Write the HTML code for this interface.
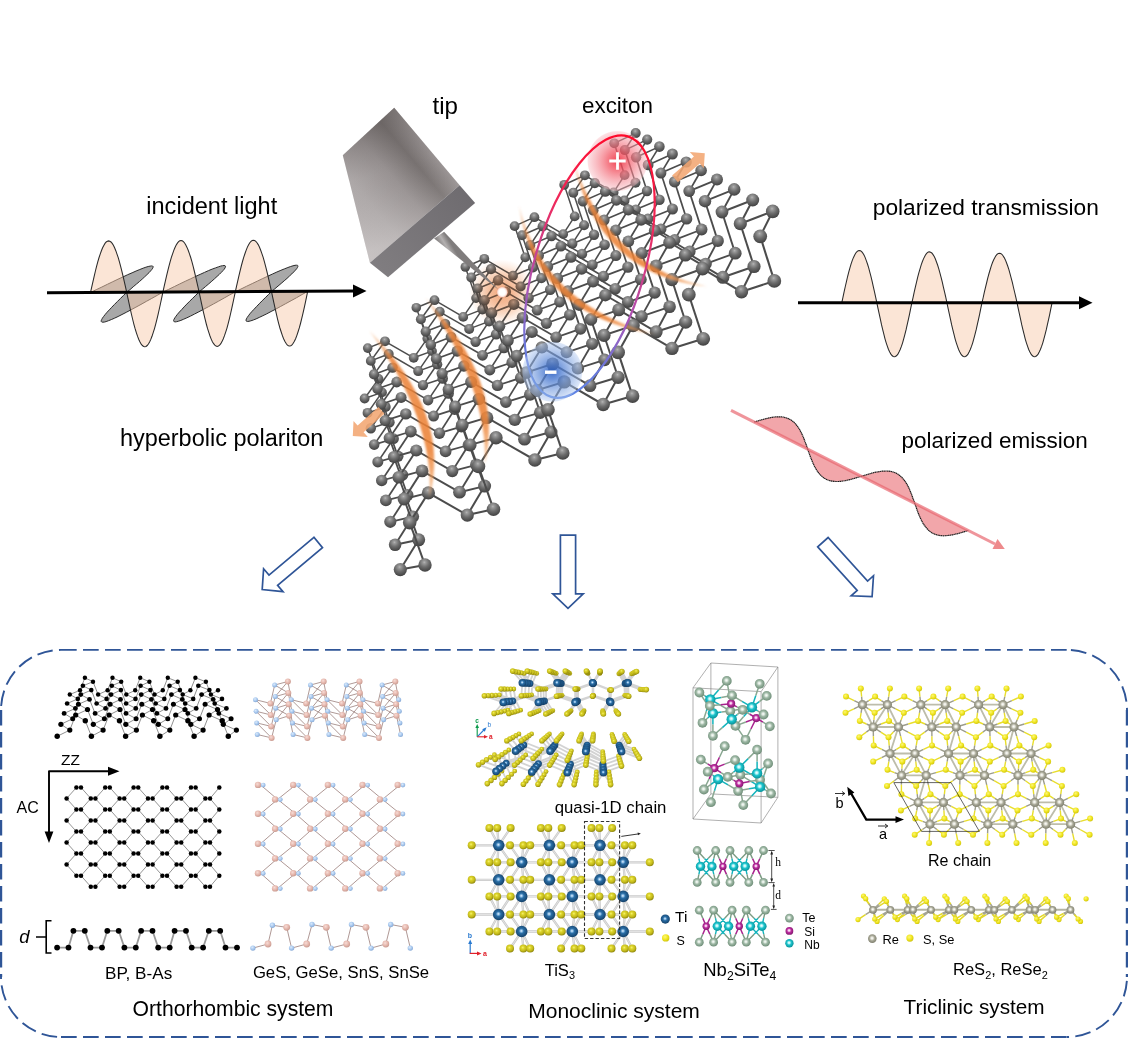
<!DOCTYPE html>
<html><head><meta charset="utf-8"><title>figure</title>
<style>html,body{margin:0;padding:0;background:#fff}svg{display:block}text{font-family:"Liberation Sans",sans-serif;fill:#000}</style>
</head><body>
<svg width="1128" height="1038" viewBox="0 0 1128 1038">
<defs>
<radialGradient id="gs" cx="0.45" cy="0.3" r="0.72"><stop offset="0" stop-color="#b6b6b6"/><stop offset="0.14" stop-color="#9a9a9a"/><stop offset="0.5" stop-color="#6c6c6c"/><stop offset="1" stop-color="#3e3e3e"/></radialGradient>

<linearGradient id="tipTop" gradientUnits="userSpaceOnUse" x1="427" y1="146.5" x2="339.1" y2="220.7"><stop offset="0" stop-color="#9d9797"/><stop offset="0.17" stop-color="#777170"/><stop offset="0.4" stop-color="#9c9696"/><stop offset="0.7" stop-color="#b4afaf"/><stop offset="1" stop-color="#bfbaba"/></linearGradient>
<linearGradient id="tipTop2" gradientUnits="userSpaceOnUse" x1="390" y1="110" x2="425" y2="235"><stop offset="0" stop-color="#585251" stop-opacity="0.5"/><stop offset="0.45" stop-color="#7a7474" stop-opacity="0.12"/><stop offset="1" stop-color="#d8d4d4" stop-opacity="0.3"/></linearGradient>
<linearGradient id="tipSide" gradientUnits="userSpaceOnUse" x1="467" y1="194" x2="379" y2="270"><stop offset="0" stop-color="#6f6c70"/><stop offset="1" stop-color="#807d80"/></linearGradient>
<linearGradient id="needle" gradientUnits="userSpaceOnUse" x1="434" y1="238" x2="444" y2="232"><stop offset="0" stop-color="#7d7a7a"/><stop offset="0.55" stop-color="#b3b0b0"/><stop offset="1" stop-color="#7f7c7c"/></linearGradient>
<linearGradient id="exg" gradientUnits="userSpaceOnUse" x1="0" y1="-136" x2="0" y2="136"><stop offset="0" stop-color="#ff0a2a"/><stop offset="0.3" stop-color="#f0285a"/><stop offset="0.62" stop-color="#b050b0"/><stop offset="0.85" stop-color="#6a78dc"/><stop offset="1" stop-color="#5a86e6"/></linearGradient>
<radialGradient id="redglow"><stop offset="0" stop-color="#ee3444" stop-opacity="0.92"/><stop offset="0.35" stop-color="#f25866" stop-opacity="0.74"/><stop offset="0.8" stop-color="#f69aa4" stop-opacity="0.52"/><stop offset="0.96" stop-color="#f8b4bc" stop-opacity="0.42"/><stop offset="1" stop-color="#f8c0c4" stop-opacity="0"/></radialGradient>
<radialGradient id="blueglow"><stop offset="0" stop-color="#2c60c4" stop-opacity="0.92"/><stop offset="0.35" stop-color="#5482d4" stop-opacity="0.74"/><stop offset="0.8" stop-color="#98b6e8" stop-opacity="0.56"/><stop offset="0.96" stop-color="#b0c8f0" stop-opacity="0.46"/><stop offset="1" stop-color="#b8d0f4" stop-opacity="0"/></radialGradient>
<radialGradient id="orglow"><stop offset="0" stop-color="#f2b088"/><stop offset="0.3" stop-color="#f5bf9e"/><stop offset="0.65" stop-color="#fbe0ce"/><stop offset="1" stop-color="#ffffff"/></radialGradient>
<radialGradient id="orglow2"><stop offset="0" stop-color="#f0a070" stop-opacity="0.3"/><stop offset="0.6" stop-color="#f0a070" stop-opacity="0.16"/><stop offset="1" stop-color="#f0a070" stop-opacity="0"/></radialGradient>
<radialGradient id="whdot"><stop offset="0" stop-color="#fff"/><stop offset="0.55" stop-color="#fff"/><stop offset="0.8" stop-color="#fbe2da"/><stop offset="1" stop-color="#f0a488" stop-opacity="0.9"/></radialGradient>
<filter id="blur1" x="-10%" y="-10%" width="120%" height="120%"><feGaussianBlur stdDeviation="1.3"/></filter>

<radialGradient id="gY" cx="0.42" cy="0.38" r="0.64"><stop offset="0" stop-color="#f6f272"/><stop offset="0.3" stop-color="#dcd42a"/><stop offset="0.65" stop-color="#c4ba1c"/><stop offset="1" stop-color="#8c840a"/></radialGradient>
<radialGradient id="gY2" cx="0.4" cy="0.36" r="0.66"><stop offset="0" stop-color="#fbf77a"/><stop offset="0.55" stop-color="#f1e620"/><stop offset="1" stop-color="#cfc410"/></radialGradient>
<radialGradient id="gTi" cx="0.47" cy="0.45" r="0.6"><stop offset="0" stop-color="#e8f4ff"/><stop offset="0.16" stop-color="#8cbce4"/><stop offset="0.36" stop-color="#2a6ea6"/><stop offset="1" stop-color="#10395f"/></radialGradient>
<radialGradient id="gTe" cx="0.46" cy="0.44" r="0.6"><stop offset="0" stop-color="#fbfdfb"/><stop offset="0.2" stop-color="#dfeae1"/><stop offset="0.45" stop-color="#9fb9a6"/><stop offset="1" stop-color="#668670"/></radialGradient>
<radialGradient id="gNb" cx="0.46" cy="0.44" r="0.6"><stop offset="0" stop-color="#ffffff"/><stop offset="0.2" stop-color="#b8f4f6"/><stop offset="0.45" stop-color="#1cc4cc"/><stop offset="1" stop-color="#078a92"/></radialGradient>
<radialGradient id="gSi" cx="0.46" cy="0.44" r="0.6"><stop offset="0" stop-color="#ffffff"/><stop offset="0.2" stop-color="#f4bce8"/><stop offset="0.45" stop-color="#bc2ea0"/><stop offset="1" stop-color="#7c1468"/></radialGradient>
<radialGradient id="gRe" cx="0.47" cy="0.45" r="0.6"><stop offset="0" stop-color="#ffffff"/><stop offset="0.22" stop-color="#e6e6dc"/><stop offset="0.5" stop-color="#a7a796"/><stop offset="1" stop-color="#787868"/></radialGradient>
<radialGradient id="gPk" cx="0.4" cy="0.36" r="0.66"><stop offset="0" stop-color="#f6dcd6"/><stop offset="0.55" stop-color="#e6b8ae"/><stop offset="1" stop-color="#c89a90"/></radialGradient>
<radialGradient id="gBl" cx="0.4" cy="0.36" r="0.66"><stop offset="0" stop-color="#dcebfb"/><stop offset="0.55" stop-color="#a9c9ef"/><stop offset="1" stop-color="#86a8d4"/></radialGradient>
<linearGradient id="ag0" gradientUnits="userSpaceOnUse" x1="573" y1="160" x2="707" y2="286.5"><stop offset="0" stop-color="#f09a58" stop-opacity="0.3"/><stop offset="0.2" stop-color="#ec8236" stop-opacity="0.85"/><stop offset="0.75" stop-color="#ec8236" stop-opacity="0.88"/><stop offset="1" stop-color="#f4a868" stop-opacity="0.6"/></linearGradient><linearGradient id="ag1" gradientUnits="userSpaceOnUse" x1="519" y1="205.5" x2="655" y2="334.5"><stop offset="0" stop-color="#f09a58" stop-opacity="0.3"/><stop offset="0.2" stop-color="#ec8236" stop-opacity="0.85"/><stop offset="0.75" stop-color="#ec8236" stop-opacity="0.88"/><stop offset="1" stop-color="#f4a868" stop-opacity="0.6"/></linearGradient><linearGradient id="ag2" gradientUnits="userSpaceOnUse" x1="425" y1="297.5" x2="484.8" y2="464"><stop offset="0" stop-color="#f09a58" stop-opacity="0.3"/><stop offset="0.2" stop-color="#ec8236" stop-opacity="0.85"/><stop offset="0.75" stop-color="#ec8236" stop-opacity="0.88"/><stop offset="1" stop-color="#f4a868" stop-opacity="0.6"/></linearGradient><linearGradient id="ag3" gradientUnits="userSpaceOnUse" x1="369.2" y1="330.5" x2="429.3" y2="498"><stop offset="0" stop-color="#f09a58" stop-opacity="0.3"/><stop offset="0.2" stop-color="#ec8236" stop-opacity="0.85"/><stop offset="0.75" stop-color="#ec8236" stop-opacity="0.88"/><stop offset="1" stop-color="#f4a868" stop-opacity="0.6"/></linearGradient></defs>
<rect width="1128" height="1038" fill="#fff"/>
<path d="M90.5 292.5 L96.2 289.7 L101.9 287.0 L107.4 284.3 L112.8 281.7 L118.0 279.2 L123.0 276.9 L127.7 274.7 L132.1 272.8 L136.1 271.0 L139.8 269.5 L143.1 268.2 L145.9 267.2 L148.2 266.5 L150.2 266.1 L151.6 265.9 L152.6 266.0 L153.1 266.5 L153.1 267.2 L152.7 268.2 L151.9 269.4 L150.6 270.9 L149.0 272.7 L147.0 274.6 L144.7 276.8 L142.2 279.1 L139.4 281.6 L136.4 284.1 L133.2 286.8 L130.0 289.6 L126.7 292.3 L123.5 295.4 L120.4 298.5 L117.3 301.6 L114.4 304.5 L111.7 307.3 L109.3 309.9 L107.0 312.3 L105.1 314.6 L103.6 316.5 L102.4 318.2 L101.6 319.7 L101.2 320.8 L101.3 321.6 L101.8 322.1 L102.8 322.2 L104.2 322.1 L106.1 321.6 L108.5 320.7 L111.3 319.6 L114.5 318.2 L118.1 316.5 L122.0 314.5 L126.3 312.3 L131.0 309.8 L135.9 307.2 L141.0 304.4 L146.3 301.4 L151.8 298.4 L157.3 295.3 L162.9 292.1 L168.6 289.4 L174.3 286.6 L179.8 283.9 L185.2 281.3 L190.4 278.9 L195.4 276.5 L200.1 274.4 L204.5 272.4 L208.5 270.6 L212.2 269.1 L215.5 267.9 L218.3 266.9 L220.6 266.1 L222.6 265.7 L224.0 265.5 L225.0 265.7 L225.5 266.1 L225.5 266.8 L225.1 267.8 L224.3 269.1 L223.0 270.6 L221.4 272.3 L219.4 274.3 L217.1 276.4 L214.6 278.7 L211.8 281.2 L208.8 283.8 L205.6 286.5 L202.4 289.2 L199.1 292.0 L195.9 295.1 L192.8 298.2 L189.7 301.2 L186.8 304.1 L184.1 306.9 L181.7 309.6 L179.4 312.0 L177.5 314.2 L176.0 316.2 L174.8 317.9 L174.0 319.3 L173.6 320.4 L173.7 321.2 L174.2 321.7 L175.2 321.9 L176.6 321.7 L178.5 321.2 L180.9 320.4 L183.7 319.2 L186.9 317.8 L190.5 316.1 L194.4 314.1 L198.7 311.9 L203.4 309.4 L208.3 306.8 L213.4 304.0 L218.7 301.1 L224.2 298.0 L229.7 294.9 L235.3 291.8 L241.0 289.0 L246.7 286.2 L252.2 283.6 L257.6 281.0 L262.8 278.5 L267.8 276.2 L272.5 274.0 L276.9 272.0 L280.9 270.3 L284.6 268.8 L287.9 267.5 L290.7 266.5 L293.0 265.8 L295.0 265.3 L296.4 265.2 L297.4 265.3 L297.9 265.7 L297.9 266.5 L297.5 267.4 L296.7 268.7 L295.4 270.2 L293.8 271.9 L291.8 273.9 L289.5 276.0 L287.0 278.4 L284.2 280.8 L281.2 283.4 L278.0 286.1 L274.8 288.8 L271.5 291.6 L268.3 294.7 L265.2 297.8 L262.1 300.8 L259.2 303.8 L256.5 306.6 L254.1 309.2 L251.8 311.6 L249.9 313.8 L248.4 315.8 L247.2 317.5 L246.4 318.9 L246.0 320.0 L246.1 320.9 L246.6 321.3 L247.6 321.5 L249.0 321.3 L250.9 320.8 L253.3 320.0 L256.1 318.9 L259.3 317.4 L262.9 315.7 L266.8 313.8 L271.1 311.5 L275.8 309.1 L280.7 306.4 L285.8 303.6 L291.1 300.7 L296.6 297.7 L302.1 294.5 L307.7 291.4Z" fill="#7f7f7f" fill-opacity="0.68" stroke="#2a2a2a" stroke-width="1"/>
<path d="M90.5 292.5 L91.7 287.1 L92.9 281.8 L94.1 276.6 L95.3 271.5 L96.5 266.7 L97.7 262.2 L98.9 258.0 L100.2 254.2 L101.4 250.8 L102.6 247.8 L103.8 245.4 L105.0 243.4 L106.2 242.0 L107.4 241.2 L108.6 240.9 L109.8 241.2 L111.0 242.0 L112.2 243.4 L113.4 245.3 L114.6 247.8 L115.8 250.7 L117.0 254.1 L118.3 257.9 L119.5 262.1 L120.7 266.6 L121.9 271.4 L123.1 276.4 L124.3 281.6 L125.5 286.9 L126.7 292.3 L127.9 298.0 L129.1 303.6 L130.3 309.1 L131.5 314.5 L132.7 319.5 L133.9 324.3 L135.1 328.7 L136.4 332.8 L137.6 336.4 L138.8 339.5 L140.0 342.0 L141.2 344.1 L142.4 345.5 L143.6 346.4 L144.8 346.7 L146.0 346.4 L147.2 345.5 L148.4 344.0 L149.6 342.0 L150.8 339.4 L152.0 336.3 L153.2 332.7 L154.5 328.6 L155.7 324.2 L156.9 319.4 L158.1 314.3 L159.3 309.0 L160.5 303.5 L161.7 297.8 L162.9 292.1 L164.1 286.7 L165.3 281.4 L166.5 276.2 L167.7 271.2 L168.9 266.4 L170.1 261.8 L171.3 257.6 L172.6 253.8 L173.8 250.4 L175.0 247.5 L176.2 245.0 L177.4 243.1 L178.6 241.7 L179.8 240.8 L181.0 240.5 L182.2 240.8 L183.4 241.7 L184.6 243.0 L185.8 245.0 L187.0 247.4 L188.2 250.3 L189.4 253.7 L190.7 257.5 L191.9 261.7 L193.1 266.2 L194.3 271.0 L195.5 276.1 L196.7 281.3 L197.9 286.6 L199.1 292.0 L200.3 297.6 L201.5 303.3 L202.7 308.8 L203.9 314.1 L205.1 319.2 L206.3 324.0 L207.5 328.4 L208.8 332.4 L210.0 336.0 L211.2 339.1 L212.4 341.7 L213.6 343.7 L214.8 345.2 L216.0 346.1 L217.2 346.4 L218.4 346.1 L219.6 345.2 L220.8 343.7 L222.0 341.6 L223.2 339.0 L224.4 335.9 L225.6 332.3 L226.9 328.3 L228.1 323.8 L229.3 319.1 L230.5 314.0 L231.7 308.6 L232.9 303.1 L234.1 297.5 L235.3 291.8 L236.5 286.4 L237.7 281.1 L238.9 275.8 L240.1 270.8 L241.3 266.0 L242.5 261.5 L243.7 257.3 L245.0 253.5 L246.2 250.1 L247.4 247.1 L248.6 244.7 L249.8 242.7 L251.0 241.3 L252.2 240.5 L253.4 240.2 L254.6 240.5 L255.8 241.3 L257.0 242.7 L258.2 244.6 L259.4 247.0 L260.6 250.0 L261.8 253.4 L263.1 257.2 L264.3 261.4 L265.5 265.9 L266.7 270.7 L267.9 275.7 L269.1 280.9 L270.3 286.2 L271.5 291.6 L272.7 297.3 L273.9 302.9 L275.1 308.4 L276.3 313.7 L277.5 318.8 L278.7 323.6 L279.9 328.0 L281.2 332.0 L282.4 335.6 L283.6 338.7 L284.8 341.3 L286.0 343.3 L287.2 344.8 L288.4 345.7 L289.6 346.0 L290.8 345.7 L292.0 344.8 L293.2 343.3 L294.4 341.3 L295.6 338.7 L296.8 335.6 L298.0 332.0 L299.3 327.9 L300.5 323.5 L301.7 318.7 L302.9 313.6 L304.1 308.3 L305.3 302.8 L306.5 297.1 L307.7 291.4Z" fill="#f8cbad" fill-opacity="0.5" stroke="#2a2a2a" stroke-width="1.05"/>
<path d="M47 292.7L355 291.1" stroke="#000" stroke-width="3"/>
<path d="M366.5 291L353 284.6L353 297.4Z" fill="#000"/>
<path d="M841.8 302.7 L843.0 297.2 L844.1 291.8 L845.3 286.5 L846.5 281.4 L847.6 276.5 L848.8 271.9 L850.0 267.7 L851.1 263.8 L852.3 260.4 L853.5 257.4 L854.7 255.0 L855.8 253.0 L857.0 251.6 L858.2 250.8 L859.3 250.5 L860.5 250.8 L861.7 251.7 L862.8 253.1 L864.0 255.1 L865.2 257.6 L866.3 260.6 L867.5 264.0 L868.7 267.9 L869.8 272.2 L871.0 276.7 L872.2 281.6 L873.3 286.7 L874.5 291.9 L875.7 297.3 L876.8 302.7 L878.0 308.3 L879.2 313.9 L880.4 319.4 L881.5 324.7 L882.7 329.7 L883.9 334.4 L885.0 338.8 L886.2 342.8 L887.4 346.4 L888.5 349.5 L889.7 352.0 L890.9 354.1 L892.0 355.5 L893.2 356.4 L894.4 356.7 L895.5 356.4 L896.7 355.5 L897.9 354.1 L899.0 352.0 L900.2 349.5 L901.4 346.4 L902.6 342.8 L903.7 338.8 L904.9 334.4 L906.1 329.7 L907.2 324.7 L908.4 319.4 L909.6 313.9 L910.7 308.3 L911.9 302.7 L913.1 297.4 L914.2 292.1 L915.4 286.9 L916.6 281.9 L917.7 277.2 L918.9 272.7 L920.1 268.6 L921.2 264.8 L922.4 261.5 L923.6 258.6 L924.8 256.2 L925.9 254.3 L927.1 252.9 L928.3 252.1 L929.4 251.9 L930.6 252.2 L931.8 253.0 L932.9 254.4 L934.1 256.3 L935.3 258.8 L936.4 261.7 L937.6 265.0 L938.8 268.8 L939.9 272.9 L941.1 277.4 L942.3 282.1 L943.4 287.1 L944.6 292.2 L945.8 297.4 L946.9 302.7 L948.1 308.3 L949.3 313.9 L950.5 319.4 L951.6 324.7 L952.8 329.7 L954.0 334.4 L955.1 338.8 L956.3 342.8 L957.5 346.4 L958.6 349.5 L959.8 352.0 L961.0 354.1 L962.1 355.5 L963.3 356.4 L964.5 356.7 L965.6 356.4 L966.8 355.5 L968.0 354.1 L969.1 352.0 L970.3 349.5 L971.5 346.4 L972.7 342.8 L973.8 338.8 L975.0 334.4 L976.2 329.7 L977.3 324.7 L978.5 319.4 L979.7 313.9 L980.8 308.3 L982.0 302.7 L983.2 297.5 L984.3 292.3 L985.5 287.3 L986.7 282.5 L987.8 277.8 L989.0 273.5 L990.2 269.5 L991.3 265.8 L992.5 262.5 L993.7 259.7 L994.9 257.4 L996.0 255.6 L997.2 254.2 L998.4 253.4 L999.5 253.2 L1000.7 253.5 L1001.9 254.3 L1003.0 255.7 L1004.2 257.6 L1005.4 259.9 L1006.5 262.8 L1007.7 266.0 L1008.9 269.7 L1010.0 273.7 L1011.2 278.1 L1012.4 282.7 L1013.5 287.5 L1014.7 292.5 L1015.9 297.6 L1017.0 302.7 L1018.2 308.3 L1019.4 313.9 L1020.6 319.4 L1021.7 324.7 L1022.9 329.7 L1024.1 334.4 L1025.2 338.8 L1026.4 342.8 L1027.6 346.4 L1028.7 349.5 L1029.9 352.0 L1031.1 354.1 L1032.2 355.5 L1033.4 356.4 L1034.6 356.7 L1035.7 356.4 L1036.9 355.5 L1038.1 354.1 L1039.2 352.0 L1040.4 349.5 L1041.6 346.4 L1042.8 342.8 L1043.9 338.8 L1045.1 334.4 L1046.3 329.7 L1047.4 324.7 L1048.6 319.4 L1049.8 313.9 L1050.9 308.3 L1052.1 302.7Z" fill="#f8cbad" fill-opacity="0.5" stroke="#2a2a2a" stroke-width="1.05"/>
<path d="M798 302.7L1082 302.7" stroke="#000" stroke-width="3"/>
<path d="M1092.5 302.7L1079 296.2L1079 309.2Z" fill="#000"/>
<path d="M754.2 422.0 L756.9 421.2 L759.5 420.4 L762.1 419.7 L764.7 419.0 L767.3 418.3 L769.8 417.8 L772.3 417.3 L774.7 417.0 L777.0 416.8 L779.3 416.8 L781.5 416.9 L783.6 417.2 L785.6 417.7 L787.5 418.3 L789.3 419.1 L791.1 420.1 L792.7 421.3 L794.3 422.6 L795.7 424.1 L797.1 425.8 L798.4 427.7 L799.7 429.7 L800.8 431.8 L801.9 434.0 L803.0 436.4 L804.0 438.8 L804.9 441.4 L805.9 443.9 L806.8 446.5 L807.7 449.2 L808.6 451.8 L809.5 454.4 L810.5 457.0 L811.5 459.5 L812.5 461.9 L813.5 464.3 L814.6 466.5 L815.8 468.7 L817.0 470.6 L818.3 472.5 L819.7 474.2 L821.2 475.7 L822.7 477.1 L824.4 478.2 L826.1 479.2 L827.9 480.0 L829.9 480.7 L831.9 481.1 L834.0 481.4 L836.2 481.5 L838.4 481.5 L840.8 481.3 L843.2 481.0 L845.6 480.6 L848.1 480.0 L850.7 479.4 L853.3 478.7 L855.9 477.9 L858.6 477.1 L861.2 476.3 L863.9 475.5 L866.5 474.7 L869.2 473.9 L871.8 473.2 L874.3 472.5 L876.9 472.0 L879.3 471.6 L881.7 471.2 L884.1 471.1 L886.3 471.0 L888.5 471.1 L890.6 471.4 L892.6 471.9 L894.5 472.5 L896.4 473.3 L898.1 474.3 L899.7 475.5 L901.3 476.9 L902.8 478.4 L904.2 480.1 L905.5 481.9 L906.7 483.9 L907.9 486.0 L909.0 488.3 L910.0 490.6 L911.0 493.1 L912.0 495.6 L912.9 498.2 L913.9 500.8 L914.8 503.4 L915.7 506.0 L916.6 508.6 L917.5 511.2 L918.5 513.7 L919.5 516.2 L920.6 518.5 L921.7 520.8 L922.8 522.9 L924.1 524.9 L925.4 526.7 L926.8 528.4 L928.2 529.9 L929.8 531.3 L931.4 532.5 L933.2 533.5 L935.0 534.3 L936.9 534.9 L938.9 535.4 L941.0 535.6 L943.2 535.8 L945.5 535.7 L947.8 535.5 L950.2 535.2 L952.7 534.8 L955.2 534.2 L957.8 533.6 L960.4 532.9 L963.0 532.1 L965.6 531.3 L968.3 530.5Z" fill="#ea6a72" fill-opacity="0.6"/>
<path d="M754.2 422.0 L756.9 421.2 L759.5 420.4 L762.1 419.7 L764.7 419.0 L767.3 418.3 L769.8 417.8 L772.3 417.3 L774.7 417.0 L777.0 416.8 L779.3 416.8 L781.5 416.9 L783.6 417.2 L785.6 417.7 L787.5 418.3 L789.3 419.1 L791.1 420.1 L792.7 421.3 L794.3 422.6 L795.7 424.1 L797.1 425.8 L798.4 427.7 L799.7 429.7 L800.8 431.8 L801.9 434.0 L803.0 436.4 L804.0 438.8 L804.9 441.4 L805.9 443.9 L806.8 446.5 L807.7 449.2 L808.6 451.8 L809.5 454.4 L810.5 457.0 L811.5 459.5 L812.5 461.9 L813.5 464.3 L814.6 466.5 L815.8 468.7 L817.0 470.6 L818.3 472.5 L819.7 474.2 L821.2 475.7 L822.7 477.1 L824.4 478.2 L826.1 479.2 L827.9 480.0 L829.9 480.7 L831.9 481.1 L834.0 481.4 L836.2 481.5 L838.4 481.5 L840.8 481.3 L843.2 481.0 L845.6 480.6 L848.1 480.0 L850.7 479.4 L853.3 478.7 L855.9 477.9 L858.6 477.1 L861.2 476.3 L863.9 475.5 L866.5 474.7 L869.2 473.9 L871.8 473.2 L874.3 472.5 L876.9 472.0 L879.3 471.6 L881.7 471.2 L884.1 471.1 L886.3 471.0 L888.5 471.1 L890.6 471.4 L892.6 471.9 L894.5 472.5 L896.4 473.3 L898.1 474.3 L899.7 475.5 L901.3 476.9 L902.8 478.4 L904.2 480.1 L905.5 481.9 L906.7 483.9 L907.9 486.0 L909.0 488.3 L910.0 490.6 L911.0 493.1 L912.0 495.6 L912.9 498.2 L913.9 500.8 L914.8 503.4 L915.7 506.0 L916.6 508.6 L917.5 511.2 L918.5 513.7 L919.5 516.2 L920.6 518.5 L921.7 520.8 L922.8 522.9 L924.1 524.9 L925.4 526.7 L926.8 528.4 L928.2 529.9 L929.8 531.3 L931.4 532.5 L933.2 533.5 L935.0 534.3 L936.9 534.9 L938.9 535.4 L941.0 535.6 L943.2 535.8 L945.5 535.7 L947.8 535.5 L950.2 535.2 L952.7 534.8 L955.2 534.2 L957.8 533.6 L960.4 532.9 L963.0 532.1 L965.6 531.3 L968.3 530.5" fill="none" stroke="#1c1c1c" stroke-width="1.2" stroke-dasharray="1.4 0.4"/>
<path d="M731 410.3L995.0 544.0" stroke="#e8636b" stroke-opacity="0.68" stroke-width="3"/>
<path d="M1004.8 549L997.5 539.1L992.5 548.9Z" fill="#ee8a8c"/>
<g id="lat">
<path d="M367.7 348.1L378.6 378.8" stroke="#4c4c4c" stroke-width="1.45"/>
<path d="M378.6 378.8L364.6 398.5" stroke="#4c4c4c" stroke-width="1.46"/>
<circle cx="378.6" cy="378.8" r="4.8" fill="url(#gs)"/>
<path d="M385.0 341.3L367.7 348.1" stroke="#4c4c4c" stroke-width="1.47"/>
<circle cx="367.7" cy="348.1" r="4.8" fill="url(#gs)"/>
<path d="M416.3 307.7L427.2 338.6" stroke="#4c4c4c" stroke-width="1.46"/>
<path d="M427.2 338.6L413.7 357.8" stroke="#4c4c4c" stroke-width="1.47"/>
<circle cx="427.2" cy="338.6" r="4.8" fill="url(#gs)"/>
<path d="M434.5 300.2L416.3 307.7" stroke="#4c4c4c" stroke-width="1.47"/>
<circle cx="416.3" cy="307.7" r="4.8" fill="url(#gs)"/>
<path d="M465.3 267.0L476.0 298.1" stroke="#4c4c4c" stroke-width="1.46"/>
<path d="M476.0 298.1L463.2 316.9" stroke="#4c4c4c" stroke-width="1.47"/>
<circle cx="476.0" cy="298.1" r="4.8" fill="url(#gs)"/>
<path d="M484.3 258.8L465.3 267.0" stroke="#4c4c4c" stroke-width="1.48"/>
<circle cx="465.3" cy="267.0" r="4.8" fill="url(#gs)"/>
<path d="M514.6 226.1L525.2 257.4" stroke="#4c4c4c" stroke-width="1.47"/>
<path d="M525.2 257.4L513.0 275.7" stroke="#4c4c4c" stroke-width="1.48"/>
<circle cx="525.2" cy="257.4" r="4.8" fill="url(#gs)"/>
<path d="M534.4 217.2L514.6 226.1" stroke="#4c4c4c" stroke-width="1.48"/>
<circle cx="514.6" cy="226.1" r="4.9" fill="url(#gs)"/>
<path d="M564.2 184.8L574.7 216.4" stroke="#4c4c4c" stroke-width="1.47"/>
<path d="M574.7 216.4L563.2 234.1" stroke="#4c4c4c" stroke-width="1.48"/>
<circle cx="574.7" cy="216.4" r="4.9" fill="url(#gs)"/>
<path d="M382.0 392.4L364.6 398.5" stroke="#4c4c4c" stroke-width="1.48"/>
<circle cx="364.6" cy="398.5" r="4.9" fill="url(#gs)"/>
<path d="M584.9 175.3L564.2 184.8" stroke="#4c4c4c" stroke-width="1.49"/>
<circle cx="564.2" cy="184.8" r="4.9" fill="url(#gs)"/>
<path d="M614.2 143.3L624.6 175.1" stroke="#4c4c4c" stroke-width="1.48"/>
<path d="M624.6 175.1L613.6 192.4" stroke="#4c4c4c" stroke-width="1.49"/>
<circle cx="624.6" cy="175.1" r="4.9" fill="url(#gs)"/>
<path d="M432.0 351.1L413.7 357.8" stroke="#4c4c4c" stroke-width="1.49"/>
<path d="M413.7 357.8L385.0 341.3" stroke="#4c4c4c" stroke-width="1.48"/>
<circle cx="413.7" cy="357.8" r="4.9" fill="url(#gs)"/>
<path d="M385.0 341.3L370.8 360.9" stroke="#4c4c4c" stroke-width="1.49"/>
<circle cx="385.0" cy="341.3" r="4.9" fill="url(#gs)"/>
<path d="M635.7 133.1L614.2 143.3" stroke="#4c4c4c" stroke-width="1.49"/>
<circle cx="614.2" cy="143.3" r="4.9" fill="url(#gs)"/>
<path d="M482.4 309.4L463.2 316.9" stroke="#4c4c4c" stroke-width="1.49"/>
<path d="M463.2 316.9L434.5 300.2" stroke="#4c4c4c" stroke-width="1.48"/>
<circle cx="463.2" cy="316.9" r="4.9" fill="url(#gs)"/>
<path d="M434.5 300.2L420.9 319.3" stroke="#4c4c4c" stroke-width="1.49"/>
<circle cx="434.5" cy="300.2" r="4.9" fill="url(#gs)"/>
<path d="M533.0 267.5L513.0 275.7" stroke="#4c4c4c" stroke-width="1.50"/>
<path d="M513.0 275.7L484.3 258.8" stroke="#4c4c4c" stroke-width="1.49"/>
<circle cx="513.0" cy="275.7" r="4.9" fill="url(#gs)"/>
<path d="M484.3 258.8L471.3 277.4" stroke="#4c4c4c" stroke-width="1.50"/>
<circle cx="484.3" cy="258.8" r="4.9" fill="url(#gs)"/>
<path d="M584.1 225.3L563.2 234.1" stroke="#4c4c4c" stroke-width="1.50"/>
<path d="M563.2 234.1L534.4 217.2" stroke="#4c4c4c" stroke-width="1.49"/>
<circle cx="563.2" cy="234.1" r="4.9" fill="url(#gs)"/>
<path d="M534.4 217.2L522.1 235.3" stroke="#4c4c4c" stroke-width="1.50"/>
<circle cx="534.4" cy="217.2" r="4.9" fill="url(#gs)"/>
<path d="M370.8 360.9L382.0 392.4" stroke="#4c4c4c" stroke-width="1.50"/>
<path d="M382.0 392.4L367.6 412.9" stroke="#4c4c4c" stroke-width="1.50"/>
<circle cx="382.0" cy="392.4" r="4.9" fill="url(#gs)"/>
<path d="M635.5 182.8L613.6 192.4" stroke="#4c4c4c" stroke-width="1.51"/>
<path d="M613.6 192.4L584.9 175.3" stroke="#4c4c4c" stroke-width="1.50"/>
<circle cx="613.6" cy="192.4" r="4.9" fill="url(#gs)"/>
<path d="M584.9 175.3L573.3 192.8" stroke="#4c4c4c" stroke-width="1.51"/>
<circle cx="584.9" cy="175.3" r="4.9" fill="url(#gs)"/>
<path d="M388.7 354.0L370.8 360.9" stroke="#4c4c4c" stroke-width="1.51"/>
<circle cx="370.8" cy="360.9" r="4.9" fill="url(#gs)"/>
<path d="M420.9 319.3L432.0 351.1" stroke="#4c4c4c" stroke-width="1.50"/>
<path d="M432.0 351.1L418.2 371.1" stroke="#4c4c4c" stroke-width="1.51"/>
<circle cx="432.0" cy="351.1" r="4.9" fill="url(#gs)"/>
<path d="M635.7 133.1L624.8 150.1" stroke="#4c4c4c" stroke-width="1.51"/>
<circle cx="635.7" cy="133.1" r="5.0" fill="url(#gs)"/>
<path d="M439.7 311.8L420.9 319.3" stroke="#4c4c4c" stroke-width="1.52"/>
<circle cx="420.9" cy="319.3" r="5.0" fill="url(#gs)"/>
<path d="M471.3 277.4L482.4 309.4" stroke="#4c4c4c" stroke-width="1.51"/>
<path d="M482.4 309.4L469.2 328.9" stroke="#4c4c4c" stroke-width="1.52"/>
<circle cx="482.4" cy="309.4" r="5.0" fill="url(#gs)"/>
<path d="M491.0 269.2L471.3 277.4" stroke="#4c4c4c" stroke-width="1.52"/>
<circle cx="471.3" cy="277.4" r="5.0" fill="url(#gs)"/>
<path d="M522.1 235.3L533.0 267.5" stroke="#4c4c4c" stroke-width="1.51"/>
<path d="M533.0 267.5L520.6 286.5" stroke="#4c4c4c" stroke-width="1.52"/>
<circle cx="533.0" cy="267.5" r="5.0" fill="url(#gs)"/>
<path d="M542.7 226.3L522.1 235.3" stroke="#4c4c4c" stroke-width="1.53"/>
<circle cx="522.1" cy="235.3" r="5.0" fill="url(#gs)"/>
<path d="M573.3 192.8L584.1 225.3" stroke="#4c4c4c" stroke-width="1.52"/>
<path d="M584.1 225.3L572.3 243.7" stroke="#4c4c4c" stroke-width="1.53"/>
<circle cx="584.1" cy="225.3" r="5.0" fill="url(#gs)"/>
<path d="M385.6 406.9L367.6 412.9" stroke="#4c4c4c" stroke-width="1.53"/>
<circle cx="367.6" cy="412.9" r="5.0" fill="url(#gs)"/>
<path d="M594.8 183.1L573.3 192.8" stroke="#4c4c4c" stroke-width="1.53"/>
<circle cx="573.3" cy="192.8" r="5.0" fill="url(#gs)"/>
<path d="M624.8 150.1L635.5 182.8" stroke="#4c4c4c" stroke-width="1.52"/>
<path d="M635.5 182.8L624.4 200.7" stroke="#4c4c4c" stroke-width="1.53"/>
<circle cx="635.5" cy="182.8" r="5.0" fill="url(#gs)"/>
<path d="M437.2 364.3L418.2 371.1" stroke="#4c4c4c" stroke-width="1.53"/>
<path d="M418.2 371.1L388.7 354.0" stroke="#4c4c4c" stroke-width="1.52"/>
<circle cx="418.2" cy="371.1" r="5.0" fill="url(#gs)"/>
<path d="M388.7 354.0L374.0 374.4" stroke="#4c4c4c" stroke-width="1.53"/>
<circle cx="388.7" cy="354.0" r="5.0" fill="url(#gs)"/>
<path d="M647.2 139.6L624.8 150.1" stroke="#4c4c4c" stroke-width="1.54"/>
<circle cx="624.8" cy="150.1" r="5.0" fill="url(#gs)"/>
<path d="M489.1 321.4L469.2 328.9" stroke="#4c4c4c" stroke-width="1.54"/>
<path d="M469.2 328.9L439.7 311.8" stroke="#4c4c4c" stroke-width="1.53"/>
<circle cx="469.2" cy="328.9" r="5.0" fill="url(#gs)"/>
<path d="M439.7 311.8L425.7 331.6" stroke="#4c4c4c" stroke-width="1.54"/>
<circle cx="439.7" cy="311.8" r="5.0" fill="url(#gs)"/>
<path d="M541.4 278.2L520.6 286.5" stroke="#4c4c4c" stroke-width="1.54"/>
<path d="M520.6 286.5L491.0 269.2" stroke="#4c4c4c" stroke-width="1.53"/>
<circle cx="520.6" cy="286.5" r="5.1" fill="url(#gs)"/>
<path d="M491.0 269.2L477.7 288.5" stroke="#4c4c4c" stroke-width="1.54"/>
<circle cx="491.0" cy="269.2" r="5.1" fill="url(#gs)"/>
<path d="M594.0 234.8L572.3 243.7" stroke="#4c4c4c" stroke-width="1.55"/>
<path d="M572.3 243.7L542.7 226.3" stroke="#4c4c4c" stroke-width="1.54"/>
<circle cx="572.3" cy="243.7" r="5.1" fill="url(#gs)"/>
<path d="M542.7 226.3L530.1 245.1" stroke="#4c4c4c" stroke-width="1.55"/>
<circle cx="542.7" cy="226.3" r="5.1" fill="url(#gs)"/>
<path d="M374.0 374.4L385.6 406.9" stroke="#4c4c4c" stroke-width="1.54"/>
<path d="M385.6 406.9L370.8 428.3" stroke="#4c4c4c" stroke-width="1.55"/>
<circle cx="385.6" cy="406.9" r="5.1" fill="url(#gs)"/>
<path d="M647.0 191.0L624.4 200.7" stroke="#4c4c4c" stroke-width="1.55"/>
<path d="M624.4 200.7L594.8 183.1" stroke="#4c4c4c" stroke-width="1.54"/>
<circle cx="624.4" cy="200.7" r="5.1" fill="url(#gs)"/>
<path d="M594.8 183.1L582.9 201.3" stroke="#4c4c4c" stroke-width="1.56"/>
<circle cx="594.8" cy="183.1" r="5.1" fill="url(#gs)"/>
<path d="M392.5 367.6L374.0 374.4" stroke="#4c4c4c" stroke-width="1.56"/>
<circle cx="374.0" cy="374.4" r="5.1" fill="url(#gs)"/>
<path d="M425.7 331.6L437.2 364.3" stroke="#4c4c4c" stroke-width="1.55"/>
<path d="M437.2 364.3L423.0 385.1" stroke="#4c4c4c" stroke-width="1.56"/>
<circle cx="437.2" cy="364.3" r="5.1" fill="url(#gs)"/>
<path d="M647.2 139.6L636.1 157.3" stroke="#4c4c4c" stroke-width="1.56"/>
<circle cx="647.2" cy="139.6" r="5.1" fill="url(#gs)"/>
<path d="M445.1 324.0L425.7 331.6" stroke="#4c4c4c" stroke-width="1.56"/>
<circle cx="425.7" cy="331.6" r="5.1" fill="url(#gs)"/>
<path d="M477.7 288.5L489.1 321.4" stroke="#4c4c4c" stroke-width="1.55"/>
<path d="M489.1 321.4L475.6 341.7" stroke="#4c4c4c" stroke-width="1.56"/>
<circle cx="489.1" cy="321.4" r="5.1" fill="url(#gs)"/>
<path d="M498.1 280.2L477.7 288.5" stroke="#4c4c4c" stroke-width="1.57"/>
<circle cx="477.7" cy="288.5" r="5.1" fill="url(#gs)"/>
<path d="M530.1 245.1L541.4 278.2" stroke="#4c4c4c" stroke-width="1.56"/>
<path d="M541.4 278.2L528.6 298.0" stroke="#4c4c4c" stroke-width="1.57"/>
<circle cx="541.4" cy="278.2" r="5.1" fill="url(#gs)"/>
<path d="M551.5 236.0L530.1 245.1" stroke="#4c4c4c" stroke-width="1.57"/>
<circle cx="530.1" cy="245.1" r="5.2" fill="url(#gs)"/>
<path d="M582.9 201.3L594.0 234.8" stroke="#4c4c4c" stroke-width="1.56"/>
<path d="M594.0 234.8L582.0 253.9" stroke="#4c4c4c" stroke-width="1.57"/>
<circle cx="594.0" cy="234.8" r="5.2" fill="url(#gs)"/>
<path d="M389.5 422.3L370.8 428.3" stroke="#4c4c4c" stroke-width="1.58"/>
<circle cx="370.8" cy="428.3" r="5.2" fill="url(#gs)"/>
<path d="M605.2 191.4L582.9 201.3" stroke="#4c4c4c" stroke-width="1.58"/>
<circle cx="582.9" cy="201.3" r="5.2" fill="url(#gs)"/>
<path d="M636.1 157.3L647.0 191.0" stroke="#4c4c4c" stroke-width="1.57"/>
<path d="M647.0 191.0L635.8 209.6" stroke="#4c4c4c" stroke-width="1.58"/>
<circle cx="647.0" cy="191.0" r="5.2" fill="url(#gs)"/>
<path d="M442.7 378.4L423.0 385.1" stroke="#4c4c4c" stroke-width="1.58"/>
<path d="M423.0 385.1L392.5 367.6" stroke="#4c4c4c" stroke-width="1.57"/>
<circle cx="423.0" cy="385.1" r="5.2" fill="url(#gs)"/>
<path d="M392.5 367.6L377.5 388.8" stroke="#4c4c4c" stroke-width="1.58"/>
<circle cx="392.5" cy="367.6" r="5.2" fill="url(#gs)"/>
<path d="M659.4 146.6L636.1 157.3" stroke="#4c4c4c" stroke-width="1.59"/>
<circle cx="636.1" cy="157.3" r="5.2" fill="url(#gs)"/>
<path d="M496.2 334.2L475.6 341.7" stroke="#4c4c4c" stroke-width="1.59"/>
<path d="M475.6 341.7L445.1 324.0" stroke="#4c4c4c" stroke-width="1.58"/>
<circle cx="475.6" cy="341.7" r="5.2" fill="url(#gs)"/>
<path d="M445.1 324.0L430.8 344.7" stroke="#4c4c4c" stroke-width="1.59"/>
<circle cx="445.1" cy="324.0" r="5.2" fill="url(#gs)"/>
<path d="M550.2 289.7L528.6 298.0" stroke="#4c4c4c" stroke-width="1.59"/>
<path d="M528.6 298.0L498.1 280.2" stroke="#4c4c4c" stroke-width="1.58"/>
<circle cx="528.6" cy="298.0" r="5.2" fill="url(#gs)"/>
<path d="M498.1 280.2L484.5 300.2" stroke="#4c4c4c" stroke-width="1.59"/>
<circle cx="498.1" cy="280.2" r="5.2" fill="url(#gs)"/>
<path d="M604.6 244.8L582.0 253.9" stroke="#4c4c4c" stroke-width="1.60"/>
<path d="M582.0 253.9L551.5 236.0" stroke="#4c4c4c" stroke-width="1.59"/>
<circle cx="582.0" cy="253.9" r="5.2" fill="url(#gs)"/>
<path d="M551.5 236.0L538.7 255.5" stroke="#4c4c4c" stroke-width="1.60"/>
<circle cx="551.5" cy="236.0" r="5.2" fill="url(#gs)"/>
<path d="M377.5 388.8L389.5 422.3" stroke="#4c4c4c" stroke-width="1.59"/>
<path d="M389.5 422.3L374.2 444.6" stroke="#4c4c4c" stroke-width="1.60"/>
<circle cx="389.5" cy="422.3" r="5.2" fill="url(#gs)"/>
<path d="M659.4 199.7L635.8 209.6" stroke="#4c4c4c" stroke-width="1.60"/>
<path d="M635.8 209.6L605.2 191.4" stroke="#4c4c4c" stroke-width="1.59"/>
<circle cx="635.8" cy="209.6" r="5.2" fill="url(#gs)"/>
<path d="M605.2 191.4L593.2 210.3" stroke="#4c4c4c" stroke-width="1.61"/>
<circle cx="605.2" cy="191.4" r="5.3" fill="url(#gs)"/>
<path d="M396.7 382.0L377.5 388.8" stroke="#4c4c4c" stroke-width="1.61"/>
<circle cx="377.5" cy="388.8" r="5.3" fill="url(#gs)"/>
<path d="M430.8 344.7L442.7 378.4" stroke="#4c4c4c" stroke-width="1.60"/>
<path d="M442.7 378.4L428.1 400.1" stroke="#4c4c4c" stroke-width="1.61"/>
<circle cx="442.7" cy="378.4" r="5.3" fill="url(#gs)"/>
<path d="M659.4 146.6L648.1 164.9" stroke="#4c4c4c" stroke-width="1.61"/>
<circle cx="659.4" cy="146.6" r="5.3" fill="url(#gs)"/>
<path d="M451.0 337.1L430.8 344.7" stroke="#4c4c4c" stroke-width="1.61"/>
<circle cx="430.8" cy="344.7" r="5.3" fill="url(#gs)"/>
<path d="M484.5 300.2L496.2 334.2" stroke="#4c4c4c" stroke-width="1.60"/>
<path d="M496.2 334.2L482.5 355.3" stroke="#4c4c4c" stroke-width="1.61"/>
<circle cx="496.2" cy="334.2" r="5.3" fill="url(#gs)"/>
<path d="M505.7 291.8L484.5 300.2" stroke="#4c4c4c" stroke-width="1.62"/>
<circle cx="484.5" cy="300.2" r="5.3" fill="url(#gs)"/>
<path d="M538.7 255.5L550.2 289.7" stroke="#4c4c4c" stroke-width="1.61"/>
<path d="M550.2 289.7L537.2 310.2" stroke="#4c4c4c" stroke-width="1.62"/>
<circle cx="550.2" cy="289.7" r="5.3" fill="url(#gs)"/>
<path d="M560.9 246.2L538.7 255.5" stroke="#4c4c4c" stroke-width="1.63"/>
<circle cx="538.7" cy="255.5" r="5.3" fill="url(#gs)"/>
<path d="M593.2 210.3L604.6 244.8" stroke="#4c4c4c" stroke-width="1.61"/>
<path d="M604.6 244.8L592.3 264.8" stroke="#4c4c4c" stroke-width="1.62"/>
<circle cx="604.6" cy="244.8" r="5.3" fill="url(#gs)"/>
<path d="M393.5 438.7L374.2 444.6" stroke="#4c4c4c" stroke-width="1.63"/>
<circle cx="374.2" cy="444.6" r="5.3" fill="url(#gs)"/>
<path d="M616.4 200.3L593.2 210.3" stroke="#4c4c4c" stroke-width="1.63"/>
<circle cx="593.2" cy="210.3" r="5.3" fill="url(#gs)"/>
<path d="M648.1 164.9L659.4 199.7" stroke="#4c4c4c" stroke-width="1.62"/>
<path d="M659.4 199.7L647.9 219.0" stroke="#4c4c4c" stroke-width="1.63"/>
<circle cx="659.4" cy="199.7" r="5.3" fill="url(#gs)"/>
<path d="M448.5 393.4L428.1 400.1" stroke="#4c4c4c" stroke-width="1.63"/>
<path d="M428.1 400.1L396.7 382.0" stroke="#4c4c4c" stroke-width="1.62"/>
<circle cx="428.1" cy="400.1" r="5.3" fill="url(#gs)"/>
<path d="M396.7 382.0L381.2 404.2" stroke="#4c4c4c" stroke-width="1.63"/>
<circle cx="396.7" cy="382.0" r="5.4" fill="url(#gs)"/>
<path d="M672.4 154.0L648.1 164.9" stroke="#4c4c4c" stroke-width="1.64"/>
<circle cx="648.1" cy="164.9" r="5.4" fill="url(#gs)"/>
<path d="M503.9 347.8L482.5 355.3" stroke="#4c4c4c" stroke-width="1.64"/>
<path d="M482.5 355.3L451.0 337.1" stroke="#4c4c4c" stroke-width="1.63"/>
<circle cx="482.5" cy="355.3" r="5.4" fill="url(#gs)"/>
<path d="M451.0 337.1L436.3 358.7" stroke="#4c4c4c" stroke-width="1.64"/>
<circle cx="451.0" cy="337.1" r="5.4" fill="url(#gs)"/>
<path d="M559.7 301.9L537.2 310.2" stroke="#4c4c4c" stroke-width="1.64"/>
<path d="M537.2 310.2L505.7 291.8" stroke="#4c4c4c" stroke-width="1.63"/>
<circle cx="537.2" cy="310.2" r="5.4" fill="url(#gs)"/>
<path d="M505.7 291.8L491.8 312.8" stroke="#4c4c4c" stroke-width="1.65"/>
<circle cx="505.7" cy="291.8" r="5.4" fill="url(#gs)"/>
<path d="M615.9 255.6L592.3 264.8" stroke="#4c4c4c" stroke-width="1.65"/>
<path d="M592.3 264.8L560.9 246.2" stroke="#4c4c4c" stroke-width="1.64"/>
<circle cx="592.3" cy="264.8" r="5.4" fill="url(#gs)"/>
<path d="M560.9 246.2L547.7 266.6" stroke="#4c4c4c" stroke-width="1.65"/>
<circle cx="560.9" cy="246.2" r="5.4" fill="url(#gs)"/>
<path d="M381.2 404.2L393.5 438.7" stroke="#4c4c4c" stroke-width="1.64"/>
<path d="M393.5 438.7L377.8 461.9" stroke="#4c4c4c" stroke-width="1.65"/>
<circle cx="393.5" cy="438.7" r="5.4" fill="url(#gs)"/>
<path d="M672.5 209.0L647.9 219.0" stroke="#4c4c4c" stroke-width="1.66"/>
<path d="M647.9 219.0L616.4 200.3" stroke="#4c4c4c" stroke-width="1.64"/>
<circle cx="647.9" cy="219.0" r="5.4" fill="url(#gs)"/>
<path d="M616.4 200.3L604.1 220.0" stroke="#4c4c4c" stroke-width="1.66"/>
<circle cx="616.4" cy="200.3" r="5.4" fill="url(#gs)"/>
<path d="M401.1 397.4L381.2 404.2" stroke="#4c4c4c" stroke-width="1.66"/>
<circle cx="381.2" cy="404.2" r="5.4" fill="url(#gs)"/>
<path d="M436.3 358.7L448.5 393.4" stroke="#4c4c4c" stroke-width="1.65"/>
<path d="M448.5 393.4L433.6 416.1" stroke="#4c4c4c" stroke-width="1.66"/>
<circle cx="448.5" cy="393.4" r="5.4" fill="url(#gs)"/>
<path d="M672.4 154.0L660.9 173.1" stroke="#4c4c4c" stroke-width="1.66"/>
<circle cx="672.4" cy="154.0" r="5.5" fill="url(#gs)"/>
<path d="M457.2 351.1L436.3 358.7" stroke="#4c4c4c" stroke-width="1.67"/>
<circle cx="436.3" cy="358.7" r="5.5" fill="url(#gs)"/>
<path d="M491.8 312.8L503.9 347.8" stroke="#4c4c4c" stroke-width="1.66"/>
<path d="M503.9 347.8L489.8 369.9" stroke="#4c4c4c" stroke-width="1.67"/>
<circle cx="503.9" cy="347.8" r="5.5" fill="url(#gs)"/>
<path d="M513.8 304.3L491.8 312.8" stroke="#4c4c4c" stroke-width="1.67"/>
<circle cx="491.8" cy="312.8" r="5.5" fill="url(#gs)"/>
<path d="M547.7 266.6L559.7 301.9" stroke="#4c4c4c" stroke-width="1.66"/>
<path d="M559.7 301.9L546.4 323.3" stroke="#4c4c4c" stroke-width="1.67"/>
<circle cx="559.7" cy="301.9" r="5.5" fill="url(#gs)"/>
<path d="M570.9 257.2L547.7 266.6" stroke="#4c4c4c" stroke-width="1.68"/>
<circle cx="547.7" cy="266.6" r="5.5" fill="url(#gs)"/>
<path d="M604.1 220.0L615.9 255.6" stroke="#4c4c4c" stroke-width="1.67"/>
<path d="M615.9 255.6L603.4 276.4" stroke="#4c4c4c" stroke-width="1.68"/>
<circle cx="615.9" cy="255.6" r="5.5" fill="url(#gs)"/>
<path d="M397.9 456.2L377.8 461.9" stroke="#4c4c4c" stroke-width="1.68"/>
<circle cx="377.8" cy="461.9" r="5.5" fill="url(#gs)"/>
<path d="M628.3 209.8L604.1 220.0" stroke="#4c4c4c" stroke-width="1.69"/>
<circle cx="604.1" cy="220.0" r="5.5" fill="url(#gs)"/>
<path d="M660.9 173.1L672.5 209.0" stroke="#4c4c4c" stroke-width="1.67"/>
<path d="M672.5 209.0L660.9 229.1" stroke="#4c4c4c" stroke-width="1.69"/>
<circle cx="672.5" cy="209.0" r="5.5" fill="url(#gs)"/>
<path d="M454.7 409.4L433.6 416.1" stroke="#4c4c4c" stroke-width="1.69"/>
<path d="M433.6 416.1L401.1 397.4" stroke="#4c4c4c" stroke-width="1.67"/>
<circle cx="433.6" cy="416.1" r="5.5" fill="url(#gs)"/>
<path d="M401.1 397.4L385.2 420.6" stroke="#4c4c4c" stroke-width="1.69"/>
<circle cx="401.1" cy="397.4" r="5.5" fill="url(#gs)"/>
<path d="M686.2 162.0L660.9 173.1" stroke="#4c4c4c" stroke-width="1.69"/>
<circle cx="660.9" cy="173.1" r="5.5" fill="url(#gs)"/>
<path d="M512.0 362.4L489.8 369.9" stroke="#4c4c4c" stroke-width="1.69"/>
<path d="M489.8 369.9L457.2 351.1" stroke="#4c4c4c" stroke-width="1.68"/>
<circle cx="489.8" cy="369.9" r="5.5" fill="url(#gs)"/>
<path d="M457.2 351.1L442.1 373.6" stroke="#4c4c4c" stroke-width="1.70"/>
<circle cx="457.2" cy="351.1" r="5.6" fill="url(#gs)"/>
<path d="M569.7 314.9L546.4 323.3" stroke="#4c4c4c" stroke-width="1.70"/>
<path d="M546.4 323.3L513.8 304.3" stroke="#4c4c4c" stroke-width="1.69"/>
<circle cx="546.4" cy="323.3" r="5.6" fill="url(#gs)"/>
<path d="M513.8 304.3L499.6 326.2" stroke="#4c4c4c" stroke-width="1.70"/>
<circle cx="513.8" cy="304.3" r="5.6" fill="url(#gs)"/>
<path d="M627.9 267.1L603.4 276.4" stroke="#4c4c4c" stroke-width="1.71"/>
<path d="M603.4 276.4L570.9 257.2" stroke="#4c4c4c" stroke-width="1.69"/>
<circle cx="603.4" cy="276.4" r="5.6" fill="url(#gs)"/>
<path d="M570.9 257.2L557.4 278.4" stroke="#4c4c4c" stroke-width="1.71"/>
<circle cx="570.9" cy="257.2" r="5.6" fill="url(#gs)"/>
<path d="M385.2 420.6L397.9 456.2" stroke="#4c4c4c" stroke-width="1.70"/>
<path d="M397.9 456.2L381.7 480.5" stroke="#4c4c4c" stroke-width="1.71"/>
<circle cx="397.9" cy="456.2" r="5.6" fill="url(#gs)"/>
<path d="M686.6 218.9L660.9 229.1" stroke="#4c4c4c" stroke-width="1.71"/>
<path d="M660.9 229.1L628.3 209.8" stroke="#4c4c4c" stroke-width="1.70"/>
<circle cx="660.9" cy="229.1" r="5.6" fill="url(#gs)"/>
<path d="M628.3 209.8L615.8 230.3" stroke="#4c4c4c" stroke-width="1.72"/>
<circle cx="628.3" cy="209.8" r="5.6" fill="url(#gs)"/>
<path d="M405.8 413.9L385.2 420.6" stroke="#4c4c4c" stroke-width="1.72"/>
<circle cx="385.2" cy="420.6" r="5.6" fill="url(#gs)"/>
<path d="M442.1 373.6L454.7 409.4" stroke="#4c4c4c" stroke-width="1.71"/>
<path d="M454.7 409.4L439.4 433.2" stroke="#4c4c4c" stroke-width="1.72"/>
<circle cx="454.7" cy="409.4" r="5.6" fill="url(#gs)"/>
<path d="M686.2 162.0L674.6 181.8" stroke="#4c4c4c" stroke-width="1.72"/>
<circle cx="686.2" cy="162.0" r="5.6" fill="url(#gs)"/>
<path d="M463.9 366.0L442.1 373.6" stroke="#4c4c4c" stroke-width="1.72"/>
<circle cx="442.1" cy="373.6" r="5.6" fill="url(#gs)"/>
<path d="M499.6 326.2L512.0 362.4" stroke="#4c4c4c" stroke-width="1.71"/>
<path d="M512.0 362.4L497.5 385.4" stroke="#4c4c4c" stroke-width="1.72"/>
<circle cx="512.0" cy="362.4" r="5.6" fill="url(#gs)"/>
<path d="M522.5 317.7L499.6 326.2" stroke="#4c4c4c" stroke-width="1.73"/>
<circle cx="499.6" cy="326.2" r="5.7" fill="url(#gs)"/>
<path d="M557.4 278.4L569.7 314.9" stroke="#4c4c4c" stroke-width="1.72"/>
<path d="M569.7 314.9L556.1 337.3" stroke="#4c4c4c" stroke-width="1.73"/>
<circle cx="569.7" cy="314.9" r="5.7" fill="url(#gs)"/>
<path d="M581.6 269.0L557.4 278.4" stroke="#4c4c4c" stroke-width="1.74"/>
<circle cx="557.4" cy="278.4" r="5.7" fill="url(#gs)"/>
<path d="M615.8 230.3L627.9 267.1" stroke="#4c4c4c" stroke-width="1.73"/>
<path d="M627.9 267.1L615.2 288.8" stroke="#4c4c4c" stroke-width="1.74"/>
<circle cx="627.9" cy="267.1" r="5.7" fill="url(#gs)"/>
<path d="M402.5 474.9L381.7 480.5" stroke="#4c4c4c" stroke-width="1.74"/>
<circle cx="381.7" cy="480.5" r="5.7" fill="url(#gs)"/>
<path d="M641.1 219.9L615.8 230.3" stroke="#4c4c4c" stroke-width="1.74"/>
<circle cx="615.8" cy="230.3" r="5.7" fill="url(#gs)"/>
<path d="M674.6 181.8L686.6 218.9" stroke="#4c4c4c" stroke-width="1.73"/>
<path d="M686.6 218.9L674.7 239.9" stroke="#4c4c4c" stroke-width="1.74"/>
<circle cx="686.6" cy="218.9" r="5.7" fill="url(#gs)"/>
<path d="M461.4 426.6L439.4 433.2" stroke="#4c4c4c" stroke-width="1.75"/>
<path d="M439.4 433.2L405.8 413.9" stroke="#4c4c4c" stroke-width="1.73"/>
<circle cx="439.4" cy="433.2" r="5.7" fill="url(#gs)"/>
<path d="M405.8 413.9L389.4 438.1" stroke="#4c4c4c" stroke-width="1.75"/>
<circle cx="405.8" cy="413.9" r="5.7" fill="url(#gs)"/>
<path d="M701.1 170.5L674.6 181.8" stroke="#4c4c4c" stroke-width="1.75"/>
<circle cx="674.6" cy="181.8" r="5.7" fill="url(#gs)"/>
<path d="M520.7 377.9L497.5 385.4" stroke="#4c4c4c" stroke-width="1.75"/>
<path d="M497.5 385.4L463.9 366.0" stroke="#4c4c4c" stroke-width="1.74"/>
<circle cx="497.5" cy="385.4" r="5.7" fill="url(#gs)"/>
<path d="M463.9 366.0L448.4 389.5" stroke="#4c4c4c" stroke-width="1.75"/>
<circle cx="463.9" cy="366.0" r="5.7" fill="url(#gs)"/>
<path d="M580.5 328.9L556.1 337.3" stroke="#4c4c4c" stroke-width="1.76"/>
<path d="M556.1 337.3L522.5 317.7" stroke="#4c4c4c" stroke-width="1.75"/>
<circle cx="556.1" cy="337.3" r="5.8" fill="url(#gs)"/>
<path d="M522.5 317.7L507.9 340.5" stroke="#4c4c4c" stroke-width="1.76"/>
<circle cx="522.5" cy="317.7" r="5.8" fill="url(#gs)"/>
<path d="M640.8 279.4L615.2 288.8" stroke="#4c4c4c" stroke-width="1.77"/>
<path d="M615.2 288.8L581.6 269.0" stroke="#4c4c4c" stroke-width="1.75"/>
<circle cx="615.2" cy="288.8" r="5.8" fill="url(#gs)"/>
<path d="M581.6 269.0L567.8 291.1" stroke="#4c4c4c" stroke-width="1.77"/>
<circle cx="581.6" cy="269.0" r="5.8" fill="url(#gs)"/>
<path d="M389.4 438.1L402.5 474.9" stroke="#4c4c4c" stroke-width="1.76"/>
<path d="M402.5 474.9L385.9 500.4" stroke="#4c4c4c" stroke-width="1.77"/>
<circle cx="402.5" cy="474.9" r="5.8" fill="url(#gs)"/>
<path d="M701.6 229.5L674.7 239.9" stroke="#4c4c4c" stroke-width="1.77"/>
<path d="M674.7 239.9L641.1 219.9" stroke="#4c4c4c" stroke-width="1.76"/>
<circle cx="674.7" cy="239.9" r="5.8" fill="url(#gs)"/>
<path d="M641.1 219.9L628.3 241.3" stroke="#4c4c4c" stroke-width="1.78"/>
<circle cx="641.1" cy="219.9" r="5.8" fill="url(#gs)"/>
<path d="M410.8 431.5L389.4 438.1" stroke="#4c4c4c" stroke-width="1.78"/>
<circle cx="389.4" cy="438.1" r="5.8" fill="url(#gs)"/>
<path d="M448.4 389.5L461.4 426.6" stroke="#4c4c4c" stroke-width="1.77"/>
<path d="M461.4 426.6L445.6 451.4" stroke="#4c4c4c" stroke-width="1.78"/>
<circle cx="461.4" cy="426.6" r="5.8" fill="url(#gs)"/>
<path d="M701.1 170.5L689.2 191.1" stroke="#4c4c4c" stroke-width="1.78"/>
<circle cx="701.1" cy="170.5" r="5.8" fill="url(#gs)"/>
<path d="M471.1 382.0L448.4 389.5" stroke="#4c4c4c" stroke-width="1.79"/>
<circle cx="448.4" cy="389.5" r="5.8" fill="url(#gs)"/>
<path d="M507.9 340.5L520.7 377.9" stroke="#4c4c4c" stroke-width="1.77"/>
<path d="M520.7 377.9L505.9 402.1" stroke="#4c4c4c" stroke-width="1.78"/>
<circle cx="520.7" cy="377.9" r="5.8" fill="url(#gs)"/>
<path d="M531.8 332.0L507.9 340.5" stroke="#4c4c4c" stroke-width="1.79"/>
<circle cx="507.9" cy="340.5" r="5.9" fill="url(#gs)"/>
<path d="M567.8 291.1L580.5 328.9" stroke="#4c4c4c" stroke-width="1.78"/>
<path d="M580.5 328.9L566.6 352.3" stroke="#4c4c4c" stroke-width="1.79"/>
<circle cx="580.5" cy="328.9" r="5.9" fill="url(#gs)"/>
<path d="M593.0 281.6L567.8 291.1" stroke="#4c4c4c" stroke-width="1.80"/>
<circle cx="567.8" cy="291.1" r="5.9" fill="url(#gs)"/>
<path d="M628.3 241.3L640.8 279.4" stroke="#4c4c4c" stroke-width="1.79"/>
<path d="M640.8 279.4L627.9 302.1" stroke="#4c4c4c" stroke-width="1.80"/>
<circle cx="640.8" cy="279.4" r="5.9" fill="url(#gs)"/>
<path d="M407.5 495.0L385.9 500.4" stroke="#4c4c4c" stroke-width="1.80"/>
<circle cx="385.9" cy="500.4" r="5.9" fill="url(#gs)"/>
<path d="M654.8 230.8L628.3 241.3" stroke="#4c4c4c" stroke-width="1.81"/>
<circle cx="628.3" cy="241.3" r="5.9" fill="url(#gs)"/>
<path d="M689.2 191.1L701.6 229.5" stroke="#4c4c4c" stroke-width="1.79"/>
<path d="M701.6 229.5L689.6 251.5" stroke="#4c4c4c" stroke-width="1.81"/>
<circle cx="701.6" cy="229.5" r="5.9" fill="url(#gs)"/>
<path d="M468.6 445.0L445.6 451.4" stroke="#4c4c4c" stroke-width="1.81"/>
<path d="M445.6 451.4L410.8 431.5" stroke="#4c4c4c" stroke-width="1.79"/>
<circle cx="445.6" cy="451.4" r="5.9" fill="url(#gs)"/>
<path d="M410.8 431.5L393.9 456.9" stroke="#4c4c4c" stroke-width="1.81"/>
<circle cx="410.8" cy="431.5" r="5.9" fill="url(#gs)"/>
<path d="M717.0 179.6L689.2 191.1" stroke="#4c4c4c" stroke-width="1.82"/>
<circle cx="689.2" cy="191.1" r="5.9" fill="url(#gs)"/>
<path d="M530.1 394.6L505.9 402.1" stroke="#4c4c4c" stroke-width="1.82"/>
<path d="M505.9 402.1L471.1 382.0" stroke="#4c4c4c" stroke-width="1.80"/>
<circle cx="505.9" cy="402.1" r="5.9" fill="url(#gs)"/>
<path d="M471.1 382.0L455.1 406.6" stroke="#4c4c4c" stroke-width="1.82"/>
<circle cx="471.1" cy="382.0" r="6.0" fill="url(#gs)"/>
<path d="M592.1 343.8L566.6 352.3" stroke="#4c4c4c" stroke-width="1.82"/>
<path d="M566.6 352.3L531.8 332.0" stroke="#4c4c4c" stroke-width="1.81"/>
<circle cx="566.6" cy="352.3" r="6.0" fill="url(#gs)"/>
<path d="M531.8 332.0L516.8 355.9" stroke="#4c4c4c" stroke-width="1.83"/>
<circle cx="531.8" cy="332.0" r="6.0" fill="url(#gs)"/>
<path d="M654.7 292.6L627.9 302.1" stroke="#4c4c4c" stroke-width="1.83"/>
<path d="M627.9 302.1L593.0 281.6" stroke="#4c4c4c" stroke-width="1.82"/>
<circle cx="627.9" cy="302.1" r="6.0" fill="url(#gs)"/>
<path d="M593.0 281.6L579.0 304.8" stroke="#4c4c4c" stroke-width="1.83"/>
<circle cx="593.0" cy="281.6" r="6.0" fill="url(#gs)"/>
<path d="M393.9 456.9L407.5 495.0" stroke="#4c4c4c" stroke-width="1.82"/>
<path d="M407.5 495.0L390.3 521.8" stroke="#4c4c4c" stroke-width="1.83"/>
<circle cx="407.5" cy="495.0" r="6.0" fill="url(#gs)"/>
<path d="M717.8 240.9L689.6 251.5" stroke="#4c4c4c" stroke-width="1.84"/>
<path d="M689.6 251.5L654.8 230.8" stroke="#4c4c4c" stroke-width="1.82"/>
<circle cx="689.6" cy="251.5" r="6.0" fill="url(#gs)"/>
<path d="M654.8 230.8L641.7 253.2" stroke="#4c4c4c" stroke-width="1.84"/>
<circle cx="654.8" cy="230.8" r="6.0" fill="url(#gs)"/>
<path d="M416.3 450.5L393.9 456.9" stroke="#4c4c4c" stroke-width="1.84"/>
<circle cx="393.9" cy="456.9" r="6.0" fill="url(#gs)"/>
<path d="M455.1 406.6L468.6 445.0" stroke="#4c4c4c" stroke-width="1.83"/>
<path d="M468.6 445.0L452.3 471.1" stroke="#4c4c4c" stroke-width="1.84"/>
<circle cx="468.6" cy="445.0" r="6.0" fill="url(#gs)"/>
<path d="M717.0 179.6L705.0 201.2" stroke="#4c4c4c" stroke-width="1.85"/>
<circle cx="717.0" cy="179.6" r="6.0" fill="url(#gs)"/>
<path d="M478.8 399.1L455.1 406.6" stroke="#4c4c4c" stroke-width="1.85"/>
<circle cx="455.1" cy="406.6" r="6.1" fill="url(#gs)"/>
<path d="M516.8 355.9L530.1 394.6" stroke="#4c4c4c" stroke-width="1.84"/>
<path d="M530.1 394.6L514.8 419.9" stroke="#4c4c4c" stroke-width="1.85"/>
<circle cx="530.1" cy="394.6" r="6.1" fill="url(#gs)"/>
<path d="M541.8 347.4L516.8 355.9" stroke="#4c4c4c" stroke-width="1.86"/>
<circle cx="516.8" cy="355.9" r="6.1" fill="url(#gs)"/>
<path d="M579.0 304.8L592.1 343.8" stroke="#4c4c4c" stroke-width="1.85"/>
<path d="M592.1 343.8L577.9 368.4" stroke="#4c4c4c" stroke-width="1.86"/>
<circle cx="592.1" cy="343.8" r="6.1" fill="url(#gs)"/>
<path d="M605.4 295.2L579.0 304.8" stroke="#4c4c4c" stroke-width="1.87"/>
<circle cx="579.0" cy="304.8" r="6.1" fill="url(#gs)"/>
<path d="M641.7 253.2L654.7 292.6" stroke="#4c4c4c" stroke-width="1.85"/>
<path d="M654.7 292.6L641.5 316.4" stroke="#4c4c4c" stroke-width="1.87"/>
<circle cx="654.7" cy="292.6" r="6.1" fill="url(#gs)"/>
<path d="M412.9 516.6L390.3 521.8" stroke="#4c4c4c" stroke-width="1.87"/>
<circle cx="390.3" cy="521.8" r="6.1" fill="url(#gs)"/>
<path d="M669.5 242.5L641.7 253.2" stroke="#4c4c4c" stroke-width="1.88"/>
<circle cx="641.7" cy="253.2" r="6.1" fill="url(#gs)"/>
<path d="M705.0 201.2L717.8 240.9" stroke="#4c4c4c" stroke-width="1.86"/>
<path d="M717.8 240.9L705.6 263.9" stroke="#4c4c4c" stroke-width="1.87"/>
<circle cx="717.8" cy="240.9" r="6.1" fill="url(#gs)"/>
<path d="M476.3 464.8L452.3 471.1" stroke="#4c4c4c" stroke-width="1.88"/>
<path d="M452.3 471.1L416.3 450.5" stroke="#4c4c4c" stroke-width="1.86"/>
<circle cx="452.3" cy="471.1" r="6.1" fill="url(#gs)"/>
<path d="M416.3 450.5L398.8 477.2" stroke="#4c4c4c" stroke-width="1.88"/>
<circle cx="416.3" cy="450.5" r="6.1" fill="url(#gs)"/>
<path d="M734.2 189.4L705.0 201.2" stroke="#4c4c4c" stroke-width="1.88"/>
<circle cx="705.0" cy="201.2" r="6.2" fill="url(#gs)"/>
<path d="M540.2 412.6L514.8 419.9" stroke="#4c4c4c" stroke-width="1.88"/>
<path d="M514.8 419.9L478.8 399.1" stroke="#4c4c4c" stroke-width="1.87"/>
<circle cx="514.8" cy="419.9" r="6.2" fill="url(#gs)"/>
<path d="M478.8 399.1L462.3 425.0" stroke="#4c4c4c" stroke-width="1.89"/>
<circle cx="478.8" cy="399.1" r="6.2" fill="url(#gs)"/>
<path d="M604.6 359.9L577.9 368.4" stroke="#4c4c4c" stroke-width="1.89"/>
<path d="M577.9 368.4L541.8 347.4" stroke="#4c4c4c" stroke-width="1.88"/>
<circle cx="577.9" cy="368.4" r="6.2" fill="url(#gs)"/>
<path d="M541.8 347.4L526.4 372.5" stroke="#4c4c4c" stroke-width="1.89"/>
<circle cx="541.8" cy="347.4" r="6.2" fill="url(#gs)"/>
<path d="M669.6 306.8L641.5 316.4" stroke="#4c4c4c" stroke-width="1.90"/>
<path d="M641.5 316.4L605.4 295.2" stroke="#4c4c4c" stroke-width="1.88"/>
<circle cx="641.5" cy="316.4" r="6.2" fill="url(#gs)"/>
<path d="M605.4 295.2L591.0 319.4" stroke="#4c4c4c" stroke-width="1.90"/>
<circle cx="605.4" cy="295.2" r="6.2" fill="url(#gs)"/>
<path d="M398.8 477.2L412.9 516.6" stroke="#4c4c4c" stroke-width="1.89"/>
<path d="M412.9 516.6L395.1 544.8" stroke="#4c4c4c" stroke-width="1.90"/>
<circle cx="412.9" cy="516.6" r="6.2" fill="url(#gs)"/>
<path d="M735.2 253.2L705.6 263.9" stroke="#4c4c4c" stroke-width="1.91"/>
<path d="M705.6 263.9L669.5 242.5" stroke="#4c4c4c" stroke-width="1.89"/>
<circle cx="705.6" cy="263.9" r="6.2" fill="url(#gs)"/>
<path d="M669.5 242.5L656.2 265.9" stroke="#4c4c4c" stroke-width="1.91"/>
<circle cx="669.5" cy="242.5" r="6.3" fill="url(#gs)"/>
<path d="M422.1 470.9L398.8 477.2" stroke="#4c4c4c" stroke-width="1.91"/>
<circle cx="398.8" cy="477.2" r="6.3" fill="url(#gs)"/>
<path d="M462.3 425.0L476.3 464.8" stroke="#4c4c4c" stroke-width="1.90"/>
<path d="M476.3 464.8L459.5 492.2" stroke="#4c4c4c" stroke-width="1.91"/>
<circle cx="476.3" cy="464.8" r="6.3" fill="url(#gs)"/>
<path d="M734.2 189.4L722.0 212.0" stroke="#4c4c4c" stroke-width="1.92"/>
<circle cx="734.2" cy="189.4" r="6.3" fill="url(#gs)"/>
<path d="M487.0 417.7L462.3 425.0" stroke="#4c4c4c" stroke-width="1.92"/>
<circle cx="462.3" cy="425.0" r="6.3" fill="url(#gs)"/>
<path d="M526.4 372.5L540.2 412.6" stroke="#4c4c4c" stroke-width="1.91"/>
<path d="M540.2 412.6L524.5 439.2" stroke="#4c4c4c" stroke-width="1.92"/>
<circle cx="540.2" cy="412.6" r="6.3" fill="url(#gs)"/>
<path d="M552.6 363.9L526.4 372.5" stroke="#4c4c4c" stroke-width="1.93"/>
<circle cx="526.4" cy="372.5" r="6.3" fill="url(#gs)"/>
<path d="M591.0 319.4L604.6 359.9" stroke="#4c4c4c" stroke-width="1.92"/>
<path d="M604.6 359.9L590.0 385.7" stroke="#4c4c4c" stroke-width="1.93"/>
<circle cx="604.6" cy="359.9" r="6.3" fill="url(#gs)"/>
<path d="M618.7 309.8L591.0 319.4" stroke="#4c4c4c" stroke-width="1.94"/>
<circle cx="591.0" cy="319.4" r="6.3" fill="url(#gs)"/>
<path d="M656.2 265.9L669.6 306.8" stroke="#4c4c4c" stroke-width="1.92"/>
<path d="M669.6 306.8L656.2 331.8" stroke="#4c4c4c" stroke-width="1.94"/>
<circle cx="669.6" cy="306.8" r="6.3" fill="url(#gs)"/>
<path d="M418.7 539.8L395.1 544.8" stroke="#4c4c4c" stroke-width="1.94"/>
<circle cx="395.1" cy="544.8" r="6.3" fill="url(#gs)"/>
<path d="M685.4 255.1L656.2 265.9" stroke="#4c4c4c" stroke-width="1.95"/>
<circle cx="656.2" cy="265.9" r="6.4" fill="url(#gs)"/>
<path d="M722.0 212.0L735.2 253.2" stroke="#4c4c4c" stroke-width="1.93"/>
<path d="M735.2 253.2L722.9 277.3" stroke="#4c4c4c" stroke-width="1.95"/>
<circle cx="735.2" cy="253.2" r="6.4" fill="url(#gs)"/>
<path d="M484.6 486.1L459.5 492.2" stroke="#4c4c4c" stroke-width="1.95"/>
<path d="M459.5 492.2L422.1 470.9" stroke="#4c4c4c" stroke-width="1.93"/>
<circle cx="459.5" cy="492.2" r="6.4" fill="url(#gs)"/>
<path d="M422.1 470.9L404.1 499.0" stroke="#4c4c4c" stroke-width="1.95"/>
<circle cx="422.1" cy="470.9" r="6.4" fill="url(#gs)"/>
<path d="M752.7 200.0L722.0 212.0" stroke="#4c4c4c" stroke-width="1.96"/>
<circle cx="722.0" cy="212.0" r="6.4" fill="url(#gs)"/>
<path d="M551.0 432.0L524.5 439.2" stroke="#4c4c4c" stroke-width="1.96"/>
<path d="M524.5 439.2L487.0 417.7" stroke="#4c4c4c" stroke-width="1.94"/>
<circle cx="524.5" cy="439.2" r="6.4" fill="url(#gs)"/>
<path d="M487.0 417.7L470.1 444.9" stroke="#4c4c4c" stroke-width="1.96"/>
<circle cx="487.0" cy="417.7" r="6.4" fill="url(#gs)"/>
<path d="M618.1 377.3L590.0 385.7" stroke="#4c4c4c" stroke-width="1.97"/>
<path d="M590.0 385.7L552.6 363.9" stroke="#4c4c4c" stroke-width="1.95"/>
<circle cx="590.0" cy="385.7" r="6.4" fill="url(#gs)"/>
<path d="M552.6 363.9L536.8 390.3" stroke="#4c4c4c" stroke-width="1.97"/>
<circle cx="552.6" cy="363.9" r="6.4" fill="url(#gs)"/>
<path d="M685.7 322.2L656.2 331.8" stroke="#4c4c4c" stroke-width="1.98"/>
<path d="M656.2 331.8L618.7 309.8" stroke="#4c4c4c" stroke-width="1.96"/>
<circle cx="656.2" cy="331.8" r="6.5" fill="url(#gs)"/>
<path d="M618.7 309.8L604.0 335.3" stroke="#4c4c4c" stroke-width="1.98"/>
<circle cx="618.7" cy="309.8" r="6.5" fill="url(#gs)"/>
<path d="M404.1 499.0L418.7 539.8" stroke="#4c4c4c" stroke-width="1.97"/>
<path d="M418.7 539.8L400.3 569.6" stroke="#4c4c4c" stroke-width="1.98"/>
<circle cx="418.7" cy="539.8" r="6.5" fill="url(#gs)"/>
<path d="M754.0 266.5L722.9 277.3" stroke="#4c4c4c" stroke-width="1.98"/>
<path d="M722.9 277.3L685.4 255.1" stroke="#4c4c4c" stroke-width="1.97"/>
<circle cx="722.9" cy="277.3" r="6.5" fill="url(#gs)"/>
<path d="M685.4 255.1L671.9 279.7" stroke="#4c4c4c" stroke-width="1.99"/>
<circle cx="685.4" cy="255.1" r="6.5" fill="url(#gs)"/>
<path d="M428.4 492.9L404.1 499.0" stroke="#4c4c4c" stroke-width="1.99"/>
<circle cx="404.1" cy="499.0" r="6.5" fill="url(#gs)"/>
<path d="M470.1 444.9L484.6 486.1" stroke="#4c4c4c" stroke-width="1.97"/>
<path d="M484.6 486.1L467.3 515.1" stroke="#4c4c4c" stroke-width="1.99"/>
<circle cx="484.6" cy="486.1" r="6.5" fill="url(#gs)"/>
<path d="M752.7 200.0L740.3 223.7" stroke="#4c4c4c" stroke-width="2.00"/>
<circle cx="752.7" cy="200.0" r="6.5" fill="url(#gs)"/>
<path d="M496.0 437.7L470.1 444.9" stroke="#4c4c4c" stroke-width="2.00"/>
<circle cx="470.1" cy="444.9" r="6.5" fill="url(#gs)"/>
<path d="M536.8 390.3L551.0 432.0" stroke="#4c4c4c" stroke-width="1.98"/>
<path d="M551.0 432.0L534.9 460.0" stroke="#4c4c4c" stroke-width="2.00"/>
<circle cx="551.0" cy="432.0" r="6.5" fill="url(#gs)"/>
<path d="M564.2 381.9L536.8 390.3" stroke="#4c4c4c" stroke-width="2.01"/>
<circle cx="536.8" cy="390.3" r="6.6" fill="url(#gs)"/>
<path d="M604.0 335.3L618.1 377.3" stroke="#4c4c4c" stroke-width="1.99"/>
<path d="M618.1 377.3L603.2 404.5" stroke="#4c4c4c" stroke-width="2.01"/>
<circle cx="618.1" cy="377.3" r="6.6" fill="url(#gs)"/>
<path d="M633.1 325.6L604.0 335.3" stroke="#4c4c4c" stroke-width="2.02"/>
<circle cx="604.0" cy="335.3" r="6.6" fill="url(#gs)"/>
<path d="M671.9 279.7L685.7 322.2" stroke="#4c4c4c" stroke-width="2.00"/>
<path d="M685.7 322.2L672.0 348.4" stroke="#4c4c4c" stroke-width="2.02"/>
<circle cx="685.7" cy="322.2" r="6.6" fill="url(#gs)"/>
<path d="M425.0 565.0L400.3 569.6" stroke="#4c4c4c" stroke-width="2.02"/>
<circle cx="400.3" cy="569.6" r="6.6" fill="url(#gs)"/>
<path d="M702.5 268.7L671.9 279.7" stroke="#4c4c4c" stroke-width="2.03"/>
<circle cx="671.9" cy="279.7" r="6.6" fill="url(#gs)"/>
<path d="M740.3 223.7L754.0 266.5" stroke="#4c4c4c" stroke-width="2.01"/>
<path d="M754.0 266.5L741.5 291.8" stroke="#4c4c4c" stroke-width="2.02"/>
<circle cx="754.0" cy="266.5" r="6.6" fill="url(#gs)"/>
<path d="M493.5 509.2L467.3 515.1" stroke="#4c4c4c" stroke-width="2.03"/>
<path d="M467.3 515.1L428.4 492.9" stroke="#4c4c4c" stroke-width="2.01"/>
<circle cx="467.3" cy="515.1" r="6.6" fill="url(#gs)"/>
<path d="M428.4 492.9L409.7 522.6" stroke="#4c4c4c" stroke-width="2.03"/>
<circle cx="428.4" cy="492.9" r="6.6" fill="url(#gs)"/>
<path d="M772.7 211.4L740.3 223.7" stroke="#4c4c4c" stroke-width="2.04"/>
<circle cx="740.3" cy="223.7" r="6.6" fill="url(#gs)"/>
<path d="M562.8 453.0L534.9 460.0" stroke="#4c4c4c" stroke-width="2.04"/>
<path d="M534.9 460.0L496.0 437.7" stroke="#4c4c4c" stroke-width="2.02"/>
<circle cx="534.9" cy="460.0" r="6.7" fill="url(#gs)"/>
<path d="M496.0 437.7L478.5 466.4" stroke="#4c4c4c" stroke-width="2.04"/>
<circle cx="496.0" cy="437.7" r="6.7" fill="url(#gs)"/>
<path d="M632.6 396.1L603.2 404.5" stroke="#4c4c4c" stroke-width="2.05"/>
<path d="M603.2 404.5L564.2 381.9" stroke="#4c4c4c" stroke-width="2.03"/>
<circle cx="603.2" cy="404.5" r="6.7" fill="url(#gs)"/>
<path d="M564.2 381.9L548.0 409.7" stroke="#4c4c4c" stroke-width="2.05"/>
<circle cx="564.2" cy="381.9" r="6.7" fill="url(#gs)"/>
<path d="M703.2 338.8L672.0 348.4" stroke="#4c4c4c" stroke-width="2.06"/>
<path d="M672.0 348.4L633.1 325.6" stroke="#4c4c4c" stroke-width="2.04"/>
<circle cx="672.0" cy="348.4" r="6.7" fill="url(#gs)"/>
<path d="M633.1 325.6L618.1 352.4" stroke="#4c4c4c" stroke-width="2.06"/>
<circle cx="633.1" cy="325.6" r="6.7" fill="url(#gs)"/>
<path d="M409.7 522.6L425.0 565.0" stroke="#4c4c4c" stroke-width="2.05"/>
<circle cx="425.0" cy="565.0" r="6.7" fill="url(#gs)"/>
<path d="M774.3 280.9L741.5 291.8" stroke="#4c4c4c" stroke-width="2.07"/>
<path d="M741.5 291.8L702.5 268.7" stroke="#4c4c4c" stroke-width="2.05"/>
<circle cx="741.5" cy="291.8" r="6.7" fill="url(#gs)"/>
<path d="M702.5 268.7L688.8 294.7" stroke="#4c4c4c" stroke-width="2.07"/>
<circle cx="702.5" cy="268.7" r="6.8" fill="url(#gs)"/>
<circle cx="409.7" cy="522.6" r="6.8" fill="url(#gs)"/>
<path d="M478.5 466.4L493.5 509.2" stroke="#4c4c4c" stroke-width="2.06"/>
<circle cx="493.5" cy="509.2" r="6.8" fill="url(#gs)"/>
<path d="M772.7 211.4L760.2 236.3" stroke="#4c4c4c" stroke-width="2.08"/>
<circle cx="772.7" cy="211.4" r="6.8" fill="url(#gs)"/>
<circle cx="478.5" cy="466.4" r="6.8" fill="url(#gs)"/>
<path d="M548.0 409.7L562.8 453.0" stroke="#4c4c4c" stroke-width="2.06"/>
<circle cx="562.8" cy="453.0" r="6.8" fill="url(#gs)"/>
<circle cx="548.0" cy="409.7" r="6.8" fill="url(#gs)"/>
<path d="M618.1 352.4L632.6 396.1" stroke="#4c4c4c" stroke-width="2.07"/>
<circle cx="632.6" cy="396.1" r="6.8" fill="url(#gs)"/>
<circle cx="618.1" cy="352.4" r="6.9" fill="url(#gs)"/>
<path d="M688.8 294.7L703.2 338.8" stroke="#4c4c4c" stroke-width="2.08"/>
<circle cx="703.2" cy="338.8" r="6.9" fill="url(#gs)"/>
<circle cx="688.8" cy="294.7" r="6.9" fill="url(#gs)"/>
<path d="M760.2 236.3L774.3 280.9" stroke="#4c4c4c" stroke-width="2.09"/>
<circle cx="774.3" cy="280.9" r="6.9" fill="url(#gs)"/>
<circle cx="760.2" cy="236.3" r="6.9" fill="url(#gs)"/>
</g>
<circle cx="502" cy="292.5" r="33" fill="url(#orglow)" style="mix-blend-mode:multiply"/><circle cx="502" cy="292.5" r="26" fill="url(#orglow2)"/><circle cx="502.2" cy="292.2" r="5.6" fill="url(#whdot)"/>
<path d="M434.1 238.4L444.1 231.8L498.5 289.8Z" fill="url(#needle)"/>
<path d="M394.2 107.7L459.6 185.2L369.9 262.8L342.8 155.3Z" fill="url(#tipTop)"/>
<path d="M394.2 107.7L459.6 185.2L369.9 262.8L342.8 155.3Z" fill="url(#tipTop2)"/>
<path d="M459.6 185.2L475.1 203L388 277.2L369.9 262.8Z" fill="url(#tipSide)"/>
<g filter="url(#blur1)">
<path fill="url(#ag0)" d="M573.0 160.0Q597.9 275.7 707.0 286.5Q607.3 265.8 573.0 160.0Z"/>
<path fill="url(#ag1)" d="M519.0 205.5Q532.9 313.5 655.0 334.5Q542.3 303.7 519.0 205.5Z"/>
<path fill="url(#ag2)" d="M425.0 297.5Q488.0 388.4 484.8 464.0Q505.4 382.1 425.0 297.5Z"/>
<path fill="url(#ag3)" d="M369.2 330.5Q435.1 420.9 429.3 498.0Q452.4 414.6 369.2 330.5Z"/>
</g>
<circle cx="617.5" cy="161" r="30.5" fill="url(#redglow)"/>
<ellipse cx="0" cy="0" rx="54.9" ry="135.8" transform="translate(589.5 266.6) rotate(16.4)" fill="none" stroke="url(#exg)" stroke-width="2.2"/>
<circle cx="552.3" cy="371.7" r="30.5" fill="url(#blueglow)"/>
<path d="M609.3 161H625.7M617.5 152.2V169.8" stroke="#fff" stroke-width="2.8"/>
<path d="M545 372.2H556.5" stroke="#fff" stroke-width="3.4"/>
<path d="M677.9 182.2 L699.8 163.5 L703.8 168.2 L704.8 153.2 L689.8 151.9 L693.9 156.6 L672.1 175.4Z" fill="#f2a672" fill-opacity="0.88"/>
<path d="M378.5 406.9 L357.6 425.6 L353.5 421.0 L352.8 436.0 L367.8 437.0 L363.6 432.3 L384.5 413.7Z" fill="#f2a672" fill-opacity="0.88"/>
<g fill="#fff" stroke="#2f5597" stroke-width="1.7" stroke-linejoin="miter">
<path d="M560.4 535.2 L560.4 593.8 L552.8 593.8 L568.0 608.3 L583.2 593.8 L575.6 593.8 L575.6 535.2Z"/>
<path d="M313.9 537.3 L269.0 575.1 L263.6 568.8 L262.2 589.6 L283.0 591.7 L277.6 585.4 L322.5 547.7Z"/>
<path d="M817.7 546.9 L857.2 590.5 L851.2 595.8 L872.1 596.5 L873.5 575.7 L867.6 581.1 L828.1 537.5Z"/>
</g>
<text x="432.5" y="114.0" font-size="24.14">tip</text>
<text x="582.0" y="112.5" font-size="22.41">exciton</text>
<text x="146.3" y="213.5" font-size="23.56">incident light</text>
<text x="872.8" y="215.4" font-size="22.72">polarized transmission</text>
<text x="901.6" y="448.0" font-size="22.47">polarized emission</text>
<text x="119.9" y="445.7" font-size="23.47">hyperbolic polariton</text>
<g fill="none" stroke="#2f5597" stroke-dasharray="15.7 6.3">
<path d="M61.0 649.9H1067.0" stroke-width="1.9"/>
<path d="M61.0 1037.0H1067.0" stroke-width="2.2"/>
<path d="M1.0 709.9V977.0" stroke-width="2.4"/>
<path d="M1127.0 709.9V977.0" stroke-width="2.4"/>
<path d="M1.0 709.9A60.0 60.0 0 0 1 61.0 649.9M1067.0 649.9A60.0 60.0 0 0 1 1127.0 709.9M1127.0 977.0A60.0 60.0 0 0 1 1067.0 1037.0M61.0 1037.0A60.0 60.0 0 0 1 1.0 977.0" stroke-width="1.9" stroke-dashoffset="-4"/>
</g>
<path d="M57.2 736.3L69.8 730.1 M69.8 730.1L60.9 724.3 M69.8 730.1L75.7 715.0 M75.7 715.0L85.3 720.8 M75.7 715.0L87.5 709.5 M85.3 720.8L91.4 736.3 M60.9 724.3L72.7 718.7 M72.7 718.7L64.1 713.4 M72.7 718.7L78.4 704.3 M78.4 704.3L87.5 709.5 M78.4 704.3L89.5 699.4 M87.5 709.5L93.3 724.3 M64.1 713.4L75.4 708.4 M75.4 708.4L67.1 703.5 M75.4 708.4L80.8 694.6 M80.8 694.6L89.5 699.4 M80.8 694.6L91.3 690.1 M89.5 699.4L95.1 713.4 M67.1 703.5L77.8 698.9 M77.8 698.9L69.8 694.5 M77.8 698.9L82.9 685.8 M82.9 685.8L91.3 690.1 M82.9 685.8L93.0 681.7 M91.3 690.1L96.6 703.5 M69.8 694.5L80.0 690.3 M80.0 690.3L84.9 677.8 M84.9 677.8L93.0 681.7 M93.0 681.7L98.1 694.5 M91.4 736.3L103.1 730.1 M103.1 730.1L93.3 724.3 M103.1 730.1L109.1 715.0 M109.1 715.0L119.5 720.8 M109.1 715.0L120.0 709.5 M119.5 720.8L125.6 736.3 M93.3 724.3L104.4 718.7 M104.4 718.7L95.1 713.4 M104.4 718.7L110.1 704.3 M110.1 704.3L120.0 709.5 M110.1 704.3L120.5 699.4 M120.0 709.5L125.8 724.3 M95.1 713.4L105.6 708.4 M105.6 708.4L96.6 703.5 M105.6 708.4L111.0 694.6 M111.0 694.6L120.5 699.4 M111.0 694.6L120.9 690.1 M120.5 699.4L126.0 713.4 M96.6 703.5L106.6 698.9 M106.6 698.9L98.1 694.5 M106.6 698.9L111.8 685.8 M111.8 685.8L120.9 690.1 M111.8 685.8L121.2 681.7 M120.9 690.1L126.1 703.5 M98.1 694.5L107.6 690.3 M107.6 690.3L112.5 677.8 M112.5 677.8L121.2 681.7 M121.2 681.7L126.3 694.5 M125.6 736.3L136.4 730.1 M136.4 730.1L125.8 724.3 M136.4 730.1L142.4 715.0 M142.4 715.0L153.7 720.8 M142.4 715.0L152.5 709.5 M153.7 720.8L159.9 736.3 M125.8 724.3L136.1 718.7 M136.1 718.7L126.0 713.4 M136.1 718.7L141.8 704.3 M141.8 704.3L152.5 709.5 M141.8 704.3L151.4 699.4 M152.5 709.5L158.3 724.3 M126.0 713.4L135.8 708.4 M135.8 708.4L126.1 703.5 M135.8 708.4L141.2 694.6 M141.2 694.6L151.4 699.4 M141.2 694.6L150.4 690.1 M151.4 699.4L156.9 713.4 M126.1 703.5L135.5 698.9 M135.5 698.9L126.3 694.5 M135.5 698.9L140.6 685.8 M140.6 685.8L150.4 690.1 M140.6 685.8L149.4 681.7 M150.4 690.1L155.7 703.5 M126.3 694.5L135.2 690.3 M135.2 690.3L140.2 677.8 M140.2 677.8L149.4 681.7 M149.4 681.7L154.5 694.5 M159.9 736.3L169.8 730.1 M169.8 730.1L158.3 724.3 M169.8 730.1L175.7 715.0 M175.7 715.0L187.9 720.8 M175.7 715.0L185.0 709.5 M187.9 720.8L194.1 736.3 M158.3 724.3L167.8 718.7 M167.8 718.7L156.9 713.4 M167.8 718.7L173.4 704.3 M173.4 704.3L185.0 709.5 M173.4 704.3L182.3 699.4 M185.0 709.5L190.8 724.3 M156.9 713.4L166.0 708.4 M166.0 708.4L155.7 703.5 M166.0 708.4L171.4 694.6 M171.4 694.6L182.3 699.4 M171.4 694.6L179.9 690.1 M182.3 699.4L187.8 713.4 M155.7 703.5L164.3 698.9 M164.3 698.9L154.5 694.5 M164.3 698.9L169.5 685.8 M169.5 685.8L179.9 690.1 M169.5 685.8L177.7 681.7 M179.9 690.1L185.2 703.5 M154.5 694.5L162.8 690.3 M162.8 690.3L167.8 677.8 M167.8 677.8L177.7 681.7 M177.7 681.7L182.7 694.5 M194.1 736.3L203.1 730.1 M203.1 730.1L190.8 724.3 M203.1 730.1L209.1 715.0 M209.1 715.0L222.2 720.8 M209.1 715.0L217.5 709.5 M222.2 720.8L228.3 736.3 M190.8 724.3L199.5 718.7 M199.5 718.7L187.8 713.4 M199.5 718.7L205.1 704.3 M205.1 704.3L217.5 709.5 M205.1 704.3L213.2 699.4 M217.5 709.5L223.3 724.3 M187.8 713.4L196.2 708.4 M196.2 708.4L185.2 703.5 M196.2 708.4L201.6 694.6 M201.6 694.6L213.2 699.4 M201.6 694.6L209.4 690.1 M213.2 699.4L218.8 713.4 M185.2 703.5L193.2 698.9 M193.2 698.9L182.7 694.5 M193.2 698.9L198.3 685.8 M198.3 685.8L209.4 690.1 M198.3 685.8L205.9 681.7 M209.4 690.1L214.7 703.5 M182.7 694.5L190.4 690.3 M190.4 690.3L195.4 677.8 M195.4 677.8L205.9 681.7 M205.9 681.7L210.9 694.5 M228.3 736.3L236.4 730.1 M236.4 730.1L223.3 724.3 M223.3 724.3L231.1 718.7 M231.1 718.7L218.8 713.4 M218.8 713.4L226.4 708.4 M226.4 708.4L214.7 703.5 M214.7 703.5L222.0 698.9 M222.0 698.9L210.9 694.5 M210.9 694.5L218.0 690.3" stroke="#444" stroke-width="0.6" fill="none"/>
<g fill="#000">
<circle cx="80.0" cy="690.3" r="2.2"/>
<circle cx="84.9" cy="677.8" r="2.2"/>
<circle cx="107.6" cy="690.3" r="2.2"/>
<circle cx="112.5" cy="677.8" r="2.2"/>
<circle cx="135.2" cy="690.3" r="2.2"/>
<circle cx="140.2" cy="677.8" r="2.2"/>
<circle cx="162.8" cy="690.3" r="2.2"/>
<circle cx="167.8" cy="677.8" r="2.2"/>
<circle cx="190.4" cy="690.3" r="2.2"/>
<circle cx="195.4" cy="677.8" r="2.2"/>
<circle cx="218.0" cy="690.3" r="2.2"/>
<circle cx="69.8" cy="694.5" r="2.2"/>
<circle cx="93.0" cy="681.7" r="2.2"/>
<circle cx="98.1" cy="694.5" r="2.2"/>
<circle cx="121.2" cy="681.7" r="2.2"/>
<circle cx="126.3" cy="694.5" r="2.2"/>
<circle cx="149.4" cy="681.7" r="2.2"/>
<circle cx="154.5" cy="694.5" r="2.2"/>
<circle cx="177.7" cy="681.7" r="2.2"/>
<circle cx="182.7" cy="694.5" r="2.2"/>
<circle cx="205.9" cy="681.7" r="2.2"/>
<circle cx="210.9" cy="694.5" r="2.2"/>
<circle cx="77.8" cy="698.9" r="2.3"/>
<circle cx="82.9" cy="685.8" r="2.3"/>
<circle cx="106.6" cy="698.9" r="2.3"/>
<circle cx="111.8" cy="685.8" r="2.3"/>
<circle cx="135.5" cy="698.9" r="2.3"/>
<circle cx="140.6" cy="685.8" r="2.3"/>
<circle cx="164.3" cy="698.9" r="2.3"/>
<circle cx="169.5" cy="685.8" r="2.3"/>
<circle cx="193.2" cy="698.9" r="2.3"/>
<circle cx="198.3" cy="685.8" r="2.3"/>
<circle cx="222.0" cy="698.9" r="2.3"/>
<circle cx="67.1" cy="703.5" r="2.3"/>
<circle cx="91.3" cy="690.1" r="2.3"/>
<circle cx="96.6" cy="703.5" r="2.3"/>
<circle cx="120.9" cy="690.1" r="2.3"/>
<circle cx="126.1" cy="703.5" r="2.3"/>
<circle cx="150.4" cy="690.1" r="2.3"/>
<circle cx="155.7" cy="703.5" r="2.3"/>
<circle cx="179.9" cy="690.1" r="2.3"/>
<circle cx="185.2" cy="703.5" r="2.3"/>
<circle cx="209.4" cy="690.1" r="2.3"/>
<circle cx="214.7" cy="703.5" r="2.3"/>
<circle cx="75.4" cy="708.4" r="2.4"/>
<circle cx="80.8" cy="694.6" r="2.4"/>
<circle cx="105.6" cy="708.4" r="2.4"/>
<circle cx="111.0" cy="694.6" r="2.4"/>
<circle cx="135.8" cy="708.4" r="2.4"/>
<circle cx="141.2" cy="694.6" r="2.4"/>
<circle cx="166.0" cy="708.4" r="2.4"/>
<circle cx="171.4" cy="694.6" r="2.4"/>
<circle cx="196.2" cy="708.4" r="2.4"/>
<circle cx="201.6" cy="694.6" r="2.4"/>
<circle cx="226.4" cy="708.4" r="2.4"/>
<circle cx="64.1" cy="713.4" r="2.4"/>
<circle cx="89.5" cy="699.4" r="2.4"/>
<circle cx="95.1" cy="713.4" r="2.4"/>
<circle cx="120.5" cy="699.4" r="2.4"/>
<circle cx="126.0" cy="713.4" r="2.4"/>
<circle cx="151.4" cy="699.4" r="2.4"/>
<circle cx="156.9" cy="713.4" r="2.4"/>
<circle cx="182.3" cy="699.4" r="2.4"/>
<circle cx="187.8" cy="713.4" r="2.4"/>
<circle cx="213.2" cy="699.4" r="2.4"/>
<circle cx="218.8" cy="713.4" r="2.4"/>
<circle cx="72.7" cy="718.7" r="2.5"/>
<circle cx="78.4" cy="704.3" r="2.5"/>
<circle cx="104.4" cy="718.7" r="2.5"/>
<circle cx="110.1" cy="704.3" r="2.5"/>
<circle cx="136.1" cy="718.7" r="2.5"/>
<circle cx="141.8" cy="704.3" r="2.5"/>
<circle cx="167.8" cy="718.7" r="2.5"/>
<circle cx="173.4" cy="704.3" r="2.5"/>
<circle cx="199.5" cy="718.7" r="2.5"/>
<circle cx="205.1" cy="704.3" r="2.5"/>
<circle cx="231.1" cy="718.7" r="2.5"/>
<circle cx="60.9" cy="724.3" r="2.6"/>
<circle cx="87.5" cy="709.5" r="2.6"/>
<circle cx="93.3" cy="724.3" r="2.6"/>
<circle cx="120.0" cy="709.5" r="2.6"/>
<circle cx="125.8" cy="724.3" r="2.6"/>
<circle cx="152.5" cy="709.5" r="2.6"/>
<circle cx="158.3" cy="724.3" r="2.6"/>
<circle cx="185.0" cy="709.5" r="2.6"/>
<circle cx="190.8" cy="724.3" r="2.6"/>
<circle cx="217.5" cy="709.5" r="2.6"/>
<circle cx="223.3" cy="724.3" r="2.6"/>
<circle cx="69.8" cy="730.1" r="2.6"/>
<circle cx="75.7" cy="715.0" r="2.6"/>
<circle cx="103.1" cy="730.1" r="2.6"/>
<circle cx="109.1" cy="715.0" r="2.6"/>
<circle cx="136.4" cy="730.1" r="2.6"/>
<circle cx="142.4" cy="715.0" r="2.6"/>
<circle cx="169.8" cy="730.1" r="2.6"/>
<circle cx="175.7" cy="715.0" r="2.6"/>
<circle cx="203.1" cy="730.1" r="2.6"/>
<circle cx="209.1" cy="715.0" r="2.6"/>
<circle cx="236.4" cy="730.1" r="2.6"/>
<circle cx="57.2" cy="736.3" r="2.7"/>
<circle cx="85.3" cy="720.8" r="2.7"/>
<circle cx="91.4" cy="736.3" r="2.7"/>
<circle cx="119.5" cy="720.8" r="2.7"/>
<circle cx="125.6" cy="736.3" r="2.7"/>
<circle cx="153.7" cy="720.8" r="2.7"/>
<circle cx="159.9" cy="736.3" r="2.7"/>
<circle cx="187.9" cy="720.8" r="2.7"/>
<circle cx="194.1" cy="736.3" r="2.7"/>
<circle cx="222.2" cy="720.8" r="2.7"/>
<circle cx="228.3" cy="736.3" r="2.7"/>
</g>
<path d="M49 771.3H109M49 770.5V832" stroke="#000" stroke-width="1.9" fill="none"/>
<path d="M119.5 771.3L108 766.8V775.8Z M49 843L44.6 831.5H53.4Z" fill="#000"/>
<text x="61" y="765" font-size="15.5">ZZ</text>
<text x="16.5" y="812.5" font-size="16">AC</text>
<path d="M76.4 787.5L66.6 798.5 M81.0 787.5L90.8 798.5 M105.2 787.5L95.4 798.5 M109.8 787.5L119.6 798.5 M133.6 787.5L124.2 798.5 M138.2 787.5L148.0 798.5 M162.4 787.5L152.6 798.5 M167.0 787.5L176.6 798.5 M191.0 787.5L181.2 798.5 M195.6 787.5L205.4 798.5 M219.3 787.5L210.0 798.5 M66.6 798.5L76.4 809.5 M90.8 798.5L81.0 809.5 M95.4 798.5L105.2 809.5 M119.6 798.5L109.8 809.5 M124.2 798.5L133.6 809.5 M148.0 798.5L138.2 809.5 M152.6 798.5L162.4 809.5 M176.6 798.5L167.0 809.5 M181.2 798.5L191.0 809.5 M205.4 798.5L195.6 809.5 M210.0 798.5L219.3 809.5 M76.4 809.5L66.6 820.6 M81.0 809.5L90.8 820.6 M105.2 809.5L95.4 820.6 M109.8 809.5L119.6 820.6 M133.6 809.5L124.2 820.6 M138.2 809.5L148.0 820.6 M162.4 809.5L152.6 820.6 M167.0 809.5L176.6 820.6 M191.0 809.5L181.2 820.6 M195.6 809.5L205.4 820.6 M219.3 809.5L210.0 820.6 M66.6 820.6L76.4 831.6 M90.8 820.6L81.0 831.6 M95.4 820.6L105.2 831.6 M119.6 820.6L109.8 831.6 M124.2 820.6L133.6 831.6 M148.0 820.6L138.2 831.6 M152.6 820.6L162.4 831.6 M176.6 820.6L167.0 831.6 M181.2 820.6L191.0 831.6 M205.4 820.6L195.6 831.6 M210.0 820.6L219.3 831.6 M76.4 831.6L66.6 842.6 M81.0 831.6L90.8 842.6 M105.2 831.6L95.4 842.6 M109.8 831.6L119.6 842.6 M133.6 831.6L124.2 842.6 M138.2 831.6L148.0 842.6 M162.4 831.6L152.6 842.6 M167.0 831.6L176.6 842.6 M191.0 831.6L181.2 842.6 M195.6 831.6L205.4 842.6 M219.3 831.6L210.0 842.6 M66.6 842.6L76.4 853.6 M90.8 842.6L81.0 853.6 M95.4 842.6L105.2 853.6 M119.6 842.6L109.8 853.6 M124.2 842.6L133.6 853.6 M148.0 842.6L138.2 853.6 M152.6 842.6L162.4 853.6 M176.6 842.6L167.0 853.6 M181.2 842.6L191.0 853.6 M205.4 842.6L195.6 853.6 M210.0 842.6L219.3 853.6 M76.4 853.6L66.6 864.6 M81.0 853.6L90.8 864.6 M105.2 853.6L95.4 864.6 M109.8 853.6L119.6 864.6 M133.6 853.6L124.2 864.6 M138.2 853.6L148.0 864.6 M162.4 853.6L152.6 864.6 M167.0 853.6L176.6 864.6 M191.0 853.6L181.2 864.6 M195.6 853.6L205.4 864.6 M219.3 853.6L210.0 864.6 M66.6 864.6L76.4 875.7 M90.8 864.6L81.0 875.7 M95.4 864.6L105.2 875.7 M119.6 864.6L109.8 875.7 M124.2 864.6L133.6 875.7 M148.0 864.6L138.2 875.7 M152.6 864.6L162.4 875.7 M176.6 864.6L167.0 875.7 M181.2 864.6L191.0 875.7 M205.4 864.6L195.6 875.7 M210.0 864.6L219.3 875.7 M81.0 875.7L90.8 886.7 M105.2 875.7L95.4 886.7 M109.8 875.7L119.6 886.7 M133.6 875.7L124.2 886.7 M138.2 875.7L148.0 886.7 M162.4 875.7L152.6 886.7 M167.0 875.7L176.6 886.7 M191.0 875.7L181.2 886.7 M195.6 875.7L205.4 886.7 M219.3 875.7L210.0 886.7" stroke="#666" stroke-width="0.7" fill="none"/>
<g fill="#000">
<circle cx="76.4" cy="787.5" r="2.25"/>
<circle cx="81.0" cy="787.5" r="2.25"/>
<circle cx="105.2" cy="787.5" r="2.25"/>
<circle cx="109.8" cy="787.5" r="2.25"/>
<circle cx="133.6" cy="787.5" r="2.25"/>
<circle cx="138.2" cy="787.5" r="2.25"/>
<circle cx="162.4" cy="787.5" r="2.25"/>
<circle cx="167.0" cy="787.5" r="2.25"/>
<circle cx="191.0" cy="787.5" r="2.25"/>
<circle cx="195.6" cy="787.5" r="2.25"/>
<circle cx="219.3" cy="787.5" r="2.25"/>
<circle cx="66.6" cy="798.5" r="2.25"/>
<circle cx="90.8" cy="798.5" r="2.25"/>
<circle cx="95.4" cy="798.5" r="2.25"/>
<circle cx="119.6" cy="798.5" r="2.25"/>
<circle cx="124.2" cy="798.5" r="2.25"/>
<circle cx="148.0" cy="798.5" r="2.25"/>
<circle cx="152.6" cy="798.5" r="2.25"/>
<circle cx="176.6" cy="798.5" r="2.25"/>
<circle cx="181.2" cy="798.5" r="2.25"/>
<circle cx="205.4" cy="798.5" r="2.25"/>
<circle cx="210.0" cy="798.5" r="2.25"/>
<circle cx="76.4" cy="809.5" r="2.25"/>
<circle cx="81.0" cy="809.5" r="2.25"/>
<circle cx="105.2" cy="809.5" r="2.25"/>
<circle cx="109.8" cy="809.5" r="2.25"/>
<circle cx="133.6" cy="809.5" r="2.25"/>
<circle cx="138.2" cy="809.5" r="2.25"/>
<circle cx="162.4" cy="809.5" r="2.25"/>
<circle cx="167.0" cy="809.5" r="2.25"/>
<circle cx="191.0" cy="809.5" r="2.25"/>
<circle cx="195.6" cy="809.5" r="2.25"/>
<circle cx="219.3" cy="809.5" r="2.25"/>
<circle cx="66.6" cy="820.6" r="2.25"/>
<circle cx="90.8" cy="820.6" r="2.25"/>
<circle cx="95.4" cy="820.6" r="2.25"/>
<circle cx="119.6" cy="820.6" r="2.25"/>
<circle cx="124.2" cy="820.6" r="2.25"/>
<circle cx="148.0" cy="820.6" r="2.25"/>
<circle cx="152.6" cy="820.6" r="2.25"/>
<circle cx="176.6" cy="820.6" r="2.25"/>
<circle cx="181.2" cy="820.6" r="2.25"/>
<circle cx="205.4" cy="820.6" r="2.25"/>
<circle cx="210.0" cy="820.6" r="2.25"/>
<circle cx="76.4" cy="831.6" r="2.25"/>
<circle cx="81.0" cy="831.6" r="2.25"/>
<circle cx="105.2" cy="831.6" r="2.25"/>
<circle cx="109.8" cy="831.6" r="2.25"/>
<circle cx="133.6" cy="831.6" r="2.25"/>
<circle cx="138.2" cy="831.6" r="2.25"/>
<circle cx="162.4" cy="831.6" r="2.25"/>
<circle cx="167.0" cy="831.6" r="2.25"/>
<circle cx="191.0" cy="831.6" r="2.25"/>
<circle cx="195.6" cy="831.6" r="2.25"/>
<circle cx="219.3" cy="831.6" r="2.25"/>
<circle cx="66.6" cy="842.6" r="2.25"/>
<circle cx="90.8" cy="842.6" r="2.25"/>
<circle cx="95.4" cy="842.6" r="2.25"/>
<circle cx="119.6" cy="842.6" r="2.25"/>
<circle cx="124.2" cy="842.6" r="2.25"/>
<circle cx="148.0" cy="842.6" r="2.25"/>
<circle cx="152.6" cy="842.6" r="2.25"/>
<circle cx="176.6" cy="842.6" r="2.25"/>
<circle cx="181.2" cy="842.6" r="2.25"/>
<circle cx="205.4" cy="842.6" r="2.25"/>
<circle cx="210.0" cy="842.6" r="2.25"/>
<circle cx="76.4" cy="853.6" r="2.25"/>
<circle cx="81.0" cy="853.6" r="2.25"/>
<circle cx="105.2" cy="853.6" r="2.25"/>
<circle cx="109.8" cy="853.6" r="2.25"/>
<circle cx="133.6" cy="853.6" r="2.25"/>
<circle cx="138.2" cy="853.6" r="2.25"/>
<circle cx="162.4" cy="853.6" r="2.25"/>
<circle cx="167.0" cy="853.6" r="2.25"/>
<circle cx="191.0" cy="853.6" r="2.25"/>
<circle cx="195.6" cy="853.6" r="2.25"/>
<circle cx="219.3" cy="853.6" r="2.25"/>
<circle cx="66.6" cy="864.6" r="2.25"/>
<circle cx="90.8" cy="864.6" r="2.25"/>
<circle cx="95.4" cy="864.6" r="2.25"/>
<circle cx="119.6" cy="864.6" r="2.25"/>
<circle cx="124.2" cy="864.6" r="2.25"/>
<circle cx="148.0" cy="864.6" r="2.25"/>
<circle cx="152.6" cy="864.6" r="2.25"/>
<circle cx="176.6" cy="864.6" r="2.25"/>
<circle cx="181.2" cy="864.6" r="2.25"/>
<circle cx="205.4" cy="864.6" r="2.25"/>
<circle cx="210.0" cy="864.6" r="2.25"/>
<circle cx="76.4" cy="875.7" r="2.25"/>
<circle cx="81.0" cy="875.7" r="2.25"/>
<circle cx="105.2" cy="875.7" r="2.25"/>
<circle cx="109.8" cy="875.7" r="2.25"/>
<circle cx="133.6" cy="875.7" r="2.25"/>
<circle cx="138.2" cy="875.7" r="2.25"/>
<circle cx="162.4" cy="875.7" r="2.25"/>
<circle cx="167.0" cy="875.7" r="2.25"/>
<circle cx="191.0" cy="875.7" r="2.25"/>
<circle cx="195.6" cy="875.7" r="2.25"/>
<circle cx="219.3" cy="875.7" r="2.25"/>
<circle cx="90.8" cy="886.7" r="2.25"/>
<circle cx="95.4" cy="886.7" r="2.25"/>
<circle cx="119.6" cy="886.7" r="2.25"/>
<circle cx="124.2" cy="886.7" r="2.25"/>
<circle cx="148.0" cy="886.7" r="2.25"/>
<circle cx="152.6" cy="886.7" r="2.25"/>
<circle cx="176.6" cy="886.7" r="2.25"/>
<circle cx="181.2" cy="886.7" r="2.25"/>
<circle cx="205.4" cy="886.7" r="2.25"/>
<circle cx="210.0" cy="886.7" r="2.25"/>
</g>
<path d="M57.1 947.6 L68.5 947.6 L73.4 930.8 L84.8 930.8 L90.5 947.6 L102.0 947.6 L107.3 930.8 L118.7 930.8 L124.4 947.6 L135.8 947.6 L141.1 930.8 L152.5 930.8 L158.2 947.6 L169.7 947.6 L174.6 930.8 L186.0 930.8 L191.7 947.6 L203.1 947.6 L208.8 930.8 L220.2 930.8 L225.5 947.6 L237.0 947.6" stroke="#9a9a9a" stroke-width="1.8" fill="none"/>
<g fill="#000">
<circle cx="57.1" cy="947.6" r="2.9"/>
<circle cx="68.5" cy="947.6" r="2.9"/>
<circle cx="73.4" cy="930.8" r="2.9"/>
<circle cx="84.8" cy="930.8" r="2.9"/>
<circle cx="90.5" cy="947.6" r="2.9"/>
<circle cx="102.0" cy="947.6" r="2.9"/>
<circle cx="107.3" cy="930.8" r="2.9"/>
<circle cx="118.7" cy="930.8" r="2.9"/>
<circle cx="124.4" cy="947.6" r="2.9"/>
<circle cx="135.8" cy="947.6" r="2.9"/>
<circle cx="141.1" cy="930.8" r="2.9"/>
<circle cx="152.5" cy="930.8" r="2.9"/>
<circle cx="158.2" cy="947.6" r="2.9"/>
<circle cx="169.7" cy="947.6" r="2.9"/>
<circle cx="174.6" cy="930.8" r="2.9"/>
<circle cx="186.0" cy="930.8" r="2.9"/>
<circle cx="191.7" cy="947.6" r="2.9"/>
<circle cx="203.1" cy="947.6" r="2.9"/>
<circle cx="208.8" cy="930.8" r="2.9"/>
<circle cx="220.2" cy="930.8" r="2.9"/>
<circle cx="225.5" cy="947.6" r="2.9"/>
<circle cx="237.0" cy="947.6" r="2.9"/>
</g>
<path d="M51.5 920.8H46.2V953H51.5" stroke="#000" stroke-width="1.6" fill="none"/><path d="M36 937H46" stroke="#000" stroke-width="1.5"/>
<text x="19.3" y="943" font-size="18.5" font-style="italic">d</text>
<path d="M255.5 699.7L270.4 703.4 M270.4 703.4L274.7 685.0 M274.7 685.0L287.9 681.5 M287.9 681.5L275.2 696.6 M287.9 681.5L291.3 699.7 M256.1 711.3L270.8 714.9 M270.8 714.9L255.5 699.7 M270.8 714.9L275.2 696.6 M275.2 696.6L288.3 692.9 M288.3 692.9L274.7 685.0 M288.3 692.9L275.7 708.2 M288.3 692.9L291.9 711.3 M256.7 722.9L271.2 726.4 M271.2 726.4L256.1 711.3 M271.2 726.4L275.7 708.2 M275.7 708.2L288.7 704.3 M288.7 704.3L275.2 696.6 M288.7 704.3L276.2 719.8 M288.7 704.3L292.5 722.9 M257.3 734.5L271.6 737.9 M271.6 737.9L256.7 722.9 M271.6 737.9L276.2 719.8 M276.2 719.8L289.1 715.7 M289.1 715.7L275.7 708.2 M289.1 715.7L293.1 734.5 M291.3 699.7L306.2 703.4 M306.2 703.4L310.5 685.0 M310.5 685.0L323.7 681.5 M323.7 681.5L311.0 696.6 M323.7 681.5L327.1 699.7 M291.9 711.3L306.6 714.9 M306.6 714.9L291.3 699.7 M306.6 714.9L311.0 696.6 M311.0 696.6L324.1 692.9 M324.1 692.9L310.5 685.0 M324.1 692.9L311.5 708.2 M324.1 692.9L327.7 711.3 M292.5 722.9L307.0 726.4 M307.0 726.4L291.9 711.3 M307.0 726.4L311.5 708.2 M311.5 708.2L324.5 704.3 M324.5 704.3L311.0 696.6 M324.5 704.3L312.0 719.8 M324.5 704.3L328.3 722.9 M293.1 734.5L307.4 737.9 M307.4 737.9L292.5 722.9 M307.4 737.9L312.0 719.8 M312.0 719.8L324.9 715.7 M324.9 715.7L311.5 708.2 M324.9 715.7L328.9 734.5 M327.1 699.7L342.0 703.4 M342.0 703.4L346.3 685.0 M346.3 685.0L359.5 681.5 M359.5 681.5L346.8 696.6 M359.5 681.5L362.9 699.7 M327.7 711.3L342.4 714.9 M342.4 714.9L327.1 699.7 M342.4 714.9L346.8 696.6 M346.8 696.6L359.9 692.9 M359.9 692.9L346.3 685.0 M359.9 692.9L347.3 708.2 M359.9 692.9L363.5 711.3 M328.3 722.9L342.8 726.4 M342.8 726.4L327.7 711.3 M342.8 726.4L347.3 708.2 M347.3 708.2L360.3 704.3 M360.3 704.3L346.8 696.6 M360.3 704.3L347.8 719.8 M360.3 704.3L364.1 722.9 M328.9 734.5L343.2 737.9 M343.2 737.9L328.3 722.9 M343.2 737.9L347.8 719.8 M347.8 719.8L360.7 715.7 M360.7 715.7L347.3 708.2 M360.7 715.7L364.7 734.5 M362.9 699.7L377.8 703.4 M377.8 703.4L382.1 685.0 M382.1 685.0L395.3 681.5 M395.3 681.5L382.6 696.6 M395.3 681.5L398.7 699.7 M363.5 711.3L378.2 714.9 M378.2 714.9L362.9 699.7 M378.2 714.9L382.6 696.6 M382.6 696.6L395.7 692.9 M395.7 692.9L382.1 685.0 M395.7 692.9L383.1 708.2 M395.7 692.9L399.3 711.3 M364.1 722.9L378.6 726.4 M378.6 726.4L363.5 711.3 M378.6 726.4L383.1 708.2 M383.1 708.2L396.1 704.3 M396.1 704.3L382.6 696.6 M396.1 704.3L383.6 719.8 M396.1 704.3L399.9 722.9 M364.7 734.5L379.0 737.9 M379.0 737.9L364.1 722.9 M379.0 737.9L383.6 719.8 M383.6 719.8L396.5 715.7 M396.5 715.7L383.1 708.2 M396.5 715.7L400.5 734.5" stroke="#8c6e6a" stroke-width="0.7" fill="none"/>
<circle cx="255.5" cy="699.7" r="2.5" fill="url(#gBl)"/>
<circle cx="270.4" cy="703.4" r="3.0" fill="url(#gPk)"/>
<circle cx="274.7" cy="685.0" r="2.5" fill="url(#gBl)"/>
<circle cx="287.9" cy="681.5" r="3.0" fill="url(#gPk)"/>
<circle cx="291.3" cy="699.7" r="2.5" fill="url(#gBl)"/>
<circle cx="306.2" cy="703.4" r="3.0" fill="url(#gPk)"/>
<circle cx="310.5" cy="685.0" r="2.5" fill="url(#gBl)"/>
<circle cx="323.7" cy="681.5" r="3.0" fill="url(#gPk)"/>
<circle cx="327.1" cy="699.7" r="2.5" fill="url(#gBl)"/>
<circle cx="342.0" cy="703.4" r="3.0" fill="url(#gPk)"/>
<circle cx="346.3" cy="685.0" r="2.5" fill="url(#gBl)"/>
<circle cx="359.5" cy="681.5" r="3.0" fill="url(#gPk)"/>
<circle cx="362.9" cy="699.7" r="2.5" fill="url(#gBl)"/>
<circle cx="377.8" cy="703.4" r="3.0" fill="url(#gPk)"/>
<circle cx="382.1" cy="685.0" r="2.5" fill="url(#gBl)"/>
<circle cx="395.3" cy="681.5" r="3.0" fill="url(#gPk)"/>
<circle cx="398.7" cy="699.7" r="2.5" fill="url(#gBl)"/>
<circle cx="256.1" cy="711.3" r="2.5" fill="url(#gBl)"/>
<circle cx="270.8" cy="714.9" r="3.0" fill="url(#gPk)"/>
<circle cx="275.2" cy="696.6" r="2.5" fill="url(#gBl)"/>
<circle cx="288.3" cy="692.9" r="3.0" fill="url(#gPk)"/>
<circle cx="291.9" cy="711.3" r="2.5" fill="url(#gBl)"/>
<circle cx="306.6" cy="714.9" r="3.0" fill="url(#gPk)"/>
<circle cx="311.0" cy="696.6" r="2.5" fill="url(#gBl)"/>
<circle cx="324.1" cy="692.9" r="3.0" fill="url(#gPk)"/>
<circle cx="327.7" cy="711.3" r="2.5" fill="url(#gBl)"/>
<circle cx="342.4" cy="714.9" r="3.0" fill="url(#gPk)"/>
<circle cx="346.8" cy="696.6" r="2.5" fill="url(#gBl)"/>
<circle cx="359.9" cy="692.9" r="3.0" fill="url(#gPk)"/>
<circle cx="363.5" cy="711.3" r="2.5" fill="url(#gBl)"/>
<circle cx="378.2" cy="714.9" r="3.0" fill="url(#gPk)"/>
<circle cx="382.6" cy="696.6" r="2.5" fill="url(#gBl)"/>
<circle cx="395.7" cy="692.9" r="3.0" fill="url(#gPk)"/>
<circle cx="399.3" cy="711.3" r="2.5" fill="url(#gBl)"/>
<circle cx="256.7" cy="722.9" r="2.5" fill="url(#gBl)"/>
<circle cx="271.2" cy="726.4" r="3.0" fill="url(#gPk)"/>
<circle cx="275.7" cy="708.2" r="2.5" fill="url(#gBl)"/>
<circle cx="288.7" cy="704.3" r="3.0" fill="url(#gPk)"/>
<circle cx="292.5" cy="722.9" r="2.5" fill="url(#gBl)"/>
<circle cx="307.0" cy="726.4" r="3.0" fill="url(#gPk)"/>
<circle cx="311.5" cy="708.2" r="2.5" fill="url(#gBl)"/>
<circle cx="324.5" cy="704.3" r="3.0" fill="url(#gPk)"/>
<circle cx="328.3" cy="722.9" r="2.5" fill="url(#gBl)"/>
<circle cx="342.8" cy="726.4" r="3.0" fill="url(#gPk)"/>
<circle cx="347.3" cy="708.2" r="2.5" fill="url(#gBl)"/>
<circle cx="360.3" cy="704.3" r="3.0" fill="url(#gPk)"/>
<circle cx="364.1" cy="722.9" r="2.5" fill="url(#gBl)"/>
<circle cx="378.6" cy="726.4" r="3.0" fill="url(#gPk)"/>
<circle cx="383.1" cy="708.2" r="2.5" fill="url(#gBl)"/>
<circle cx="396.1" cy="704.3" r="3.0" fill="url(#gPk)"/>
<circle cx="399.9" cy="722.9" r="2.5" fill="url(#gBl)"/>
<circle cx="257.3" cy="734.5" r="2.5" fill="url(#gBl)"/>
<circle cx="271.6" cy="737.9" r="3.0" fill="url(#gPk)"/>
<circle cx="276.2" cy="719.8" r="2.5" fill="url(#gBl)"/>
<circle cx="289.1" cy="715.7" r="3.0" fill="url(#gPk)"/>
<circle cx="293.1" cy="734.5" r="2.5" fill="url(#gBl)"/>
<circle cx="307.4" cy="737.9" r="3.0" fill="url(#gPk)"/>
<circle cx="312.0" cy="719.8" r="2.5" fill="url(#gBl)"/>
<circle cx="324.9" cy="715.7" r="3.0" fill="url(#gPk)"/>
<circle cx="328.9" cy="734.5" r="2.5" fill="url(#gBl)"/>
<circle cx="343.2" cy="737.9" r="3.0" fill="url(#gPk)"/>
<circle cx="347.8" cy="719.8" r="2.5" fill="url(#gBl)"/>
<circle cx="360.7" cy="715.7" r="3.0" fill="url(#gPk)"/>
<circle cx="364.7" cy="734.5" r="2.5" fill="url(#gBl)"/>
<circle cx="379.0" cy="737.9" r="3.0" fill="url(#gPk)"/>
<circle cx="383.6" cy="719.8" r="2.5" fill="url(#gBl)"/>
<circle cx="396.5" cy="715.7" r="3.0" fill="url(#gPk)"/>
<circle cx="400.5" cy="734.5" r="2.5" fill="url(#gBl)"/>
<path d="M260.5 784.9L277.6 799.4 M295.7 784.9L277.6 799.4 M295.7 784.9L312.6 799.4 M330.4 784.9L312.6 799.4 M330.4 784.9L347.7 799.4 M365.0 784.9L347.7 799.4 M365.0 784.9L382.4 799.4 M400.2 784.9L382.4 799.4 M277.6 799.4L260.5 813.8 M277.6 799.4L295.7 813.8 M312.6 799.4L295.7 813.8 M312.6 799.4L330.4 813.8 M347.7 799.4L330.4 813.8 M347.7 799.4L365.0 813.8 M382.4 799.4L365.0 813.8 M382.4 799.4L400.2 813.8 M260.5 813.8L277.6 828.8 M295.7 813.8L277.6 828.8 M295.7 813.8L312.6 828.8 M330.4 813.8L312.6 828.8 M330.4 813.8L347.7 828.8 M365.0 813.8L347.7 828.8 M365.0 813.8L382.4 828.8 M400.2 813.8L382.4 828.8 M277.6 828.8L260.5 843.8 M277.6 828.8L295.7 843.8 M312.6 828.8L295.7 843.8 M312.6 828.8L330.4 843.8 M347.7 828.8L330.4 843.8 M347.7 828.8L365.0 843.8 M382.4 828.8L365.0 843.8 M382.4 828.8L400.2 843.8 M260.5 843.8L277.6 858.4 M295.7 843.8L277.6 858.4 M295.7 843.8L312.6 858.4 M330.4 843.8L312.6 858.4 M330.4 843.8L347.7 858.4 M365.0 843.8L347.7 858.4 M365.0 843.8L382.4 858.4 M400.2 843.8L382.4 858.4 M277.6 858.4L260.5 873.2 M277.6 858.4L295.7 873.2 M312.6 858.4L295.7 873.2 M312.6 858.4L330.4 873.2 M347.7 858.4L330.4 873.2 M347.7 858.4L365.0 873.2 M382.4 858.4L365.0 873.2 M382.4 858.4L400.2 873.2 M260.5 873.2L277.6 888.4 M295.7 873.2L277.6 888.4 M295.7 873.2L312.6 888.4 M330.4 873.2L312.6 888.4 M330.4 873.2L347.7 888.4 M365.0 873.2L347.7 888.4 M365.0 873.2L382.4 888.4 M400.2 873.2L382.4 888.4" stroke="#9a7e7a" stroke-width="0.8" fill="none"/>
<circle cx="258.0" cy="784.9" r="3.2" fill="url(#gPk)"/>
<circle cx="263.2" cy="785.1" r="2.4" fill="url(#gBl)"/>
<circle cx="293.2" cy="784.9" r="3.2" fill="url(#gPk)"/>
<circle cx="298.4" cy="785.1" r="2.4" fill="url(#gBl)"/>
<circle cx="327.9" cy="784.9" r="3.2" fill="url(#gPk)"/>
<circle cx="333.1" cy="785.1" r="2.4" fill="url(#gBl)"/>
<circle cx="362.5" cy="784.9" r="3.2" fill="url(#gPk)"/>
<circle cx="367.7" cy="785.1" r="2.4" fill="url(#gBl)"/>
<circle cx="397.7" cy="784.9" r="3.2" fill="url(#gPk)"/>
<circle cx="402.9" cy="785.1" r="2.4" fill="url(#gBl)"/>
<circle cx="275.1" cy="799.4" r="3.2" fill="url(#gPk)"/>
<circle cx="280.3" cy="799.6" r="2.4" fill="url(#gBl)"/>
<circle cx="310.1" cy="799.4" r="3.2" fill="url(#gPk)"/>
<circle cx="315.3" cy="799.6" r="2.4" fill="url(#gBl)"/>
<circle cx="345.2" cy="799.4" r="3.2" fill="url(#gPk)"/>
<circle cx="350.4" cy="799.6" r="2.4" fill="url(#gBl)"/>
<circle cx="379.9" cy="799.4" r="3.2" fill="url(#gPk)"/>
<circle cx="385.1" cy="799.6" r="2.4" fill="url(#gBl)"/>
<circle cx="258.0" cy="813.8" r="3.2" fill="url(#gPk)"/>
<circle cx="263.2" cy="814.0" r="2.4" fill="url(#gBl)"/>
<circle cx="293.2" cy="813.8" r="3.2" fill="url(#gPk)"/>
<circle cx="298.4" cy="814.0" r="2.4" fill="url(#gBl)"/>
<circle cx="327.9" cy="813.8" r="3.2" fill="url(#gPk)"/>
<circle cx="333.1" cy="814.0" r="2.4" fill="url(#gBl)"/>
<circle cx="362.5" cy="813.8" r="3.2" fill="url(#gPk)"/>
<circle cx="367.7" cy="814.0" r="2.4" fill="url(#gBl)"/>
<circle cx="397.7" cy="813.8" r="3.2" fill="url(#gPk)"/>
<circle cx="402.9" cy="814.0" r="2.4" fill="url(#gBl)"/>
<circle cx="275.1" cy="828.8" r="3.2" fill="url(#gPk)"/>
<circle cx="280.3" cy="829.0" r="2.4" fill="url(#gBl)"/>
<circle cx="310.1" cy="828.8" r="3.2" fill="url(#gPk)"/>
<circle cx="315.3" cy="829.0" r="2.4" fill="url(#gBl)"/>
<circle cx="345.2" cy="828.8" r="3.2" fill="url(#gPk)"/>
<circle cx="350.4" cy="829.0" r="2.4" fill="url(#gBl)"/>
<circle cx="379.9" cy="828.8" r="3.2" fill="url(#gPk)"/>
<circle cx="385.1" cy="829.0" r="2.4" fill="url(#gBl)"/>
<circle cx="258.0" cy="843.8" r="3.2" fill="url(#gPk)"/>
<circle cx="263.2" cy="844.0" r="2.4" fill="url(#gBl)"/>
<circle cx="293.2" cy="843.8" r="3.2" fill="url(#gPk)"/>
<circle cx="298.4" cy="844.0" r="2.4" fill="url(#gBl)"/>
<circle cx="327.9" cy="843.8" r="3.2" fill="url(#gPk)"/>
<circle cx="333.1" cy="844.0" r="2.4" fill="url(#gBl)"/>
<circle cx="362.5" cy="843.8" r="3.2" fill="url(#gPk)"/>
<circle cx="367.7" cy="844.0" r="2.4" fill="url(#gBl)"/>
<circle cx="397.7" cy="843.8" r="3.2" fill="url(#gPk)"/>
<circle cx="402.9" cy="844.0" r="2.4" fill="url(#gBl)"/>
<circle cx="275.1" cy="858.4" r="3.2" fill="url(#gPk)"/>
<circle cx="280.3" cy="858.6" r="2.4" fill="url(#gBl)"/>
<circle cx="310.1" cy="858.4" r="3.2" fill="url(#gPk)"/>
<circle cx="315.3" cy="858.6" r="2.4" fill="url(#gBl)"/>
<circle cx="345.2" cy="858.4" r="3.2" fill="url(#gPk)"/>
<circle cx="350.4" cy="858.6" r="2.4" fill="url(#gBl)"/>
<circle cx="379.9" cy="858.4" r="3.2" fill="url(#gPk)"/>
<circle cx="385.1" cy="858.6" r="2.4" fill="url(#gBl)"/>
<circle cx="258.0" cy="873.2" r="3.2" fill="url(#gPk)"/>
<circle cx="263.2" cy="873.4" r="2.4" fill="url(#gBl)"/>
<circle cx="293.2" cy="873.2" r="3.2" fill="url(#gPk)"/>
<circle cx="298.4" cy="873.4" r="2.4" fill="url(#gBl)"/>
<circle cx="327.9" cy="873.2" r="3.2" fill="url(#gPk)"/>
<circle cx="333.1" cy="873.4" r="2.4" fill="url(#gBl)"/>
<circle cx="362.5" cy="873.2" r="3.2" fill="url(#gPk)"/>
<circle cx="367.7" cy="873.4" r="2.4" fill="url(#gBl)"/>
<circle cx="397.7" cy="873.2" r="3.2" fill="url(#gPk)"/>
<circle cx="402.9" cy="873.4" r="2.4" fill="url(#gBl)"/>
<circle cx="275.1" cy="888.4" r="3.2" fill="url(#gPk)"/>
<circle cx="280.3" cy="888.6" r="2.4" fill="url(#gBl)"/>
<circle cx="310.1" cy="888.4" r="3.2" fill="url(#gPk)"/>
<circle cx="315.3" cy="888.6" r="2.4" fill="url(#gBl)"/>
<circle cx="345.2" cy="888.4" r="3.2" fill="url(#gPk)"/>
<circle cx="350.4" cy="888.6" r="2.4" fill="url(#gBl)"/>
<circle cx="379.9" cy="888.4" r="3.2" fill="url(#gPk)"/>
<circle cx="385.1" cy="888.6" r="2.4" fill="url(#gBl)"/>
<path d="M252.9 948.1 L268.0 944.0 L272.4 925.3 L286.7 927.3 L291.6 948.1 L306.7 944.0 L312.0 924.5 L326.3 927.3 L331.2 948.1 L346.7 944.0 L351.5 924.5 L366.0 927.3 L371.1 948.1 L385.8 944.0 L390.7 924.5 L405.4 927.3 L410.3 948.1" stroke="#9a7e7a" stroke-width="0.8" fill="none"/>
<circle cx="252.9" cy="948.1" r="2.7" fill="url(#gBl)"/>
<circle cx="268.0" cy="944.0" r="3.4" fill="url(#gPk)"/>
<circle cx="272.4" cy="925.3" r="2.7" fill="url(#gBl)"/>
<circle cx="286.7" cy="927.3" r="3.4" fill="url(#gPk)"/>
<circle cx="291.6" cy="948.1" r="2.7" fill="url(#gBl)"/>
<circle cx="306.7" cy="944.0" r="3.4" fill="url(#gPk)"/>
<circle cx="312.0" cy="924.5" r="2.7" fill="url(#gBl)"/>
<circle cx="326.3" cy="927.3" r="3.4" fill="url(#gPk)"/>
<circle cx="331.2" cy="948.1" r="2.7" fill="url(#gBl)"/>
<circle cx="346.7" cy="944.0" r="3.4" fill="url(#gPk)"/>
<circle cx="351.5" cy="924.5" r="2.7" fill="url(#gBl)"/>
<circle cx="366.0" cy="927.3" r="3.4" fill="url(#gPk)"/>
<circle cx="371.1" cy="948.1" r="2.7" fill="url(#gBl)"/>
<circle cx="385.8" cy="944.0" r="3.4" fill="url(#gPk)"/>
<circle cx="390.7" cy="924.5" r="2.7" fill="url(#gBl)"/>
<circle cx="405.4" cy="927.3" r="3.4" fill="url(#gPk)"/>
<circle cx="410.3" cy="948.1" r="2.7" fill="url(#gBl)"/>
<path d="M522.4 682.8L512.7 671.1 M525.8 683.0L516.5 671.9 M529.3 683.3L520.4 672.7 M532.3 683.6L523.8 673.4 M522.4 682.8L527.3 671.1 M525.8 683.0L530.5 671.9 M529.3 683.3L533.7 672.7 M532.3 683.6L536.5 673.4 M522.4 682.8L538.0 689.0 M525.8 683.0L540.7 689.0 M529.3 683.3L543.5 689.0 M532.3 683.6L545.9 689.0 M522.4 682.8L521.4 695.8 M525.8 683.0L524.9 695.5 M529.3 683.3L528.4 695.2 M532.3 683.6L531.5 694.9 M557.1 682.8L549.7 671.1 M559.0 683.0L551.9 671.9 M560.9 683.3L554.1 672.7 M562.5 683.6L556.1 673.4 M557.1 682.8L565.3 671.1 M559.0 683.0L566.8 671.9 M560.9 683.3L568.3 672.7 M562.5 683.6L569.6 673.4 M557.1 682.8L538.0 689.0 M559.0 683.0L540.7 689.0 M560.9 683.3L543.5 689.0 M562.5 683.6L545.9 689.0 M557.1 682.8L575.1 689.0 M559.0 683.0L576.1 689.0 M560.9 683.3L577.2 689.0 M562.5 683.6L578.1 689.0 M557.1 682.8L556.5 696.2 M559.0 683.0L558.4 695.9 M560.9 683.3L560.3 695.6 M562.5 683.6L562.0 695.3 M592.6 682.8L586.4 671.1 M592.9 683.0L586.9 671.9 M593.2 683.3L587.5 672.7 M593.4 683.6L588.0 673.4 M592.6 682.8L600.0 671.1 M592.9 683.0L600.0 671.9 M593.2 683.3L599.9 672.7 M593.4 683.6L599.8 673.4 M592.6 682.8L575.1 689.0 M592.9 683.0L576.1 689.0 M593.2 683.3L577.2 689.0 M593.4 683.6L578.1 689.0 M592.6 682.8L611.2 690.0 M592.9 683.0L610.6 689.9 M593.2 683.3L610.0 689.9 M593.4 683.6L609.5 689.9 M592.6 682.8L592.6 696.2 M592.9 683.0L592.9 695.9 M593.2 683.3L593.2 695.6 M593.4 683.6L593.4 695.3 M628.1 682.8L621.9 671.5 M626.8 683.0L620.8 672.2 M625.5 683.3L619.8 673.0 M624.3 683.6L618.8 673.7 M628.1 682.8L636.5 671.5 M626.8 683.0L634.8 672.2 M625.5 683.3L633.1 673.0 M624.3 683.6L631.6 673.7 M628.1 682.8L611.2 690.0 M626.8 683.0L610.6 689.9 M625.5 683.3L610.0 689.9 M624.3 683.6L609.5 689.9 M628.1 682.8L646.3 689.6 M626.8 683.0L644.1 689.6 M625.5 683.3L642.0 689.5 M624.3 683.6L640.1 689.5 M628.1 682.8L628.7 696.2 M626.8 683.0L627.4 695.9 M625.5 683.3L626.0 695.6 M624.3 683.6L624.8 695.3 M503.3 702.3L501.0 689.0 M507.6 701.7L505.3 689.0 M511.9 701.1L509.7 689.0 M515.7 700.5L513.6 689.0 M503.3 702.3L484.4 695.8 M507.6 701.7L489.5 695.5 M511.9 701.1L494.6 695.2 M515.7 700.5L499.2 694.9 M503.3 702.3L521.4 695.8 M507.6 701.7L524.9 695.5 M511.9 701.1L528.4 695.2 M515.7 700.5L531.5 694.9 M503.3 702.3L494.1 713.4 M507.6 701.7L498.8 712.3 M511.9 701.1L503.5 711.2 M515.7 700.5L507.7 710.2 M503.3 702.3L508.8 713.4 M507.6 701.7L512.8 712.3 M511.9 701.1L516.8 711.2 M515.7 700.5L520.4 710.2 M538.4 702.3L538.0 689.0 M541.1 701.7L540.7 689.0 M543.8 701.1L543.5 689.0 M546.2 700.5L545.9 689.0 M538.4 702.3L521.4 695.8 M541.1 701.7L524.9 695.5 M543.8 701.1L528.4 695.2 M546.2 700.5L531.5 694.9 M538.4 702.3L556.5 696.2 M541.1 701.7L558.4 695.9 M543.8 701.1L560.3 695.6 M546.2 700.5L562.0 695.3 M538.4 702.3L530.2 714.0 M541.1 701.7L533.3 712.9 M543.8 701.1L536.4 711.7 M546.2 700.5L539.1 710.7 M538.4 702.3L545.8 714.0 M541.1 701.7L548.2 712.9 M543.8 701.1L550.6 711.7 M546.2 700.5L552.7 710.7 M575.1 702.3L575.1 689.0 M576.1 701.7L576.1 689.0 M577.2 701.1L577.2 689.0 M578.1 700.5L578.1 689.0 M575.1 702.3L556.5 696.2 M576.1 701.7L558.4 695.9 M577.2 701.1L560.3 695.6 M578.1 700.5L562.0 695.3 M575.1 702.3L592.6 696.2 M576.1 701.7L592.9 695.9 M577.2 701.1L593.2 695.6 M578.1 700.5L593.4 695.3 M575.1 702.3L566.9 714.0 M576.1 701.7L568.3 712.9 M577.2 701.1L569.7 711.7 M578.1 700.5L571.0 710.7 M575.1 702.3L581.9 714.0 M576.1 701.7L582.6 712.9 M577.2 701.1L583.4 711.7 M578.1 700.5L584.1 710.7 M610.6 702.3L611.2 690.0 M610.0 701.7L610.6 689.9 M609.5 701.1L610.0 689.9 M609.0 700.5L609.5 689.9 M610.6 702.3L592.6 696.2 M610.0 701.7L592.9 695.9 M609.5 701.1L593.2 695.6 M609.0 700.5L593.4 695.3 M610.6 702.3L628.7 696.2 M610.0 701.7L627.4 695.9 M609.5 701.1L626.0 695.6 M609.0 700.5L624.8 695.3 M610.6 702.3L603.4 714.0 M610.0 701.7L603.1 712.9 M609.5 701.1L602.9 711.7 M609.0 700.5L602.7 710.7 M610.6 702.3L618.4 714.0 M610.0 701.7L617.5 712.9 M609.5 701.1L616.6 711.7 M609.0 700.5L615.8 710.7" stroke="#c4c4c4" stroke-width="1.8" fill="none" stroke-opacity="0.75"/>
<circle cx="524.0" cy="673.4" r="2.4" fill="url(#gY)"/>
<circle cx="536.7" cy="673.4" r="2.4" fill="url(#gY)"/>
<circle cx="556.2" cy="673.4" r="2.4" fill="url(#gY)"/>
<circle cx="569.7" cy="673.4" r="2.4" fill="url(#gY)"/>
<circle cx="588.0" cy="673.4" r="2.4" fill="url(#gY)"/>
<circle cx="599.8" cy="673.4" r="2.4" fill="url(#gY)"/>
<circle cx="618.8" cy="673.8" r="2.4" fill="url(#gY)"/>
<circle cx="631.5" cy="673.8" r="2.4" fill="url(#gY)"/>
<circle cx="513.8" cy="689.0" r="2.4" fill="url(#gY)"/>
<circle cx="546.0" cy="689.0" r="2.4" fill="url(#gY)"/>
<circle cx="578.2" cy="689.0" r="2.4" fill="url(#gY)"/>
<circle cx="609.5" cy="689.9" r="2.4" fill="url(#gY)"/>
<circle cx="640.0" cy="689.5" r="2.4" fill="url(#gY)"/>
<circle cx="499.4" cy="694.9" r="2.4" fill="url(#gY)"/>
<circle cx="531.6" cy="694.9" r="2.4" fill="url(#gY)"/>
<circle cx="562.1" cy="695.3" r="2.4" fill="url(#gY)"/>
<circle cx="593.4" cy="695.3" r="2.4" fill="url(#gY)"/>
<circle cx="624.7" cy="695.3" r="2.4" fill="url(#gY)"/>
<circle cx="507.9" cy="710.2" r="2.4" fill="url(#gY)"/>
<circle cx="520.6" cy="710.2" r="2.4" fill="url(#gY)"/>
<circle cx="539.2" cy="710.7" r="2.4" fill="url(#gY)"/>
<circle cx="552.8" cy="710.7" r="2.4" fill="url(#gY)"/>
<circle cx="571.1" cy="710.7" r="2.4" fill="url(#gY)"/>
<circle cx="584.1" cy="710.7" r="2.4" fill="url(#gY)"/>
<circle cx="602.7" cy="710.7" r="2.4" fill="url(#gY)"/>
<circle cx="615.8" cy="710.7" r="2.4" fill="url(#gY)"/>
<circle cx="521.2" cy="672.8" r="2.5" fill="url(#gY)"/>
<circle cx="534.3" cy="672.8" r="2.5" fill="url(#gY)"/>
<circle cx="554.5" cy="672.8" r="2.5" fill="url(#gY)"/>
<circle cx="568.6" cy="672.8" r="2.5" fill="url(#gY)"/>
<circle cx="587.6" cy="672.8" r="2.5" fill="url(#gY)"/>
<circle cx="599.9" cy="672.8" r="2.5" fill="url(#gY)"/>
<circle cx="619.6" cy="673.2" r="2.5" fill="url(#gY)"/>
<circle cx="632.8" cy="673.2" r="2.5" fill="url(#gY)"/>
<circle cx="510.6" cy="689.0" r="2.5" fill="url(#gY)"/>
<circle cx="544.0" cy="689.0" r="2.5" fill="url(#gY)"/>
<circle cx="577.4" cy="689.0" r="2.5" fill="url(#gY)"/>
<circle cx="609.9" cy="689.9" r="2.5" fill="url(#gY)"/>
<circle cx="641.5" cy="689.5" r="2.5" fill="url(#gY)"/>
<circle cx="495.7" cy="695.2" r="2.5" fill="url(#gY)"/>
<circle cx="529.1" cy="695.2" r="2.5" fill="url(#gY)"/>
<circle cx="560.7" cy="695.5" r="2.5" fill="url(#gY)"/>
<circle cx="593.2" cy="695.5" r="2.5" fill="url(#gY)"/>
<circle cx="625.7" cy="695.5" r="2.5" fill="url(#gY)"/>
<circle cx="504.5" cy="711.0" r="2.5" fill="url(#gY)"/>
<circle cx="517.6" cy="711.0" r="2.5" fill="url(#gY)"/>
<circle cx="537.0" cy="711.5" r="2.5" fill="url(#gY)"/>
<circle cx="551.0" cy="711.5" r="2.5" fill="url(#gY)"/>
<circle cx="570.0" cy="711.5" r="2.5" fill="url(#gY)"/>
<circle cx="583.5" cy="711.5" r="2.5" fill="url(#gY)"/>
<circle cx="602.9" cy="711.5" r="2.5" fill="url(#gY)"/>
<circle cx="616.4" cy="711.5" r="2.5" fill="url(#gY)"/>
<circle cx="529.9" cy="683.4" r="3.5" fill="url(#gTi)"/>
<circle cx="561.2" cy="683.4" r="3.5" fill="url(#gTi)"/>
<circle cx="593.2" cy="683.4" r="3.5" fill="url(#gTi)"/>
<circle cx="625.2" cy="683.4" r="3.5" fill="url(#gTi)"/>
<circle cx="512.7" cy="701.0" r="3.5" fill="url(#gTi)"/>
<circle cx="544.4" cy="701.0" r="3.5" fill="url(#gTi)"/>
<circle cx="577.4" cy="701.0" r="3.5" fill="url(#gTi)"/>
<circle cx="609.4" cy="701.0" r="3.5" fill="url(#gTi)"/>
<circle cx="518.3" cy="672.2" r="2.6" fill="url(#gY)"/>
<circle cx="532.0" cy="672.2" r="2.6" fill="url(#gY)"/>
<circle cx="552.9" cy="672.2" r="2.6" fill="url(#gY)"/>
<circle cx="567.5" cy="672.2" r="2.6" fill="url(#gY)"/>
<circle cx="587.2" cy="672.2" r="2.6" fill="url(#gY)"/>
<circle cx="599.9" cy="672.2" r="2.6" fill="url(#gY)"/>
<circle cx="620.3" cy="672.6" r="2.6" fill="url(#gY)"/>
<circle cx="634.0" cy="672.6" r="2.6" fill="url(#gY)"/>
<circle cx="507.4" cy="689.0" r="2.6" fill="url(#gY)"/>
<circle cx="542.0" cy="689.0" r="2.6" fill="url(#gY)"/>
<circle cx="576.6" cy="689.0" r="2.6" fill="url(#gY)"/>
<circle cx="610.3" cy="689.9" r="2.6" fill="url(#gY)"/>
<circle cx="643.1" cy="689.6" r="2.6" fill="url(#gY)"/>
<circle cx="491.9" cy="695.4" r="2.6" fill="url(#gY)"/>
<circle cx="526.5" cy="695.4" r="2.6" fill="url(#gY)"/>
<circle cx="559.3" cy="695.7" r="2.6" fill="url(#gY)"/>
<circle cx="593.0" cy="695.7" r="2.6" fill="url(#gY)"/>
<circle cx="626.7" cy="695.7" r="2.6" fill="url(#gY)"/>
<circle cx="501.0" cy="711.8" r="2.6" fill="url(#gY)"/>
<circle cx="514.7" cy="711.8" r="2.6" fill="url(#gY)"/>
<circle cx="534.7" cy="712.3" r="2.6" fill="url(#gY)"/>
<circle cx="549.3" cy="712.3" r="2.6" fill="url(#gY)"/>
<circle cx="569.0" cy="712.3" r="2.6" fill="url(#gY)"/>
<circle cx="583.0" cy="712.3" r="2.6" fill="url(#gY)"/>
<circle cx="603.0" cy="712.3" r="2.6" fill="url(#gY)"/>
<circle cx="617.1" cy="712.3" r="2.6" fill="url(#gY)"/>
<circle cx="527.4" cy="683.2" r="3.6" fill="url(#gTi)"/>
<circle cx="559.9" cy="683.2" r="3.6" fill="url(#gTi)"/>
<circle cx="593.0" cy="683.2" r="3.6" fill="url(#gTi)"/>
<circle cx="626.2" cy="683.2" r="3.6" fill="url(#gTi)"/>
<circle cx="509.6" cy="701.4" r="3.6" fill="url(#gTi)"/>
<circle cx="542.4" cy="701.4" r="3.6" fill="url(#gTi)"/>
<circle cx="576.6" cy="701.4" r="3.6" fill="url(#gTi)"/>
<circle cx="609.8" cy="701.4" r="3.6" fill="url(#gTi)"/>
<circle cx="515.5" cy="671.7" r="2.7" fill="url(#gY)"/>
<circle cx="529.6" cy="671.7" r="2.7" fill="url(#gY)"/>
<circle cx="551.3" cy="671.7" r="2.7" fill="url(#gY)"/>
<circle cx="566.4" cy="671.7" r="2.7" fill="url(#gY)"/>
<circle cx="586.8" cy="671.7" r="2.7" fill="url(#gY)"/>
<circle cx="600.0" cy="671.7" r="2.7" fill="url(#gY)"/>
<circle cx="621.1" cy="672.0" r="2.7" fill="url(#gY)"/>
<circle cx="635.3" cy="672.0" r="2.7" fill="url(#gY)"/>
<circle cx="504.2" cy="689.0" r="2.7" fill="url(#gY)"/>
<circle cx="540.0" cy="689.0" r="2.7" fill="url(#gY)"/>
<circle cx="575.8" cy="689.0" r="2.7" fill="url(#gY)"/>
<circle cx="610.7" cy="690.0" r="2.7" fill="url(#gY)"/>
<circle cx="644.7" cy="689.6" r="2.7" fill="url(#gY)"/>
<circle cx="488.1" cy="695.6" r="2.7" fill="url(#gY)"/>
<circle cx="524.0" cy="695.6" r="2.7" fill="url(#gY)"/>
<circle cx="557.9" cy="696.0" r="2.7" fill="url(#gY)"/>
<circle cx="592.8" cy="696.0" r="2.7" fill="url(#gY)"/>
<circle cx="627.7" cy="696.0" r="2.7" fill="url(#gY)"/>
<circle cx="497.6" cy="712.6" r="2.7" fill="url(#gY)"/>
<circle cx="511.7" cy="712.6" r="2.7" fill="url(#gY)"/>
<circle cx="532.5" cy="713.2" r="2.7" fill="url(#gY)"/>
<circle cx="547.6" cy="713.2" r="2.7" fill="url(#gY)"/>
<circle cx="567.9" cy="713.2" r="2.7" fill="url(#gY)"/>
<circle cx="582.5" cy="713.2" r="2.7" fill="url(#gY)"/>
<circle cx="603.2" cy="713.2" r="2.7" fill="url(#gY)"/>
<circle cx="617.7" cy="713.2" r="2.7" fill="url(#gY)"/>
<circle cx="524.9" cy="683.0" r="3.8" fill="url(#gTi)"/>
<circle cx="558.5" cy="683.0" r="3.8" fill="url(#gTi)"/>
<circle cx="592.8" cy="683.0" r="3.8" fill="url(#gTi)"/>
<circle cx="627.2" cy="683.0" r="3.8" fill="url(#gTi)"/>
<circle cx="506.4" cy="701.8" r="3.8" fill="url(#gTi)"/>
<circle cx="540.4" cy="701.8" r="3.8" fill="url(#gTi)"/>
<circle cx="575.8" cy="701.8" r="3.8" fill="url(#gTi)"/>
<circle cx="610.2" cy="701.8" r="3.8" fill="url(#gTi)"/>
<circle cx="512.7" cy="671.1" r="2.8" fill="url(#gY)"/>
<circle cx="527.3" cy="671.1" r="2.8" fill="url(#gY)"/>
<circle cx="549.7" cy="671.1" r="2.8" fill="url(#gY)"/>
<circle cx="565.3" cy="671.1" r="2.8" fill="url(#gY)"/>
<circle cx="586.4" cy="671.1" r="2.8" fill="url(#gY)"/>
<circle cx="600.0" cy="671.1" r="2.8" fill="url(#gY)"/>
<circle cx="621.9" cy="671.5" r="2.8" fill="url(#gY)"/>
<circle cx="636.5" cy="671.5" r="2.8" fill="url(#gY)"/>
<circle cx="501.0" cy="689.0" r="2.8" fill="url(#gY)"/>
<circle cx="538.0" cy="689.0" r="2.8" fill="url(#gY)"/>
<circle cx="575.1" cy="689.0" r="2.8" fill="url(#gY)"/>
<circle cx="611.2" cy="690.0" r="2.8" fill="url(#gY)"/>
<circle cx="646.3" cy="689.6" r="2.8" fill="url(#gY)"/>
<circle cx="484.4" cy="695.8" r="2.8" fill="url(#gY)"/>
<circle cx="521.4" cy="695.8" r="2.8" fill="url(#gY)"/>
<circle cx="556.5" cy="696.2" r="2.8" fill="url(#gY)"/>
<circle cx="592.6" cy="696.2" r="2.8" fill="url(#gY)"/>
<circle cx="628.7" cy="696.2" r="2.8" fill="url(#gY)"/>
<circle cx="494.1" cy="713.4" r="2.8" fill="url(#gY)"/>
<circle cx="508.8" cy="713.4" r="2.8" fill="url(#gY)"/>
<circle cx="530.2" cy="714.0" r="2.8" fill="url(#gY)"/>
<circle cx="545.8" cy="714.0" r="2.8" fill="url(#gY)"/>
<circle cx="566.9" cy="714.0" r="2.8" fill="url(#gY)"/>
<circle cx="581.9" cy="714.0" r="2.8" fill="url(#gY)"/>
<circle cx="603.4" cy="714.0" r="2.8" fill="url(#gY)"/>
<circle cx="618.4" cy="714.0" r="2.8" fill="url(#gY)"/>
<circle cx="522.4" cy="682.8" r="3.9" fill="url(#gTi)"/>
<circle cx="557.1" cy="682.8" r="3.9" fill="url(#gTi)"/>
<circle cx="592.6" cy="682.8" r="3.9" fill="url(#gTi)"/>
<circle cx="628.1" cy="682.8" r="3.9" fill="url(#gTi)"/>
<circle cx="503.3" cy="702.3" r="3.9" fill="url(#gTi)"/>
<circle cx="538.4" cy="702.3" r="3.9" fill="url(#gTi)"/>
<circle cx="575.1" cy="702.3" r="3.9" fill="url(#gTi)"/>
<circle cx="610.6" cy="702.3" r="3.9" fill="url(#gTi)"/>
<path d="M515.6 751.0L506.8 740.7 M519.3 748.2L510.9 738.4 M523.0 745.5L515.1 736.0 M526.4 743.0L518.7 734.0 M515.6 751.0L521.4 740.7 M519.3 748.2L524.9 738.4 M523.0 745.5L528.4 736.0 M526.4 743.0L531.5 734.0 M515.6 751.0L514.6 765.1 M519.3 748.2L518.4 761.7 M523.0 745.5L522.2 758.2 M526.4 743.0L525.5 755.2 M515.6 751.0L533.1 758.3 M519.3 748.2L536.1 755.1 M523.0 745.5L539.0 752.0 M526.4 743.0L541.6 749.2 M550.1 751.0L541.9 740.7 M552.3 748.2L544.5 738.4 M554.5 745.5L547.0 736.0 M556.4 743.0L549.3 734.0 M550.1 751.0L556.5 740.7 M552.3 748.2L558.4 738.4 M554.5 745.5L560.3 736.0 M556.4 743.0L562.0 734.0 M550.1 751.0L533.1 758.3 M552.3 748.2L536.1 755.1 M554.5 745.5L539.0 752.0 M556.4 743.0L541.6 749.2 M550.1 751.0L549.7 765.1 M552.3 748.2L551.9 761.7 M554.5 745.5L554.1 758.2 M556.4 743.0L556.1 755.2 M550.1 751.0L567.3 760.2 M552.3 748.2L568.7 757.0 M554.5 745.5L570.1 753.8 M556.4 743.0L571.3 750.9 M585.8 751.4L579.0 740.7 M586.4 748.6L579.9 738.4 M586.9 745.8L580.7 736.0 M587.5 743.3L581.5 734.0 M585.8 751.4L592.6 740.7 M586.4 748.6L592.9 738.4 M586.9 745.8L593.2 736.0 M587.5 743.3L593.4 734.0 M585.8 751.4L585.8 765.1 M586.4 748.6L586.4 761.7 M586.9 745.8L586.9 758.2 M587.5 743.3L587.5 755.2 M585.8 751.4L603.4 761.2 M586.4 748.6L603.1 757.9 M586.9 745.8L602.9 754.7 M587.5 743.3L602.7 751.8 M621.5 751.4L614.1 741.3 M620.5 748.6L613.4 738.9 M619.4 745.8L612.7 736.6 M618.5 743.3L612.1 734.5 M621.5 751.4L628.7 741.3 M620.5 748.6L627.4 738.9 M619.4 745.8L626.0 736.6 M618.5 743.3L624.8 734.5 M621.5 751.4L621.5 766.1 M620.5 748.6L620.5 762.6 M619.4 745.8L619.4 759.1 M618.5 743.3L618.5 756.0 M621.5 751.4L639.4 758.3 M620.5 748.6L637.6 755.1 M619.4 745.8L635.8 752.0 M618.5 743.3L634.1 749.2 M496.1 771.3L478.5 764.7 M500.7 767.6L483.9 761.3 M505.3 763.9L489.3 757.9 M509.4 760.6L494.1 754.8 M496.1 771.3L495.1 759.2 M500.7 767.6L499.8 756.1 M505.3 763.9L504.4 752.9 M509.4 760.6L508.5 750.1 M496.1 771.3L514.6 765.1 M500.7 767.6L518.4 761.7 M505.3 763.9L522.2 758.2 M509.4 760.6L525.5 755.2 M496.1 771.3L487.3 783.6 M500.7 767.6L492.3 779.3 M505.3 763.9L497.3 775.1 M509.4 760.6L501.8 771.3 M496.1 771.3L501.9 783.6 M500.7 767.6L506.3 779.3 M505.3 763.9L510.6 775.1 M509.4 760.6L514.5 771.3 M531.8 771.9L514.6 765.1 M534.8 768.2L518.4 761.7 M537.8 764.4L522.2 758.2 M540.4 761.1L525.5 755.2 M531.8 771.9L533.1 758.3 M534.8 768.2L536.1 755.1 M537.8 764.4L539.0 752.0 M540.4 761.1L541.6 749.2 M531.8 771.9L549.7 765.1 M534.8 768.2L551.9 761.7 M537.8 764.4L554.1 758.2 M540.4 761.1L556.1 755.2 M531.8 771.9L523.4 784.2 M534.8 768.2L526.8 779.9 M537.8 764.4L530.1 775.6 M540.4 761.1L533.2 771.8 M531.8 771.9L538.0 784.2 M534.8 768.2L540.7 779.9 M537.8 764.4L543.5 775.6 M540.4 761.1L545.9 771.8 M567.3 772.5L549.7 765.1 M568.7 768.7L551.9 761.7 M570.1 765.0L554.1 758.2 M571.3 761.6L556.1 755.2 M567.3 772.5L567.3 760.2 M568.7 768.7L568.7 757.0 M570.1 765.0L570.1 753.8 M571.3 761.6L571.3 750.9 M567.3 772.5L585.8 765.1 M568.7 768.7L586.4 761.7 M570.1 765.0L586.9 758.2 M571.3 761.6L587.5 755.2 M567.3 772.5L559.5 784.6 M568.7 768.7L561.2 780.3 M570.1 765.0L563.0 776.0 M571.3 761.6L564.5 772.2 M567.3 772.5L574.1 784.6 M568.7 768.7L575.2 780.3 M570.1 765.0L576.3 776.0 M571.3 761.6L577.3 772.2 M603.4 772.5L585.8 765.1 M603.1 768.7L586.4 761.7 M602.9 765.0L586.9 758.2 M602.7 761.6L587.5 755.2 M603.4 772.5L603.4 761.2 M603.1 768.7L603.1 757.9 M602.9 765.0L602.9 754.7 M602.7 761.6L602.7 751.8 M603.4 772.5L621.5 766.1 M603.1 768.7L620.5 762.6 M602.9 765.0L619.4 759.1 M602.7 761.6L618.5 756.0 M603.4 772.5L595.9 784.6 M603.1 768.7L596.1 780.3 M602.9 765.0L596.2 776.0 M602.7 761.6L596.3 772.2 M603.4 772.5L610.6 784.6 M603.1 768.7L610.0 780.3 M602.9 765.0L609.5 776.0 M602.7 761.6L609.0 772.2" stroke="#c4c4c4" stroke-width="1.8" fill="none" stroke-opacity="0.75"/>
<circle cx="518.9" cy="733.9" r="2.4" fill="url(#gY)"/>
<circle cx="531.6" cy="733.9" r="2.4" fill="url(#gY)"/>
<circle cx="549.4" cy="733.9" r="2.4" fill="url(#gY)"/>
<circle cx="562.1" cy="733.9" r="2.4" fill="url(#gY)"/>
<circle cx="581.6" cy="733.9" r="2.4" fill="url(#gY)"/>
<circle cx="593.4" cy="733.9" r="2.4" fill="url(#gY)"/>
<circle cx="612.0" cy="734.4" r="2.4" fill="url(#gY)"/>
<circle cx="624.7" cy="734.4" r="2.4" fill="url(#gY)"/>
<circle cx="494.4" cy="754.7" r="2.4" fill="url(#gY)"/>
<circle cx="508.8" cy="750.0" r="2.4" fill="url(#gY)"/>
<circle cx="525.7" cy="755.0" r="2.4" fill="url(#gY)"/>
<circle cx="541.8" cy="749.1" r="2.4" fill="url(#gY)"/>
<circle cx="556.2" cy="755.0" r="2.4" fill="url(#gY)"/>
<circle cx="571.4" cy="750.8" r="2.4" fill="url(#gY)"/>
<circle cx="587.5" cy="755.0" r="2.4" fill="url(#gY)"/>
<circle cx="602.7" cy="751.7" r="2.4" fill="url(#gY)"/>
<circle cx="618.5" cy="755.9" r="2.4" fill="url(#gY)"/>
<circle cx="634.0" cy="749.1" r="2.4" fill="url(#gY)"/>
<circle cx="502.0" cy="771.1" r="2.4" fill="url(#gY)"/>
<circle cx="514.7" cy="771.1" r="2.4" fill="url(#gY)"/>
<circle cx="533.3" cy="771.6" r="2.4" fill="url(#gY)"/>
<circle cx="546.0" cy="771.6" r="2.4" fill="url(#gY)"/>
<circle cx="564.6" cy="772.0" r="2.4" fill="url(#gY)"/>
<circle cx="577.3" cy="772.0" r="2.4" fill="url(#gY)"/>
<circle cx="596.3" cy="772.0" r="2.4" fill="url(#gY)"/>
<circle cx="609.0" cy="772.0" r="2.4" fill="url(#gY)"/>
<circle cx="515.9" cy="735.6" r="2.5" fill="url(#gY)"/>
<circle cx="529.1" cy="735.6" r="2.5" fill="url(#gY)"/>
<circle cx="547.5" cy="735.6" r="2.5" fill="url(#gY)"/>
<circle cx="560.7" cy="735.6" r="2.5" fill="url(#gY)"/>
<circle cx="580.9" cy="735.6" r="2.5" fill="url(#gY)"/>
<circle cx="593.2" cy="735.6" r="2.5" fill="url(#gY)"/>
<circle cx="612.5" cy="736.1" r="2.5" fill="url(#gY)"/>
<circle cx="625.7" cy="736.1" r="2.5" fill="url(#gY)"/>
<circle cx="490.4" cy="757.2" r="2.5" fill="url(#gY)"/>
<circle cx="505.3" cy="752.3" r="2.5" fill="url(#gY)"/>
<circle cx="522.9" cy="757.5" r="2.5" fill="url(#gY)"/>
<circle cx="539.6" cy="751.4" r="2.5" fill="url(#gY)"/>
<circle cx="554.5" cy="757.5" r="2.5" fill="url(#gY)"/>
<circle cx="570.4" cy="753.2" r="2.5" fill="url(#gY)"/>
<circle cx="587.1" cy="757.5" r="2.5" fill="url(#gY)"/>
<circle cx="602.9" cy="754.0" r="2.5" fill="url(#gY)"/>
<circle cx="619.2" cy="758.4" r="2.5" fill="url(#gY)"/>
<circle cx="635.4" cy="751.4" r="2.5" fill="url(#gY)"/>
<circle cx="498.3" cy="774.2" r="2.5" fill="url(#gY)"/>
<circle cx="511.5" cy="774.2" r="2.5" fill="url(#gY)"/>
<circle cx="530.8" cy="774.8" r="2.5" fill="url(#gY)"/>
<circle cx="544.0" cy="774.8" r="2.5" fill="url(#gY)"/>
<circle cx="563.3" cy="775.1" r="2.5" fill="url(#gY)"/>
<circle cx="576.5" cy="775.1" r="2.5" fill="url(#gY)"/>
<circle cx="596.2" cy="775.1" r="2.5" fill="url(#gY)"/>
<circle cx="609.4" cy="775.1" r="2.5" fill="url(#gY)"/>
<circle cx="523.8" cy="744.9" r="3.5" fill="url(#gTi)"/>
<circle cx="554.9" cy="744.9" r="3.5" fill="url(#gTi)"/>
<circle cx="587.1" cy="745.2" r="3.5" fill="url(#gTi)"/>
<circle cx="619.2" cy="745.2" r="3.5" fill="url(#gTi)"/>
<circle cx="506.2" cy="763.2" r="3.5" fill="url(#gTi)"/>
<circle cx="538.4" cy="763.7" r="3.5" fill="url(#gTi)"/>
<circle cx="570.4" cy="764.2" r="3.5" fill="url(#gTi)"/>
<circle cx="602.9" cy="764.2" r="3.5" fill="url(#gTi)"/>
<circle cx="512.9" cy="737.3" r="2.6" fill="url(#gY)"/>
<circle cx="526.5" cy="737.3" r="2.6" fill="url(#gY)"/>
<circle cx="545.7" cy="737.3" r="2.6" fill="url(#gY)"/>
<circle cx="559.3" cy="737.3" r="2.6" fill="url(#gY)"/>
<circle cx="580.3" cy="737.3" r="2.6" fill="url(#gY)"/>
<circle cx="593.0" cy="737.3" r="2.6" fill="url(#gY)"/>
<circle cx="613.1" cy="737.8" r="2.6" fill="url(#gY)"/>
<circle cx="626.7" cy="737.8" r="2.6" fill="url(#gY)"/>
<circle cx="486.4" cy="759.7" r="2.6" fill="url(#gY)"/>
<circle cx="501.9" cy="754.6" r="2.6" fill="url(#gY)"/>
<circle cx="520.1" cy="760.1" r="2.6" fill="url(#gY)"/>
<circle cx="537.5" cy="753.7" r="2.6" fill="url(#gY)"/>
<circle cx="552.9" cy="760.1" r="2.6" fill="url(#gY)"/>
<circle cx="569.3" cy="755.5" r="2.6" fill="url(#gY)"/>
<circle cx="586.6" cy="760.1" r="2.6" fill="url(#gY)"/>
<circle cx="603.0" cy="756.4" r="2.6" fill="url(#gY)"/>
<circle cx="620.0" cy="761.0" r="2.6" fill="url(#gY)"/>
<circle cx="636.7" cy="753.7" r="2.6" fill="url(#gY)"/>
<circle cx="494.6" cy="777.4" r="2.6" fill="url(#gY)"/>
<circle cx="508.3" cy="777.4" r="2.6" fill="url(#gY)"/>
<circle cx="528.3" cy="777.9" r="2.6" fill="url(#gY)"/>
<circle cx="542.0" cy="777.9" r="2.6" fill="url(#gY)"/>
<circle cx="562.0" cy="778.3" r="2.6" fill="url(#gY)"/>
<circle cx="575.7" cy="778.3" r="2.6" fill="url(#gY)"/>
<circle cx="596.1" cy="778.3" r="2.6" fill="url(#gY)"/>
<circle cx="609.8" cy="778.3" r="2.6" fill="url(#gY)"/>
<circle cx="521.1" cy="746.9" r="3.6" fill="url(#gTi)"/>
<circle cx="553.3" cy="746.9" r="3.6" fill="url(#gTi)"/>
<circle cx="586.6" cy="747.3" r="3.6" fill="url(#gTi)"/>
<circle cx="620.0" cy="747.3" r="3.6" fill="url(#gTi)"/>
<circle cx="502.8" cy="765.9" r="3.6" fill="url(#gTi)"/>
<circle cx="536.2" cy="766.4" r="3.6" fill="url(#gTi)"/>
<circle cx="569.3" cy="767.0" r="3.6" fill="url(#gTi)"/>
<circle cx="603.0" cy="767.0" r="3.6" fill="url(#gTi)"/>
<circle cx="509.8" cy="739.0" r="2.7" fill="url(#gY)"/>
<circle cx="524.0" cy="739.0" r="2.7" fill="url(#gY)"/>
<circle cx="543.8" cy="739.0" r="2.7" fill="url(#gY)"/>
<circle cx="557.9" cy="739.0" r="2.7" fill="url(#gY)"/>
<circle cx="579.6" cy="739.0" r="2.7" fill="url(#gY)"/>
<circle cx="592.8" cy="739.0" r="2.7" fill="url(#gY)"/>
<circle cx="613.6" cy="739.6" r="2.7" fill="url(#gY)"/>
<circle cx="627.7" cy="739.6" r="2.7" fill="url(#gY)"/>
<circle cx="482.5" cy="762.2" r="2.7" fill="url(#gY)"/>
<circle cx="498.5" cy="756.9" r="2.7" fill="url(#gY)"/>
<circle cx="517.4" cy="762.6" r="2.7" fill="url(#gY)"/>
<circle cx="535.3" cy="756.0" r="2.7" fill="url(#gY)"/>
<circle cx="551.3" cy="762.6" r="2.7" fill="url(#gY)"/>
<circle cx="568.3" cy="757.9" r="2.7" fill="url(#gY)"/>
<circle cx="586.2" cy="762.6" r="2.7" fill="url(#gY)"/>
<circle cx="603.2" cy="758.8" r="2.7" fill="url(#gY)"/>
<circle cx="620.7" cy="763.5" r="2.7" fill="url(#gY)"/>
<circle cx="638.1" cy="756.0" r="2.7" fill="url(#gY)"/>
<circle cx="491.0" cy="780.5" r="2.7" fill="url(#gY)"/>
<circle cx="505.1" cy="780.5" r="2.7" fill="url(#gY)"/>
<circle cx="525.9" cy="781.1" r="2.7" fill="url(#gY)"/>
<circle cx="540.0" cy="781.1" r="2.7" fill="url(#gY)"/>
<circle cx="560.8" cy="781.4" r="2.7" fill="url(#gY)"/>
<circle cx="574.9" cy="781.4" r="2.7" fill="url(#gY)"/>
<circle cx="596.0" cy="781.4" r="2.7" fill="url(#gY)"/>
<circle cx="610.2" cy="781.4" r="2.7" fill="url(#gY)"/>
<circle cx="518.3" cy="749.0" r="3.8" fill="url(#gTi)"/>
<circle cx="551.7" cy="749.0" r="3.8" fill="url(#gTi)"/>
<circle cx="586.2" cy="749.4" r="3.8" fill="url(#gTi)"/>
<circle cx="620.7" cy="749.4" r="3.8" fill="url(#gTi)"/>
<circle cx="499.5" cy="768.6" r="3.8" fill="url(#gTi)"/>
<circle cx="534.0" cy="769.2" r="3.8" fill="url(#gTi)"/>
<circle cx="568.3" cy="769.7" r="3.8" fill="url(#gTi)"/>
<circle cx="603.2" cy="769.7" r="3.8" fill="url(#gTi)"/>
<circle cx="506.8" cy="740.7" r="2.8" fill="url(#gY)"/>
<circle cx="521.4" cy="740.7" r="2.8" fill="url(#gY)"/>
<circle cx="541.9" cy="740.7" r="2.8" fill="url(#gY)"/>
<circle cx="556.5" cy="740.7" r="2.8" fill="url(#gY)"/>
<circle cx="579.0" cy="740.7" r="2.8" fill="url(#gY)"/>
<circle cx="592.6" cy="740.7" r="2.8" fill="url(#gY)"/>
<circle cx="614.1" cy="741.3" r="2.8" fill="url(#gY)"/>
<circle cx="628.7" cy="741.3" r="2.8" fill="url(#gY)"/>
<circle cx="478.5" cy="764.7" r="2.8" fill="url(#gY)"/>
<circle cx="495.1" cy="759.2" r="2.8" fill="url(#gY)"/>
<circle cx="514.6" cy="765.1" r="2.8" fill="url(#gY)"/>
<circle cx="533.1" cy="758.3" r="2.8" fill="url(#gY)"/>
<circle cx="549.7" cy="765.1" r="2.8" fill="url(#gY)"/>
<circle cx="567.3" cy="760.2" r="2.8" fill="url(#gY)"/>
<circle cx="585.8" cy="765.1" r="2.8" fill="url(#gY)"/>
<circle cx="603.4" cy="761.2" r="2.8" fill="url(#gY)"/>
<circle cx="621.5" cy="766.1" r="2.8" fill="url(#gY)"/>
<circle cx="639.4" cy="758.3" r="2.8" fill="url(#gY)"/>
<circle cx="487.3" cy="783.6" r="2.8" fill="url(#gY)"/>
<circle cx="501.9" cy="783.6" r="2.8" fill="url(#gY)"/>
<circle cx="523.4" cy="784.2" r="2.8" fill="url(#gY)"/>
<circle cx="538.0" cy="784.2" r="2.8" fill="url(#gY)"/>
<circle cx="559.5" cy="784.6" r="2.8" fill="url(#gY)"/>
<circle cx="574.1" cy="784.6" r="2.8" fill="url(#gY)"/>
<circle cx="595.9" cy="784.6" r="2.8" fill="url(#gY)"/>
<circle cx="610.6" cy="784.6" r="2.8" fill="url(#gY)"/>
<circle cx="515.6" cy="751.0" r="3.9" fill="url(#gTi)"/>
<circle cx="550.1" cy="751.0" r="3.9" fill="url(#gTi)"/>
<circle cx="585.8" cy="751.4" r="3.9" fill="url(#gTi)"/>
<circle cx="621.5" cy="751.4" r="3.9" fill="url(#gTi)"/>
<circle cx="496.1" cy="771.3" r="3.9" fill="url(#gTi)"/>
<circle cx="531.8" cy="771.9" r="3.9" fill="url(#gTi)"/>
<circle cx="567.3" cy="772.5" r="3.9" fill="url(#gTi)"/>
<circle cx="603.4" cy="772.5" r="3.9" fill="url(#gTi)"/>
<path d="M477.2 736.8V726.5" stroke="#0a9a4a" stroke-width="1.1"/><path d="M477.2 724L475.4 728H479.0Z" fill="#0a9a4a"/>
<path d="M477.2 736.8L484.8 729" stroke="#2a7ad0" stroke-width="1.1"/><path d="M486.6 727.2L482.2 729.2L484.8 731.8Z" fill="#2a7ad0"/>
<path d="M477.2 736.8H485" stroke="#e0202a" stroke-width="1.1"/><path d="M488 736.8L484 735.0V738.5999999999999Z" fill="#e0202a"/>
<text x="475.2" y="722.5" font-size="6.5" font-weight="bold" fill="#0a9a4a" style="fill:#0a9a4a">c</text>
<text x="487.5" y="727" font-size="6.5" style="fill:#2a7ad0">b</text>
<text x="489" y="738.8" font-size="6.5" font-weight="bold" style="fill:#e0202a">a</text>
<path d="M498.7 845.3L471.7 845.3 M498.7 845.3L510.0 845.3 M498.7 845.3L523.4 845.3 M498.7 845.3L489.4 862.3 M498.7 845.3L497.2 862.3 M498.7 845.3L510.6 862.3 M498.7 845.3L489.4 827.9 M498.7 845.3L497.2 827.9 M498.7 845.3L510.6 827.9 M549.4 845.3L523.4 845.3 M549.4 845.3L530.2 845.3 M549.4 845.3L561.1 845.3 M549.4 845.3L574.5 845.3 M549.4 845.3L540.9 862.3 M549.4 845.3L548.3 862.3 M549.4 845.3L561.7 862.3 M549.4 845.3L540.9 827.9 M549.4 845.3L548.3 827.9 M549.4 845.3L561.7 827.9 M600.0 845.3L574.5 845.3 M600.0 845.3L581.3 845.3 M600.0 845.3L611.5 845.3 M600.0 845.3L624.9 845.3 M600.0 845.3L591.5 862.3 M600.0 845.3L599.4 862.3 M600.0 845.3L612.1 862.3 M600.0 845.3L591.5 827.9 M600.0 845.3L599.4 827.9 M600.0 845.3L612.1 827.9 M498.7 879.8L471.7 879.8 M498.7 879.8L510.0 879.8 M498.7 879.8L523.4 879.8 M498.7 879.8L489.4 862.3 M498.7 879.8L497.2 862.3 M498.7 879.8L510.6 862.3 M498.7 879.8L489.4 896.4 M498.7 879.8L497.2 896.4 M498.7 879.8L510.6 896.4 M549.4 879.8L523.4 879.8 M549.4 879.8L530.2 879.8 M549.4 879.8L561.1 879.8 M549.4 879.8L574.5 879.8 M549.4 879.8L540.9 862.3 M549.4 879.8L548.3 862.3 M549.4 879.8L561.7 862.3 M549.4 879.8L540.9 896.4 M549.4 879.8L548.3 896.4 M549.4 879.8L561.7 896.4 M600.0 879.8L574.5 879.8 M600.0 879.8L581.3 879.8 M600.0 879.8L611.5 879.8 M600.0 879.8L624.9 879.8 M600.0 879.8L591.5 862.3 M600.0 879.8L599.4 862.3 M600.0 879.8L612.1 862.3 M600.0 879.8L591.5 896.4 M600.0 879.8L599.4 896.4 M600.0 879.8L612.1 896.4 M498.7 914.5L471.7 914.5 M498.7 914.5L510.0 914.5 M498.7 914.5L523.4 914.5 M498.7 914.5L489.4 896.4 M498.7 914.5L497.2 896.4 M498.7 914.5L510.6 896.4 M498.7 914.5L489.4 931.5 M498.7 914.5L497.2 931.5 M498.7 914.5L510.6 931.5 M549.4 914.5L523.4 914.5 M549.4 914.5L530.2 914.5 M549.4 914.5L561.1 914.5 M549.4 914.5L574.5 914.5 M549.4 914.5L540.9 896.4 M549.4 914.5L548.3 896.4 M549.4 914.5L561.7 896.4 M549.4 914.5L540.9 931.5 M549.4 914.5L548.3 931.5 M549.4 914.5L561.7 931.5 M600.0 914.5L574.5 914.5 M600.0 914.5L581.3 914.5 M600.0 914.5L611.5 914.5 M600.0 914.5L624.9 914.5 M600.0 914.5L591.5 896.4 M600.0 914.5L599.4 896.4 M600.0 914.5L612.1 896.4 M600.0 914.5L591.5 931.5 M600.0 914.5L599.4 931.5 M600.0 914.5L612.1 931.5 M521.7 862.3L510.0 845.3 M521.7 862.3L523.4 845.3 M521.7 862.3L530.2 845.3 M521.7 862.3L510.0 879.8 M521.7 862.3L523.4 879.8 M521.7 862.3L530.2 879.8 M521.7 862.3L497.2 862.3 M521.7 862.3L510.6 862.3 M521.7 862.3L540.9 862.3 M521.7 862.3L548.3 862.3 M572.3 862.3L561.1 845.3 M572.3 862.3L574.5 845.3 M572.3 862.3L581.3 845.3 M572.3 862.3L561.1 879.8 M572.3 862.3L574.5 879.8 M572.3 862.3L581.3 879.8 M572.3 862.3L548.3 862.3 M572.3 862.3L561.7 862.3 M572.3 862.3L591.5 862.3 M572.3 862.3L599.4 862.3 M623.2 862.3L611.5 845.3 M623.2 862.3L624.9 845.3 M623.2 862.3L632.3 845.3 M623.2 862.3L611.5 879.8 M623.2 862.3L624.9 879.8 M623.2 862.3L632.3 879.8 M623.2 862.3L599.4 862.3 M623.2 862.3L612.1 862.3 M623.2 862.3L649.8 862.3 M521.7 896.4L510.0 879.8 M521.7 896.4L523.4 879.8 M521.7 896.4L530.2 879.8 M521.7 896.4L510.0 914.5 M521.7 896.4L523.4 914.5 M521.7 896.4L530.2 914.5 M521.7 896.4L497.2 896.4 M521.7 896.4L510.6 896.4 M521.7 896.4L540.9 896.4 M521.7 896.4L548.3 896.4 M572.3 896.4L561.1 879.8 M572.3 896.4L574.5 879.8 M572.3 896.4L581.3 879.8 M572.3 896.4L561.1 914.5 M572.3 896.4L574.5 914.5 M572.3 896.4L581.3 914.5 M572.3 896.4L548.3 896.4 M572.3 896.4L561.7 896.4 M572.3 896.4L591.5 896.4 M572.3 896.4L599.4 896.4 M623.2 896.4L611.5 879.8 M623.2 896.4L624.9 879.8 M623.2 896.4L632.3 879.8 M623.2 896.4L611.5 914.5 M623.2 896.4L624.9 914.5 M623.2 896.4L632.3 914.5 M623.2 896.4L599.4 896.4 M623.2 896.4L612.1 896.4 M623.2 896.4L649.8 896.4 M521.7 931.5L510.0 914.5 M521.7 931.5L523.4 914.5 M521.7 931.5L530.2 914.5 M521.7 931.5L497.2 931.5 M521.7 931.5L510.6 931.5 M521.7 931.5L540.9 931.5 M521.7 931.5L548.3 931.5 M521.7 931.5L510.0 948.5 M521.7 931.5L523.4 948.5 M521.7 931.5L530.2 948.5 M572.3 931.5L561.1 914.5 M572.3 931.5L574.5 914.5 M572.3 931.5L581.3 914.5 M572.3 931.5L548.3 931.5 M572.3 931.5L561.7 931.5 M572.3 931.5L591.5 931.5 M572.3 931.5L599.4 931.5 M572.3 931.5L561.1 948.5 M572.3 931.5L574.5 948.5 M572.3 931.5L581.3 948.5 M623.2 931.5L611.5 914.5 M623.2 931.5L624.9 914.5 M623.2 931.5L632.3 914.5 M623.2 931.5L599.4 931.5 M623.2 931.5L612.1 931.5 M623.2 931.5L649.8 931.5 M623.2 931.5L611.5 948.5 M623.2 931.5L624.9 948.5 M623.2 931.5L632.3 948.5" stroke="#c9c9c9" stroke-width="2.3" fill="none"/>
<path d="M498.7 845.3L471.7 845.3 M498.7 845.3L510.0 845.3 M498.7 845.3L523.4 845.3 M498.7 845.3L489.4 862.3 M498.7 845.3L497.2 862.3 M498.7 845.3L510.6 862.3 M498.7 845.3L489.4 827.9 M498.7 845.3L497.2 827.9 M498.7 845.3L510.6 827.9 M549.4 845.3L523.4 845.3 M549.4 845.3L530.2 845.3 M549.4 845.3L561.1 845.3 M549.4 845.3L574.5 845.3 M549.4 845.3L540.9 862.3 M549.4 845.3L548.3 862.3 M549.4 845.3L561.7 862.3 M549.4 845.3L540.9 827.9 M549.4 845.3L548.3 827.9 M549.4 845.3L561.7 827.9 M600.0 845.3L574.5 845.3 M600.0 845.3L581.3 845.3 M600.0 845.3L611.5 845.3 M600.0 845.3L624.9 845.3 M600.0 845.3L591.5 862.3 M600.0 845.3L599.4 862.3 M600.0 845.3L612.1 862.3 M600.0 845.3L591.5 827.9 M600.0 845.3L599.4 827.9 M600.0 845.3L612.1 827.9 M498.7 879.8L471.7 879.8 M498.7 879.8L510.0 879.8 M498.7 879.8L523.4 879.8 M498.7 879.8L489.4 862.3 M498.7 879.8L497.2 862.3 M498.7 879.8L510.6 862.3 M498.7 879.8L489.4 896.4 M498.7 879.8L497.2 896.4 M498.7 879.8L510.6 896.4 M549.4 879.8L523.4 879.8 M549.4 879.8L530.2 879.8 M549.4 879.8L561.1 879.8 M549.4 879.8L574.5 879.8 M549.4 879.8L540.9 862.3 M549.4 879.8L548.3 862.3 M549.4 879.8L561.7 862.3 M549.4 879.8L540.9 896.4 M549.4 879.8L548.3 896.4 M549.4 879.8L561.7 896.4 M600.0 879.8L574.5 879.8 M600.0 879.8L581.3 879.8 M600.0 879.8L611.5 879.8 M600.0 879.8L624.9 879.8 M600.0 879.8L591.5 862.3 M600.0 879.8L599.4 862.3 M600.0 879.8L612.1 862.3 M600.0 879.8L591.5 896.4 M600.0 879.8L599.4 896.4 M600.0 879.8L612.1 896.4 M498.7 914.5L471.7 914.5 M498.7 914.5L510.0 914.5 M498.7 914.5L523.4 914.5 M498.7 914.5L489.4 896.4 M498.7 914.5L497.2 896.4 M498.7 914.5L510.6 896.4 M498.7 914.5L489.4 931.5 M498.7 914.5L497.2 931.5 M498.7 914.5L510.6 931.5 M549.4 914.5L523.4 914.5 M549.4 914.5L530.2 914.5 M549.4 914.5L561.1 914.5 M549.4 914.5L574.5 914.5 M549.4 914.5L540.9 896.4 M549.4 914.5L548.3 896.4 M549.4 914.5L561.7 896.4 M549.4 914.5L540.9 931.5 M549.4 914.5L548.3 931.5 M549.4 914.5L561.7 931.5 M600.0 914.5L574.5 914.5 M600.0 914.5L581.3 914.5 M600.0 914.5L611.5 914.5 M600.0 914.5L624.9 914.5 M600.0 914.5L591.5 896.4 M600.0 914.5L599.4 896.4 M600.0 914.5L612.1 896.4 M600.0 914.5L591.5 931.5 M600.0 914.5L599.4 931.5 M600.0 914.5L612.1 931.5 M521.7 862.3L510.0 845.3 M521.7 862.3L523.4 845.3 M521.7 862.3L530.2 845.3 M521.7 862.3L510.0 879.8 M521.7 862.3L523.4 879.8 M521.7 862.3L530.2 879.8 M521.7 862.3L497.2 862.3 M521.7 862.3L510.6 862.3 M521.7 862.3L540.9 862.3 M521.7 862.3L548.3 862.3 M572.3 862.3L561.1 845.3 M572.3 862.3L574.5 845.3 M572.3 862.3L581.3 845.3 M572.3 862.3L561.1 879.8 M572.3 862.3L574.5 879.8 M572.3 862.3L581.3 879.8 M572.3 862.3L548.3 862.3 M572.3 862.3L561.7 862.3 M572.3 862.3L591.5 862.3 M572.3 862.3L599.4 862.3 M623.2 862.3L611.5 845.3 M623.2 862.3L624.9 845.3 M623.2 862.3L632.3 845.3 M623.2 862.3L611.5 879.8 M623.2 862.3L624.9 879.8 M623.2 862.3L632.3 879.8 M623.2 862.3L599.4 862.3 M623.2 862.3L612.1 862.3 M623.2 862.3L649.8 862.3 M521.7 896.4L510.0 879.8 M521.7 896.4L523.4 879.8 M521.7 896.4L530.2 879.8 M521.7 896.4L510.0 914.5 M521.7 896.4L523.4 914.5 M521.7 896.4L530.2 914.5 M521.7 896.4L497.2 896.4 M521.7 896.4L510.6 896.4 M521.7 896.4L540.9 896.4 M521.7 896.4L548.3 896.4 M572.3 896.4L561.1 879.8 M572.3 896.4L574.5 879.8 M572.3 896.4L581.3 879.8 M572.3 896.4L561.1 914.5 M572.3 896.4L574.5 914.5 M572.3 896.4L581.3 914.5 M572.3 896.4L548.3 896.4 M572.3 896.4L561.7 896.4 M572.3 896.4L591.5 896.4 M572.3 896.4L599.4 896.4 M623.2 896.4L611.5 879.8 M623.2 896.4L624.9 879.8 M623.2 896.4L632.3 879.8 M623.2 896.4L611.5 914.5 M623.2 896.4L624.9 914.5 M623.2 896.4L632.3 914.5 M623.2 896.4L599.4 896.4 M623.2 896.4L612.1 896.4 M623.2 896.4L649.8 896.4 M521.7 931.5L510.0 914.5 M521.7 931.5L523.4 914.5 M521.7 931.5L530.2 914.5 M521.7 931.5L497.2 931.5 M521.7 931.5L510.6 931.5 M521.7 931.5L540.9 931.5 M521.7 931.5L548.3 931.5 M521.7 931.5L510.0 948.5 M521.7 931.5L523.4 948.5 M521.7 931.5L530.2 948.5 M572.3 931.5L561.1 914.5 M572.3 931.5L574.5 914.5 M572.3 931.5L581.3 914.5 M572.3 931.5L548.3 931.5 M572.3 931.5L561.7 931.5 M572.3 931.5L591.5 931.5 M572.3 931.5L599.4 931.5 M572.3 931.5L561.1 948.5 M572.3 931.5L574.5 948.5 M572.3 931.5L581.3 948.5 M623.2 931.5L611.5 914.5 M623.2 931.5L624.9 914.5 M623.2 931.5L632.3 914.5 M623.2 931.5L599.4 931.5 M623.2 931.5L612.1 931.5 M623.2 931.5L649.8 931.5 M623.2 931.5L611.5 948.5 M623.2 931.5L624.9 948.5 M623.2 931.5L632.3 948.5" stroke="#e9e9e9" stroke-width="0.8" fill="none"/>
<circle cx="471.7" cy="845.3" r="4.0" fill="url(#gY)"/>
<circle cx="510.0" cy="845.3" r="4.0" fill="url(#gY)"/>
<circle cx="523.4" cy="845.3" r="4.0" fill="url(#gY)"/>
<circle cx="530.2" cy="845.3" r="4.0" fill="url(#gY)"/>
<circle cx="561.1" cy="845.3" r="4.0" fill="url(#gY)"/>
<circle cx="574.5" cy="845.3" r="4.0" fill="url(#gY)"/>
<circle cx="581.3" cy="845.3" r="4.0" fill="url(#gY)"/>
<circle cx="611.5" cy="845.3" r="4.0" fill="url(#gY)"/>
<circle cx="624.9" cy="845.3" r="4.0" fill="url(#gY)"/>
<circle cx="632.3" cy="845.3" r="4.0" fill="url(#gY)"/>
<circle cx="471.7" cy="879.8" r="4.0" fill="url(#gY)"/>
<circle cx="510.0" cy="879.8" r="4.0" fill="url(#gY)"/>
<circle cx="523.4" cy="879.8" r="4.0" fill="url(#gY)"/>
<circle cx="530.2" cy="879.8" r="4.0" fill="url(#gY)"/>
<circle cx="561.1" cy="879.8" r="4.0" fill="url(#gY)"/>
<circle cx="574.5" cy="879.8" r="4.0" fill="url(#gY)"/>
<circle cx="581.3" cy="879.8" r="4.0" fill="url(#gY)"/>
<circle cx="611.5" cy="879.8" r="4.0" fill="url(#gY)"/>
<circle cx="624.9" cy="879.8" r="4.0" fill="url(#gY)"/>
<circle cx="632.3" cy="879.8" r="4.0" fill="url(#gY)"/>
<circle cx="471.7" cy="914.5" r="4.0" fill="url(#gY)"/>
<circle cx="510.0" cy="914.5" r="4.0" fill="url(#gY)"/>
<circle cx="523.4" cy="914.5" r="4.0" fill="url(#gY)"/>
<circle cx="530.2" cy="914.5" r="4.0" fill="url(#gY)"/>
<circle cx="561.1" cy="914.5" r="4.0" fill="url(#gY)"/>
<circle cx="574.5" cy="914.5" r="4.0" fill="url(#gY)"/>
<circle cx="581.3" cy="914.5" r="4.0" fill="url(#gY)"/>
<circle cx="611.5" cy="914.5" r="4.0" fill="url(#gY)"/>
<circle cx="624.9" cy="914.5" r="4.0" fill="url(#gY)"/>
<circle cx="632.3" cy="914.5" r="4.0" fill="url(#gY)"/>
<circle cx="489.4" cy="862.3" r="4.0" fill="url(#gY)"/>
<circle cx="497.2" cy="862.3" r="4.0" fill="url(#gY)"/>
<circle cx="510.6" cy="862.3" r="4.0" fill="url(#gY)"/>
<circle cx="540.9" cy="862.3" r="4.0" fill="url(#gY)"/>
<circle cx="548.3" cy="862.3" r="4.0" fill="url(#gY)"/>
<circle cx="561.7" cy="862.3" r="4.0" fill="url(#gY)"/>
<circle cx="591.5" cy="862.3" r="4.0" fill="url(#gY)"/>
<circle cx="599.4" cy="862.3" r="4.0" fill="url(#gY)"/>
<circle cx="612.1" cy="862.3" r="4.0" fill="url(#gY)"/>
<circle cx="649.8" cy="862.3" r="4.0" fill="url(#gY)"/>
<circle cx="489.4" cy="896.4" r="4.0" fill="url(#gY)"/>
<circle cx="497.2" cy="896.4" r="4.0" fill="url(#gY)"/>
<circle cx="510.6" cy="896.4" r="4.0" fill="url(#gY)"/>
<circle cx="540.9" cy="896.4" r="4.0" fill="url(#gY)"/>
<circle cx="548.3" cy="896.4" r="4.0" fill="url(#gY)"/>
<circle cx="561.7" cy="896.4" r="4.0" fill="url(#gY)"/>
<circle cx="591.5" cy="896.4" r="4.0" fill="url(#gY)"/>
<circle cx="599.4" cy="896.4" r="4.0" fill="url(#gY)"/>
<circle cx="612.1" cy="896.4" r="4.0" fill="url(#gY)"/>
<circle cx="649.8" cy="896.4" r="4.0" fill="url(#gY)"/>
<circle cx="489.4" cy="931.5" r="4.0" fill="url(#gY)"/>
<circle cx="497.2" cy="931.5" r="4.0" fill="url(#gY)"/>
<circle cx="510.6" cy="931.5" r="4.0" fill="url(#gY)"/>
<circle cx="540.9" cy="931.5" r="4.0" fill="url(#gY)"/>
<circle cx="548.3" cy="931.5" r="4.0" fill="url(#gY)"/>
<circle cx="561.7" cy="931.5" r="4.0" fill="url(#gY)"/>
<circle cx="591.5" cy="931.5" r="4.0" fill="url(#gY)"/>
<circle cx="599.4" cy="931.5" r="4.0" fill="url(#gY)"/>
<circle cx="612.1" cy="931.5" r="4.0" fill="url(#gY)"/>
<circle cx="649.8" cy="931.5" r="4.0" fill="url(#gY)"/>
<circle cx="489.4" cy="827.9" r="4.0" fill="url(#gY)"/>
<circle cx="497.2" cy="827.9" r="4.0" fill="url(#gY)"/>
<circle cx="510.6" cy="827.9" r="4.0" fill="url(#gY)"/>
<circle cx="540.9" cy="827.9" r="4.0" fill="url(#gY)"/>
<circle cx="548.3" cy="827.9" r="4.0" fill="url(#gY)"/>
<circle cx="561.7" cy="827.9" r="4.0" fill="url(#gY)"/>
<circle cx="591.5" cy="827.9" r="4.0" fill="url(#gY)"/>
<circle cx="599.4" cy="827.9" r="4.0" fill="url(#gY)"/>
<circle cx="612.1" cy="827.9" r="4.0" fill="url(#gY)"/>
<circle cx="510.0" cy="948.5" r="4.0" fill="url(#gY)"/>
<circle cx="523.4" cy="948.5" r="4.0" fill="url(#gY)"/>
<circle cx="530.2" cy="948.5" r="4.0" fill="url(#gY)"/>
<circle cx="561.1" cy="948.5" r="4.0" fill="url(#gY)"/>
<circle cx="574.5" cy="948.5" r="4.0" fill="url(#gY)"/>
<circle cx="581.3" cy="948.5" r="4.0" fill="url(#gY)"/>
<circle cx="611.5" cy="948.5" r="4.0" fill="url(#gY)"/>
<circle cx="624.9" cy="948.5" r="4.0" fill="url(#gY)"/>
<circle cx="632.3" cy="948.5" r="4.0" fill="url(#gY)"/>
<circle cx="498.7" cy="845.3" r="5.8" fill="url(#gTi)"/>
<circle cx="549.4" cy="845.3" r="5.8" fill="url(#gTi)"/>
<circle cx="600.0" cy="845.3" r="5.8" fill="url(#gTi)"/>
<circle cx="498.7" cy="879.8" r="5.8" fill="url(#gTi)"/>
<circle cx="549.4" cy="879.8" r="5.8" fill="url(#gTi)"/>
<circle cx="600.0" cy="879.8" r="5.8" fill="url(#gTi)"/>
<circle cx="498.7" cy="914.5" r="5.8" fill="url(#gTi)"/>
<circle cx="549.4" cy="914.5" r="5.8" fill="url(#gTi)"/>
<circle cx="600.0" cy="914.5" r="5.8" fill="url(#gTi)"/>
<circle cx="521.7" cy="862.3" r="5.8" fill="url(#gTi)"/>
<circle cx="572.3" cy="862.3" r="5.8" fill="url(#gTi)"/>
<circle cx="623.2" cy="862.3" r="5.8" fill="url(#gTi)"/>
<circle cx="521.7" cy="896.4" r="5.8" fill="url(#gTi)"/>
<circle cx="572.3" cy="896.4" r="5.8" fill="url(#gTi)"/>
<circle cx="623.2" cy="896.4" r="5.8" fill="url(#gTi)"/>
<circle cx="521.7" cy="931.5" r="5.8" fill="url(#gTi)"/>
<circle cx="572.3" cy="931.5" r="5.8" fill="url(#gTi)"/>
<circle cx="623.2" cy="931.5" r="5.8" fill="url(#gTi)"/>
<rect x="584.5" y="821.5" width="35.1" height="117" fill="none" stroke="#333" stroke-width="1.1" stroke-dasharray="3.4 2"/>
<path d="M621.3 836.4L638.5 833.9" stroke="#222" stroke-width="0.9"/><path d="M640.8 833.5L637.6 832.6L638 835.2Z" fill="#222"/>
<path d="M470.2 953.4V943" stroke="#2a7ad0" stroke-width="1.2"/><path d="M470.2 939.5L468.2 944H472.2Z" fill="#2a7ad0"/>
<path d="M469.7 953.4H478.5" stroke="#e0202a" stroke-width="1.2"/><path d="M481.5 953.4L477 951.4V955.4Z" fill="#e0202a"/>
<text x="467.8" y="937.5" font-size="7" font-weight="bold" style="fill:#2a7ad0">b</text>
<text x="483" y="955.5" font-size="7" font-weight="bold" style="fill:#e0202a">a</text>
<circle cx="665.3" cy="919.1" r="4.6" fill="url(#gTi)"/>
<circle cx="665.7" cy="937.9" r="3.7" fill="url(#gY2)"/>
<text x="675" y="921.5" font-size="15.5">Ti</text><text x="676.4" y="944.6" font-size="12.5">S</text>
<path d="M710.9 663.0 L777.9 667.0 L777.9 797.3 L710.9 793.9Z M693.0 687.8 L761.1 691.6 L761.1 823.0 L693.0 819.0Z M693.0 687.8L710.9 663.0 M761.1 691.6L777.9 667.0 M761.1 823.0L777.9 797.3 M693.0 819.0L710.9 793.9 " stroke="#7a7a7a" stroke-width="0.6" fill="none"/>
<path d="M710.3 699.4L718.6 690.1 M710.3 699.4L704.9 695.9 M710.3 699.4L721.2 697.4 M710.3 699.4L710.1 702.6 M710.3 699.4L720.3 705.2 M710.3 699.4L706.4 711.1 M712.9 713.3L706.2 702.9 M712.9 713.3L711.4 709.5 M712.9 713.3L721.6 712.1 M712.9 713.3L707.7 718.0 M712.9 713.3L712.9 724.5 M751.9 707.2L755.8 695.5 M751.9 707.2L742.0 701.3 M751.9 707.2L759.3 701.6 M751.9 707.2L747.3 708.5 M751.9 707.2L757.7 710.8 M751.9 707.2L741.1 709.1 M751.9 707.2L743.7 716.6 M731.7 719.3L731.8 707.4 M731.7 719.3L737.2 714.6 M731.7 719.3L731.0 715.2 M731.7 719.3L733.6 722.6 M731.7 719.3L722.3 727.6 M731.7 719.3L738.6 729.6 M739.3 767.5L748.2 758.6 M739.3 767.5L737.2 763.8 M739.3 767.5L739.8 771.2 M739.3 767.5L733.5 772.2 M739.3 767.5L749.7 773.6 M739.3 767.5L738.7 779.1 M757.1 773.4L757.1 761.5 M757.1 773.4L762.6 768.5 M757.1 773.4L748.7 774.1 M757.1 773.4L758.6 776.5 M757.1 773.4L764.1 783.5 M718.1 779.1L712.9 775.4 M718.1 779.1L729.2 777.0 M718.1 779.1L722.9 778.0 M718.1 779.1L711.0 784.3 M718.1 779.1L728.1 784.9 M718.1 779.1L714.5 790.7 M760.1 786.9L764.1 775.2 M760.1 786.9L750.2 780.9 M760.1 786.9L760.1 783.3 M760.1 786.9L749.1 788.8 M760.1 786.9L765.5 790.2 M760.1 786.9L751.7 796.0" stroke="#12b4bc" stroke-width="1.5" fill="none"/><path d="M718.6 690.1L726.8 680.9 M704.9 695.9L699.4 692.5 M721.2 697.4L732.0 695.4 M710.1 702.6L709.8 705.8 M720.3 705.2L730.3 711.0 M706.4 711.1L702.5 722.8 M706.2 702.9L699.4 692.5 M711.4 709.5L709.8 705.8 M721.6 712.1L730.3 711.0 M707.7 718.0L702.5 722.8 M712.9 724.5L712.9 735.8 M755.8 695.5L759.7 683.8 M742.0 701.3L732.0 695.4 M759.3 701.6L766.7 695.9 M747.3 708.5L742.7 709.8 M757.7 710.8L763.6 714.5 M741.1 709.1L730.3 711.0 M743.7 716.6L735.5 725.9 M731.8 707.4L732.0 695.4 M737.2 714.6L742.7 709.8 M731.0 715.2L730.3 711.0 M733.6 722.6L735.5 725.9 M722.3 727.6L712.9 735.8 M738.6 729.6L745.5 739.8 M748.2 758.6L757.1 749.7 M737.2 763.8L735.1 760.1 M739.8 771.2L740.3 774.8 M733.5 772.2L727.7 776.9 M749.7 773.6L760.1 779.7 M738.7 779.1L738.1 790.8 M757.1 761.5L757.1 749.7 M762.6 768.5L768.1 763.5 M748.7 774.1L740.3 774.8 M758.6 776.5L760.1 779.7 M764.1 783.5L771.0 793.5 M712.9 775.4L707.7 771.7 M729.2 777.0L740.3 774.8 M722.9 778.0L727.7 776.9 M711.0 784.3L703.9 789.5 M728.1 784.9L738.1 790.8 M714.5 790.7L710.9 802.2 M764.1 775.2L768.1 763.5 M750.2 780.9L740.3 774.8 M760.1 783.3L760.1 779.7 M749.1 788.8L738.1 790.8 M765.5 790.2L771.0 793.5 M751.7 796.0L743.3 805.1" stroke="#8aa892" stroke-width="1.5" fill="none"/>
<path d="M731.1 703.7L729.0 692.3 M731.1 703.7L731.6 699.6 M731.1 703.7L720.5 704.8 M731.1 703.7L736.9 706.8 M731.1 703.7L730.7 707.4 M731.1 703.7L733.3 714.8 M756.3 718.1L749.5 714.0 M756.3 718.1L759.9 716.3 M756.3 718.1L745.9 722.0 M756.3 718.1L763.0 722.2 M756.3 718.1L750.9 729.0 M714.3 768.2L719.5 757.2 M714.3 768.2L707.6 763.9 M714.3 768.2L724.7 764.1 M714.3 768.2L711.0 770.0 M714.3 768.2L721.0 772.6 M714.3 768.2L709.1 778.9 M739.3 783.5L737.2 771.8 M739.3 783.5L739.8 779.1 M739.3 783.5L733.5 780.2 M739.3 783.5L749.7 781.6 M739.3 783.5L738.7 787.1 M739.3 783.5L741.3 794.3" stroke="#a8228e" stroke-width="1.5" fill="none"/><path d="M729.0 692.3L726.8 680.9 M731.6 699.6L732.0 695.4 M720.5 704.8L709.8 705.8 M736.9 706.8L742.7 709.8 M730.7 707.4L730.3 711.0 M733.3 714.8L735.5 725.9 M749.5 714.0L742.7 709.8 M759.9 716.3L763.6 714.5 M745.9 722.0L735.5 725.9 M763.0 722.2L769.8 726.3 M750.9 729.0L745.5 739.8 M719.5 757.2L724.7 746.2 M707.6 763.9L700.8 759.6 M724.7 764.1L735.1 760.1 M711.0 770.0L707.7 771.7 M721.0 772.6L727.7 776.9 M709.1 778.9L703.9 789.5 M737.2 771.8L735.1 760.1 M739.8 779.1L740.3 774.8 M733.5 780.2L727.7 776.9 M749.7 781.6L760.1 779.7 M738.7 787.1L738.1 790.8 M741.3 794.3L743.3 805.1" stroke="#8aa892" stroke-width="1.5" fill="none"/>
<circle cx="726.8" cy="680.9" r="4.9" fill="url(#gTe)"/>
<circle cx="699.4" cy="692.5" r="4.9" fill="url(#gTe)"/>
<circle cx="766.7" cy="695.9" r="4.9" fill="url(#gTe)"/>
<circle cx="742.7" cy="709.8" r="4.9" fill="url(#gTe)"/>
<circle cx="730.3" cy="711.0" r="4.9" fill="url(#gTe)"/>
<circle cx="735.5" cy="725.9" r="4.9" fill="url(#gTe)"/>
<circle cx="712.9" cy="735.8" r="4.9" fill="url(#gTe)"/>
<circle cx="724.7" cy="746.2" r="4.9" fill="url(#gTe)"/>
<circle cx="700.8" cy="759.6" r="4.9" fill="url(#gTe)"/>
<circle cx="768.1" cy="763.5" r="4.9" fill="url(#gTe)"/>
<circle cx="740.3" cy="774.8" r="4.9" fill="url(#gTe)"/>
<circle cx="760.1" cy="779.7" r="4.9" fill="url(#gTe)"/>
<circle cx="738.1" cy="790.8" r="4.9" fill="url(#gTe)"/>
<circle cx="710.9" cy="802.2" r="4.9" fill="url(#gTe)"/>
<circle cx="731.1" cy="703.7" r="4.1" fill="url(#gSi)"/>
<circle cx="756.3" cy="718.1" r="4.1" fill="url(#gSi)"/>
<circle cx="714.3" cy="768.2" r="4.1" fill="url(#gSi)"/>
<circle cx="739.3" cy="783.5" r="4.1" fill="url(#gSi)"/>
<circle cx="710.3" cy="699.4" r="5.2" fill="url(#gNb)"/>
<circle cx="712.9" cy="713.3" r="5.2" fill="url(#gNb)"/>
<circle cx="751.9" cy="707.2" r="5.2" fill="url(#gNb)"/>
<circle cx="731.7" cy="719.3" r="5.2" fill="url(#gNb)"/>
<circle cx="739.3" cy="767.5" r="5.2" fill="url(#gNb)"/>
<circle cx="757.1" cy="773.4" r="5.2" fill="url(#gNb)"/>
<circle cx="718.1" cy="779.1" r="5.2" fill="url(#gNb)"/>
<circle cx="760.1" cy="786.9" r="5.2" fill="url(#gNb)"/>
<circle cx="759.7" cy="683.8" r="4.9" fill="url(#gTe)"/>
<circle cx="732.0" cy="695.4" r="4.9" fill="url(#gTe)"/>
<circle cx="709.8" cy="705.8" r="4.9" fill="url(#gTe)"/>
<circle cx="763.6" cy="714.5" r="4.9" fill="url(#gTe)"/>
<circle cx="702.5" cy="722.8" r="4.9" fill="url(#gTe)"/>
<circle cx="769.8" cy="726.3" r="4.9" fill="url(#gTe)"/>
<circle cx="745.5" cy="739.8" r="4.9" fill="url(#gTe)"/>
<circle cx="757.1" cy="749.7" r="4.9" fill="url(#gTe)"/>
<circle cx="735.1" cy="760.1" r="4.9" fill="url(#gTe)"/>
<circle cx="707.7" cy="771.7" r="4.9" fill="url(#gTe)"/>
<circle cx="727.7" cy="776.9" r="4.9" fill="url(#gTe)"/>
<circle cx="703.9" cy="789.5" r="4.9" fill="url(#gTe)"/>
<circle cx="771.0" cy="793.5" r="4.9" fill="url(#gTe)"/>
<circle cx="743.3" cy="805.1" r="4.9" fill="url(#gTe)"/>
<path d="M700.5 866.4L698.9 858.5 M700.5 866.4L708.1 858.5 M700.5 866.4L698.9 874.4 M700.5 866.4L708.1 874.4 M711.9 866.4L704.5 858.5 M711.9 866.4L713.8 858.5 M711.9 866.4L704.5 874.4 M711.9 866.4L713.8 874.4 M733.7 866.4L731.9 858.5 M733.7 866.4L741.2 858.5 M733.7 866.4L731.9 874.4 M733.7 866.4L741.2 874.4 M745.2 866.4L737.6 858.5 M745.2 866.4L747.0 858.5 M745.2 866.4L737.6 874.4 M745.2 866.4L747.0 874.4" stroke="#12b4bc" stroke-width="1.4" fill="none"/><path d="M698.9 858.5L697.2 850.5 M708.1 858.5L715.7 850.5 M698.9 874.4L697.2 882.4 M708.1 874.4L715.7 882.4 M704.5 858.5L697.2 850.5 M713.8 858.5L715.7 850.5 M704.5 874.4L697.2 882.4 M713.8 874.4L715.7 882.4 M731.9 858.5L730.0 850.5 M741.2 858.5L748.8 850.5 M731.9 874.4L730.0 882.4 M741.2 874.4L748.8 882.4 M737.6 858.5L730.0 850.5 M747.0 858.5L748.8 850.5 M737.6 874.4L730.0 882.4 M747.0 874.4L748.8 882.4" stroke="#7c9c84" stroke-width="1.4" fill="none"/>
<path d="M722.9 866.4L719.3 858.5 M722.9 866.4L726.5 858.5 M722.9 866.4L719.3 874.4 M722.9 866.4L726.5 874.4 M756.2 866.4L752.5 858.5 M756.2 866.4L759.9 858.5 M756.2 866.4L752.5 874.4 M756.2 866.4L759.9 874.4" stroke="#a8228e" stroke-width="1.5" fill="none"/><path d="M719.3 858.5L715.7 850.5 M726.5 858.5L730.0 850.5 M719.3 874.4L715.7 882.4 M726.5 874.4L730.0 882.4 M752.5 858.5L748.8 850.5 M759.9 858.5L763.5 850.5 M752.5 874.4L748.8 882.4 M759.9 874.4L763.5 882.4" stroke="#7c9c84" stroke-width="1.5" fill="none"/>
<circle cx="697.2" cy="850.5" r="4.4" fill="url(#gTe)"/>
<circle cx="715.7" cy="850.5" r="4.4" fill="url(#gTe)"/>
<circle cx="730.0" cy="850.5" r="4.4" fill="url(#gTe)"/>
<circle cx="748.8" cy="850.5" r="4.4" fill="url(#gTe)"/>
<circle cx="763.5" cy="850.5" r="4.4" fill="url(#gTe)"/>
<circle cx="697.2" cy="882.4" r="4.4" fill="url(#gTe)"/>
<circle cx="715.7" cy="882.4" r="4.4" fill="url(#gTe)"/>
<circle cx="730.0" cy="882.4" r="4.4" fill="url(#gTe)"/>
<circle cx="748.8" cy="882.4" r="4.4" fill="url(#gTe)"/>
<circle cx="763.5" cy="882.4" r="4.4" fill="url(#gTe)"/>
<circle cx="722.9" cy="866.4" r="3.7" fill="url(#gSi)"/>
<circle cx="756.2" cy="866.4" r="3.7" fill="url(#gSi)"/>
<circle cx="700.5" cy="866.4" r="4.7" fill="url(#gNb)"/>
<circle cx="711.9" cy="866.4" r="4.7" fill="url(#gNb)"/>
<circle cx="733.7" cy="866.4" r="4.7" fill="url(#gNb)"/>
<circle cx="745.2" cy="866.4" r="4.7" fill="url(#gNb)"/>
<path d="M717.3 926.3L715.5 918.2 M717.3 926.3L724.7 918.2 M717.3 926.3L715.5 934.2 M717.3 926.3L724.7 934.2 M728.6 926.3L721.1 918.2 M728.6 926.3L730.4 918.2 M728.6 926.3L721.1 934.2 M728.6 926.3L730.4 934.2 M750.4 926.3L748.3 918.2 M750.4 926.3L758.0 918.2 M750.4 926.3L748.3 934.2 M750.4 926.3L758.0 934.2 M761.9 926.3L754.1 918.2 M761.9 926.3L763.7 918.2 M761.9 926.3L754.1 934.2 M761.9 926.3L763.7 934.2" stroke="#12b4bc" stroke-width="1.4" fill="none"/><path d="M715.5 918.2L713.6 910.2 M724.7 918.2L732.1 910.2 M715.5 934.2L713.6 942.2 M724.7 934.2L732.1 942.2 M721.1 918.2L713.6 910.2 M730.4 918.2L732.1 910.2 M721.1 934.2L713.6 942.2 M730.4 934.2L732.1 942.2 M748.3 918.2L746.3 910.2 M758.0 918.2L765.5 910.2 M748.3 934.2L746.3 942.2 M758.0 934.2L765.5 942.2 M754.1 918.2L746.3 910.2 M763.7 918.2L765.5 910.2 M754.1 934.2L746.3 942.2 M763.7 934.2L765.5 942.2" stroke="#7c9c84" stroke-width="1.4" fill="none"/>
<path d="M706.2 926.3L702.8 918.2 M706.2 926.3L709.9 918.2 M706.2 926.3L702.8 934.2 M706.2 926.3L709.9 934.2 M739.3 926.3L735.7 918.2 M739.3 926.3L742.8 918.2 M739.3 926.3L735.7 934.2 M739.3 926.3L742.8 934.2" stroke="#a8228e" stroke-width="1.5" fill="none"/><path d="M702.8 918.2L699.3 910.2 M709.9 918.2L713.6 910.2 M702.8 934.2L699.3 942.2 M709.9 934.2L713.6 942.2 M735.7 918.2L732.1 910.2 M742.8 918.2L746.3 910.2 M735.7 934.2L732.1 942.2 M742.8 934.2L746.3 942.2" stroke="#7c9c84" stroke-width="1.5" fill="none"/>
<circle cx="699.3" cy="910.2" r="4.4" fill="url(#gTe)"/>
<circle cx="713.6" cy="910.2" r="4.4" fill="url(#gTe)"/>
<circle cx="732.1" cy="910.2" r="4.4" fill="url(#gTe)"/>
<circle cx="746.3" cy="910.2" r="4.4" fill="url(#gTe)"/>
<circle cx="765.5" cy="910.2" r="4.4" fill="url(#gTe)"/>
<circle cx="699.3" cy="942.2" r="4.4" fill="url(#gTe)"/>
<circle cx="713.6" cy="942.2" r="4.4" fill="url(#gTe)"/>
<circle cx="732.1" cy="942.2" r="4.4" fill="url(#gTe)"/>
<circle cx="746.3" cy="942.2" r="4.4" fill="url(#gTe)"/>
<circle cx="765.5" cy="942.2" r="4.4" fill="url(#gTe)"/>
<circle cx="706.2" cy="926.3" r="3.7" fill="url(#gSi)"/>
<circle cx="739.3" cy="926.3" r="3.7" fill="url(#gSi)"/>
<circle cx="717.3" cy="926.3" r="4.7" fill="url(#gNb)"/>
<circle cx="728.6" cy="926.3" r="4.7" fill="url(#gNb)"/>
<circle cx="750.4" cy="926.3" r="4.7" fill="url(#gNb)"/>
<circle cx="761.9" cy="926.3" r="4.7" fill="url(#gNb)"/>
<path d="M768.4 850.5H774.7M771.7 852V881M768.4 882.6H774.7 M773.7 885V908 M770.9 909.4H776.6" stroke="#222" stroke-width="0.8" fill="none"/>
<path d="M771.7 850.8L770.3 854.5H773.1Z M771.7 882.3L770.3 878.6H773.1Z M773.7 883L772.4 886.6H775Z M773.7 909.2L772.4 905.6H775Z" fill="#222"/>
<text x="775.3" y="866" font-size="11.5" style="font-family:'Liberation Serif',serif">h</text>
<text x="775.3" y="899" font-size="11.5" style="font-family:'Liberation Serif',serif">d</text>
<circle cx="789.4" cy="918.1" r="4.4" fill="url(#gTe)"/>
<circle cx="789.4" cy="930.9" r="3.9" fill="url(#gSi)"/>
<circle cx="789.4" cy="943.2" r="4.2" fill="url(#gNb)"/>
<text x="802.3" y="921.5" font-size="12.5">Te</text><text x="804.3" y="936" font-size="12">Si</text><text x="804.3" y="948.5" font-size="12">Nb</text>
<path d="M862.4 704.7L887.4 704.7 M862.4 704.7L873.2 727.0 M887.4 704.7L862.4 704.7 M887.4 704.7L873.2 727.0 M887.4 704.7L898.4 727.0 M920.8 704.7L945.2 704.7 M920.8 704.7L931.8 727.0 M945.2 704.7L920.8 704.7 M945.2 704.7L931.8 727.0 M945.2 704.7L956.2 727.0 M978.6 704.7L1003.0 704.7 M978.6 704.7L989.7 727.0 M1003.0 704.7L978.6 704.7 M1003.0 704.7L989.7 727.0 M1003.0 704.7L1014.0 727.0 M873.2 727.0L862.4 704.7 M873.2 727.0L887.4 704.7 M873.2 727.0L898.4 727.0 M898.4 727.0L887.4 704.7 M898.4 727.0L873.2 727.0 M898.4 727.0L890.0 753.5 M931.8 727.0L920.8 704.7 M931.8 727.0L945.2 704.7 M931.8 727.0L956.2 727.0 M956.2 727.0L945.2 704.7 M956.2 727.0L931.8 727.0 M956.2 727.0L948.5 753.5 M989.7 727.0L978.6 704.7 M989.7 727.0L1003.0 704.7 M989.7 727.0L1014.0 727.0 M1014.0 727.0L1003.0 704.7 M1014.0 727.0L989.7 727.0 M1014.0 727.0L1007.0 753.5 M890.0 753.5L898.4 727.0 M890.0 753.5L915.0 753.5 M890.0 753.5L901.5 775.4 M915.0 753.5L890.0 753.5 M915.0 753.5L901.5 775.4 M915.0 753.5L926.2 775.4 M948.5 753.5L956.2 727.0 M948.5 753.5L973.5 753.5 M948.5 753.5L960.0 775.4 M973.5 753.5L948.5 753.5 M973.5 753.5L960.0 775.4 M973.5 753.5L984.5 775.4 M1007.0 753.5L1014.0 727.0 M1007.0 753.5L1031.0 753.5 M1007.0 753.5L1018.0 775.4 M1031.0 753.5L1007.0 753.5 M1031.0 753.5L1018.0 775.4 M1031.0 753.5L1042.0 775.4 M901.5 775.4L890.0 753.5 M901.5 775.4L915.0 753.5 M901.5 775.4L926.2 775.4 M926.2 775.4L915.0 753.5 M926.2 775.4L901.5 775.4 M926.2 775.4L918.2 802.4 M960.0 775.4L948.5 753.5 M960.0 775.4L973.5 753.5 M960.0 775.4L984.5 775.4 M984.5 775.4L973.5 753.5 M984.5 775.4L960.0 775.4 M1018.0 775.4L1007.0 753.5 M1018.0 775.4L1031.0 753.5 M1018.0 775.4L1042.0 775.4 M1042.0 775.4L1031.0 753.5 M1042.0 775.4L1018.0 775.4 M1042.0 775.4L1034.7 802.4 M918.2 802.4L926.2 775.4 M918.2 802.4L943.4 802.4 M918.2 802.4L930.0 824.2 M943.4 802.4L918.2 802.4 M943.4 802.4L930.0 824.2 M943.4 802.4L954.4 824.2 M976.3 802.4L1001.0 802.4 M976.3 802.4L987.9 824.2 M1001.0 802.4L976.3 802.4 M1001.0 802.4L987.9 824.2 M1001.0 802.4L1012.8 824.2 M1034.7 802.4L1042.0 775.4 M1034.7 802.4L1059.6 802.4 M1034.7 802.4L1046.0 824.2 M1059.6 802.4L1034.7 802.4 M1059.6 802.4L1046.0 824.2 M1059.6 802.4L1070.6 824.2 M930.0 824.2L918.2 802.4 M930.0 824.2L943.4 802.4 M930.0 824.2L954.4 824.2 M954.4 824.2L943.4 802.4 M954.4 824.2L930.0 824.2 M987.9 824.2L976.3 802.4 M987.9 824.2L1001.0 802.4 M987.9 824.2L1012.8 824.2 M1012.8 824.2L1001.0 802.4 M1012.8 824.2L987.9 824.2 M1046.0 824.2L1034.7 802.4 M1046.0 824.2L1059.6 802.4 M1046.0 824.2L1070.6 824.2 M1070.6 824.2L1059.6 802.4 M1070.6 824.2L1046.0 824.2" stroke="#bdbdab" stroke-width="1.8" fill="none"/>
<path d="M862.4 704.7L854.2 700.6 M862.4 704.7L861.6 696.6 M862.4 704.7L868.8 700.6 M862.4 704.7L853.9 708.8 M862.4 704.7L861.1 712.8 M862.4 704.7L868.5 708.8 M887.4 704.7L881.3 700.6 M887.4 704.7L888.7 696.6 M887.4 704.7L895.8 700.6 M887.4 704.7L881.0 708.8 M887.4 704.7L888.2 712.8 M887.4 704.7L895.6 708.8 M920.8 704.7L912.5 700.6 M920.8 704.7L919.9 696.6 M920.8 704.7L927.1 700.6 M920.8 704.7L912.3 708.8 M920.8 704.7L919.5 712.8 M920.8 704.7L926.9 708.8 M945.2 704.7L939.3 700.6 M945.2 704.7L946.7 696.6 M945.2 704.7L953.9 700.6 M945.2 704.7L939.1 708.8 M945.2 704.7L946.2 712.8 M945.2 704.7L953.6 708.8 M978.6 704.7L970.6 700.6 M978.6 704.7L978.0 696.6 M978.6 704.7L985.2 700.6 M978.6 704.7L970.3 708.8 M978.6 704.7L977.5 712.8 M978.6 704.7L984.9 708.8 M1003.0 704.7L997.4 700.6 M1003.0 704.7L1004.8 696.6 M1003.0 704.7L1011.9 700.6 M1003.0 704.7L997.1 708.8 M1003.0 704.7L1004.3 712.8 M1003.0 704.7L1011.7 708.8 M873.2 727.0L866.5 724.0 M873.2 727.0L873.9 719.9 M873.2 727.0L881.1 724.0 M873.2 727.0L866.3 732.1 M873.2 727.0L873.4 736.2 M873.2 727.0L880.8 732.1 M898.4 727.0L893.7 724.0 M898.4 727.0L901.1 719.9 M898.4 727.0L908.3 724.0 M898.4 727.0L893.4 732.1 M898.4 727.0L900.6 736.2 M898.4 727.0L908.0 732.1 M931.8 727.0L925.0 724.0 M931.8 727.0L932.4 719.9 M931.8 727.0L939.5 724.0 M931.8 727.0L924.7 732.1 M931.8 727.0L931.9 736.2 M931.8 727.0L939.3 732.1 M956.2 727.0L951.7 724.0 M956.2 727.0L959.1 719.9 M956.2 727.0L966.3 724.0 M956.2 727.0L951.5 732.1 M956.2 727.0L958.7 736.2 M956.2 727.0L966.1 732.1 M989.7 727.0L983.1 724.0 M989.7 727.0L990.5 719.9 M989.7 727.0L997.6 724.0 M989.7 727.0L982.8 732.1 M989.7 727.0L990.0 736.2 M989.7 727.0L997.4 732.1 M1014.0 727.0L1009.8 724.0 M1014.0 727.0L1017.2 719.9 M1014.0 727.0L1024.4 724.0 M1014.0 727.0L1009.5 732.1 M1014.0 727.0L1016.7 736.2 M1014.0 727.0L1024.1 732.1 M890.0 753.5L881.8 749.4 M890.0 753.5L889.2 745.4 M890.0 753.5L896.4 749.4 M890.0 753.5L881.6 757.6 M890.0 753.5L888.8 761.6 M890.0 753.5L896.2 757.6 M915.0 753.5L908.9 749.4 M915.0 753.5L916.3 745.4 M915.0 753.5L923.5 749.4 M915.0 753.5L908.7 757.6 M915.0 753.5L915.8 761.6 M915.0 753.5L923.2 757.6 M948.5 753.5L940.2 749.4 M948.5 753.5L947.6 745.4 M948.5 753.5L954.8 749.4 M948.5 753.5L940.0 757.6 M948.5 753.5L947.2 761.6 M948.5 753.5L954.6 757.6 M973.5 753.5L967.3 749.4 M973.5 753.5L974.7 745.4 M973.5 753.5L981.9 749.4 M973.5 753.5L967.1 757.6 M973.5 753.5L974.2 761.6 M973.5 753.5L981.6 757.6 M1007.0 753.5L998.6 749.4 M1007.0 753.5L1006.0 745.4 M1007.0 753.5L1013.2 749.4 M1007.0 753.5L998.4 757.6 M1007.0 753.5L1005.6 761.6 M1007.0 753.5L1013.0 757.6 M1031.0 753.5L1025.2 749.4 M1031.0 753.5L1032.6 745.4 M1031.0 753.5L1039.8 749.4 M1031.0 753.5L1025.0 757.6 M1031.0 753.5L1032.1 761.6 M1031.0 753.5L1039.5 757.6 M901.5 775.4L894.5 772.6 M901.5 775.4L901.9 768.5 M901.5 775.4L909.1 772.6 M901.5 775.4L894.3 780.7 M901.5 775.4L901.4 784.8 M901.5 775.4L908.8 780.7 M926.2 775.4L921.4 772.6 M926.2 775.4L928.8 768.5 M926.2 775.4L936.0 772.6 M926.2 775.4L921.2 780.7 M926.2 775.4L928.4 784.8 M926.2 775.4L935.8 780.7 M960.0 775.4L952.9 772.6 M960.0 775.4L960.3 768.5 M960.0 775.4L967.5 772.6 M960.0 775.4L952.7 780.7 M960.0 775.4L959.8 784.8 M960.0 775.4L967.2 780.7 M984.5 775.4L979.7 772.6 M984.5 775.4L987.1 768.5 M984.5 775.4L994.3 772.6 M984.5 775.4L979.5 780.7 M984.5 775.4L986.7 784.8 M984.5 775.4L994.1 780.7 M1018.0 775.4L1011.1 772.6 M1018.0 775.4L1018.5 768.5 M1018.0 775.4L1025.6 772.6 M1018.0 775.4L1010.8 780.7 M1018.0 775.4L1018.0 784.8 M1018.0 775.4L1025.4 780.7 M1042.0 775.4L1037.6 772.6 M1042.0 775.4L1045.0 768.5 M1042.0 775.4L1052.2 772.6 M1042.0 775.4L1037.4 780.7 M1042.0 775.4L1044.6 784.8 M1042.0 775.4L1052.0 780.7 M918.2 802.4L909.8 798.3 M918.2 802.4L917.2 794.2 M918.2 802.4L924.4 798.3 M918.2 802.4L909.5 806.4 M918.2 802.4L916.7 810.5 M918.2 802.4L924.1 806.4 M943.4 802.4L937.0 798.3 M943.4 802.4L944.4 794.2 M943.4 802.4L951.5 798.3 M943.4 802.4L936.7 806.4 M943.4 802.4L943.9 810.5 M943.4 802.4L951.3 806.4 M976.3 802.4L968.0 798.3 M976.3 802.4L975.4 794.2 M976.3 802.4L982.6 798.3 M976.3 802.4L967.7 806.4 M976.3 802.4L974.9 810.5 M976.3 802.4L982.3 806.4 M1001.0 802.4L994.9 798.3 M1001.0 802.4L1002.3 794.2 M1001.0 802.4L1009.5 798.3 M1001.0 802.4L994.7 806.4 M1001.0 802.4L1001.8 810.5 M1001.0 802.4L1009.2 806.4 M1034.7 802.4L1026.3 798.3 M1034.7 802.4L1033.7 794.2 M1034.7 802.4L1040.9 798.3 M1034.7 802.4L1026.1 806.4 M1034.7 802.4L1033.3 810.5 M1034.7 802.4L1040.7 806.4 M1059.6 802.4L1053.4 798.3 M1059.6 802.4L1060.8 794.2 M1059.6 802.4L1067.9 798.3 M1059.6 802.4L1053.1 806.4 M1059.6 802.4L1060.3 810.5 M1059.6 802.4L1067.7 806.4 M930.0 824.2L922.6 821.4 M930.0 824.2L930.0 817.3 M930.0 824.2L937.2 821.4 M930.0 824.2L922.4 829.5 M930.0 824.2L929.5 833.6 M930.0 824.2L936.9 829.5 M954.4 824.2L949.4 821.4 M954.4 824.2L956.8 817.3 M954.4 824.2L964.0 821.4 M954.4 824.2L949.1 829.5 M954.4 824.2L956.3 833.6 M954.4 824.2L963.7 829.5 M987.9 824.2L980.7 821.4 M987.9 824.2L988.1 817.3 M987.9 824.2L995.3 821.4 M987.9 824.2L980.5 829.5 M987.9 824.2L987.6 833.6 M987.9 824.2L995.0 829.5 M1012.8 824.2L1007.7 821.4 M1012.8 824.2L1015.1 817.3 M1012.8 824.2L1022.3 821.4 M1012.8 824.2L1007.5 829.5 M1012.8 824.2L1014.7 833.6 M1012.8 824.2L1022.1 829.5 M1046.0 824.2L1038.9 821.4 M1046.0 824.2L1046.3 817.3 M1046.0 824.2L1053.5 821.4 M1046.0 824.2L1038.7 829.5 M1046.0 824.2L1045.8 833.6 M1046.0 824.2L1053.2 829.5 M1070.6 824.2L1065.8 821.4 M1070.6 824.2L1073.2 817.3 M1070.6 824.2L1080.4 821.4 M1070.6 824.2L1065.5 829.5 M1070.6 824.2L1072.7 833.6 M1070.6 824.2L1080.1 829.5" stroke="#9c9c8c" stroke-width="1.4" fill="none"/><path d="M854.2 700.6L846.0 696.6 M861.6 696.6L860.8 688.4 M868.8 700.6L875.1 696.6 M853.9 708.8L845.5 712.8 M861.1 712.8L859.8 721.0 M868.5 708.8L874.6 712.8 M881.3 700.6L875.1 696.6 M888.7 696.6L889.9 688.4 M895.8 700.6L904.3 696.6 M881.0 708.8L874.6 712.8 M888.2 712.8L889.0 721.0 M895.6 708.8L903.8 712.8 M912.5 700.6L904.3 696.6 M919.9 696.6L919.1 688.4 M927.1 700.6L933.4 696.6 M912.3 708.8L903.8 712.8 M919.5 712.8L918.1 721.0 M926.9 708.8L932.9 712.8 M939.3 700.6L933.4 696.6 M946.7 696.6L948.2 688.4 M953.9 700.6L962.6 696.6 M939.1 708.8L932.9 712.8 M946.2 712.8L947.3 721.0 M953.6 708.8L962.1 712.8 M970.6 700.6L962.6 696.6 M978.0 696.6L977.4 688.4 M985.2 700.6L991.7 696.6 M970.3 708.8L962.1 712.8 M977.5 712.8L976.4 721.0 M984.9 708.8L991.2 712.8 M997.4 700.6L991.7 696.6 M1004.8 696.6L1006.5 688.4 M1011.9 700.6L1020.9 696.6 M997.1 708.8L991.2 712.8 M1004.3 712.8L1005.6 721.0 M1011.7 708.8L1020.4 712.8 M866.5 724.0L859.8 721.0 M873.9 719.9L874.6 712.8 M881.1 724.0L889.0 721.0 M866.3 732.1L859.3 737.2 M873.4 736.2L873.7 745.4 M880.8 732.1L888.5 737.2 M893.7 724.0L889.0 721.0 M901.1 719.9L903.8 712.8 M908.3 724.0L918.1 721.0 M893.4 732.1L888.5 737.2 M900.6 736.2L902.8 745.4 M908.0 732.1L917.6 737.2 M925.0 724.0L918.1 721.0 M932.4 719.9L932.9 712.8 M939.5 724.0L947.3 721.0 M924.7 732.1L917.6 737.2 M931.9 736.2L932.0 745.4 M939.3 732.1L946.8 737.2 M951.7 724.0L947.3 721.0 M959.1 719.9L962.1 712.8 M966.3 724.0L976.4 721.0 M951.5 732.1L946.8 737.2 M958.7 736.2L961.1 745.4 M966.1 732.1L975.9 737.2 M983.1 724.0L976.4 721.0 M990.5 719.9L991.2 712.8 M997.6 724.0L1005.6 721.0 M982.8 732.1L975.9 737.2 M990.0 736.2L990.3 745.4 M997.4 732.1L1005.1 737.2 M1009.8 724.0L1005.6 721.0 M1017.2 719.9L1020.4 712.8 M1024.4 724.0L1034.7 721.0 M1009.5 732.1L1005.1 737.2 M1016.7 736.2L1019.4 745.4 M1024.1 732.1L1034.2 737.2 M881.8 749.4L873.7 745.4 M889.2 745.4L888.5 737.2 M896.4 749.4L902.8 745.4 M881.6 757.6L873.2 761.6 M888.8 761.6L887.5 769.8 M896.2 757.6L902.3 761.6 M908.9 749.4L902.8 745.4 M916.3 745.4L917.6 737.2 M923.5 749.4L932.0 745.4 M908.7 757.6L902.3 761.6 M915.8 761.6L916.7 769.8 M923.2 757.6L931.5 761.6 M940.2 749.4L932.0 745.4 M947.6 745.4L946.8 737.2 M954.8 749.4L961.1 745.4 M940.0 757.6L931.5 761.6 M947.2 761.6L945.8 769.8 M954.6 757.6L960.6 761.6 M967.3 749.4L961.1 745.4 M974.7 745.4L975.9 737.2 M981.9 749.4L990.3 745.4 M967.1 757.6L960.6 761.6 M974.2 761.6L975.0 769.8 M981.6 757.6L989.8 761.6 M998.6 749.4L990.3 745.4 M1006.0 745.4L1005.1 737.2 M1013.2 749.4L1019.4 745.4 M998.4 757.6L989.8 761.6 M1005.6 761.6L1004.1 769.8 M1013.0 757.6L1018.9 761.6 M1025.2 749.4L1019.4 745.4 M1032.6 745.4L1034.2 737.2 M1039.8 749.4L1048.6 745.4 M1025.0 757.6L1018.9 761.6 M1032.1 761.6L1033.3 769.8 M1039.5 757.6L1048.1 761.6 M894.5 772.6L887.5 769.8 M901.9 768.5L902.3 761.6 M909.1 772.6L916.7 769.8 M894.3 780.7L887.0 786.0 M901.4 784.8L901.4 794.2 M908.8 780.7L916.2 786.0 M921.4 772.6L916.7 769.8 M928.8 768.5L931.5 761.6 M936.0 772.6L945.8 769.8 M921.2 780.7L916.2 786.0 M928.4 784.8L930.5 794.2 M935.8 780.7L945.3 786.0 M952.9 772.6L945.8 769.8 M960.3 768.5L960.6 761.6 M967.5 772.6L975.0 769.8 M952.7 780.7L945.3 786.0 M959.8 784.8L959.7 794.2 M967.2 780.7L974.5 786.0 M979.7 772.6L975.0 769.8 M987.1 768.5L989.8 761.6 M994.3 772.6L1004.1 769.8 M979.5 780.7L974.5 786.0 M986.7 784.8L988.8 794.2 M994.1 780.7L1003.6 786.0 M1011.1 772.6L1004.1 769.8 M1018.5 768.5L1018.9 761.6 M1025.6 772.6L1033.3 769.8 M1010.8 780.7L1003.6 786.0 M1018.0 784.8L1018.0 794.2 M1025.4 780.7L1032.8 786.0 M1037.6 772.6L1033.3 769.8 M1045.0 768.5L1048.1 761.6 M1052.2 772.6L1062.4 769.8 M1037.4 780.7L1032.8 786.0 M1044.6 784.8L1047.1 794.2 M1052.0 780.7L1061.9 786.0 M909.8 798.3L901.4 794.2 M917.2 794.2L916.2 786.0 M924.4 798.3L930.5 794.2 M909.5 806.4L900.9 810.4 M916.7 810.5L915.2 818.6 M924.1 806.4L930.0 810.4 M937.0 798.3L930.5 794.2 M944.4 794.2L945.3 786.0 M951.5 798.3L959.7 794.2 M936.7 806.4L930.0 810.4 M943.9 810.5L944.4 818.6 M951.3 806.4L959.2 810.4 M968.0 798.3L959.7 794.2 M975.4 794.2L974.5 786.0 M982.6 798.3L988.8 794.2 M967.7 806.4L959.2 810.4 M974.9 810.5L973.5 818.6 M982.3 806.4L988.3 810.4 M994.9 798.3L988.8 794.2 M1002.3 794.2L1003.6 786.0 M1009.5 798.3L1018.0 794.2 M994.7 806.4L988.3 810.4 M1001.8 810.5L1002.7 818.6 M1009.2 806.4L1017.5 810.4 M1026.3 798.3L1018.0 794.2 M1033.7 794.2L1032.8 786.0 M1040.9 798.3L1047.1 794.2 M1026.1 806.4L1017.5 810.4 M1033.3 810.5L1031.8 818.6 M1040.7 806.4L1046.6 810.4 M1053.4 798.3L1047.1 794.2 M1060.8 794.2L1061.9 786.0 M1067.9 798.3L1076.3 794.2 M1053.1 806.4L1046.6 810.4 M1060.3 810.5L1061.0 818.6 M1067.7 806.4L1075.8 810.4 M922.6 821.4L915.2 818.6 M930.0 817.3L930.0 810.4 M937.2 821.4L944.4 818.6 M922.4 829.5L914.7 834.8 M929.5 833.6L929.1 843.0 M936.9 829.5L943.9 834.8 M949.4 821.4L944.4 818.6 M956.8 817.3L959.2 810.4 M964.0 821.4L973.5 818.6 M949.1 829.5L943.9 834.8 M956.3 833.6L958.2 843.0 M963.7 829.5L973.0 834.8 M980.7 821.4L973.5 818.6 M988.1 817.3L988.3 810.4 M995.3 821.4L1002.7 818.6 M980.5 829.5L973.0 834.8 M987.6 833.6L987.4 843.0 M995.0 829.5L1002.2 834.8 M1007.7 821.4L1002.7 818.6 M1015.1 817.3L1017.5 810.4 M1022.3 821.4L1031.8 818.6 M1007.5 829.5L1002.2 834.8 M1014.7 833.6L1016.5 843.0 M1022.1 829.5L1031.3 834.8 M1038.9 821.4L1031.8 818.6 M1046.3 817.3L1046.6 810.4 M1053.5 821.4L1061.0 818.6 M1038.7 829.5L1031.3 834.8 M1045.8 833.6L1045.7 843.0 M1053.2 829.5L1060.5 834.8 M1065.8 821.4L1061.0 818.6 M1073.2 817.3L1075.8 810.4 M1080.4 821.4L1090.1 818.6 M1065.5 829.5L1060.5 834.8 M1072.7 833.6L1074.8 843.0 M1080.1 829.5L1089.6 834.8" stroke="#e8de2c" stroke-width="1.4" fill="none"/>
<circle cx="846.0" cy="696.6" r="3.0" fill="url(#gY2)"/>
<circle cx="860.8" cy="688.4" r="3.0" fill="url(#gY2)"/>
<circle cx="875.1" cy="696.6" r="3.0" fill="url(#gY2)"/>
<circle cx="889.9" cy="688.4" r="3.0" fill="url(#gY2)"/>
<circle cx="904.3" cy="696.6" r="3.0" fill="url(#gY2)"/>
<circle cx="919.1" cy="688.4" r="3.0" fill="url(#gY2)"/>
<circle cx="933.4" cy="696.6" r="3.0" fill="url(#gY2)"/>
<circle cx="948.2" cy="688.4" r="3.0" fill="url(#gY2)"/>
<circle cx="962.6" cy="696.6" r="3.0" fill="url(#gY2)"/>
<circle cx="977.4" cy="688.4" r="3.0" fill="url(#gY2)"/>
<circle cx="991.7" cy="696.6" r="3.0" fill="url(#gY2)"/>
<circle cx="1006.5" cy="688.4" r="3.0" fill="url(#gY2)"/>
<circle cx="1020.9" cy="696.6" r="3.0" fill="url(#gY2)"/>
<circle cx="845.5" cy="712.8" r="3.0" fill="url(#gY2)"/>
<circle cx="859.8" cy="721.0" r="3.0" fill="url(#gY2)"/>
<circle cx="874.6" cy="712.8" r="3.0" fill="url(#gY2)"/>
<circle cx="889.0" cy="721.0" r="3.0" fill="url(#gY2)"/>
<circle cx="903.8" cy="712.8" r="3.0" fill="url(#gY2)"/>
<circle cx="918.1" cy="721.0" r="3.0" fill="url(#gY2)"/>
<circle cx="932.9" cy="712.8" r="3.0" fill="url(#gY2)"/>
<circle cx="947.3" cy="721.0" r="3.0" fill="url(#gY2)"/>
<circle cx="962.1" cy="712.8" r="3.0" fill="url(#gY2)"/>
<circle cx="976.4" cy="721.0" r="3.0" fill="url(#gY2)"/>
<circle cx="991.2" cy="712.8" r="3.0" fill="url(#gY2)"/>
<circle cx="1005.6" cy="721.0" r="3.0" fill="url(#gY2)"/>
<circle cx="1020.4" cy="712.8" r="3.0" fill="url(#gY2)"/>
<circle cx="1034.7" cy="721.0" r="3.0" fill="url(#gY2)"/>
<circle cx="859.3" cy="737.2" r="3.0" fill="url(#gY2)"/>
<circle cx="873.7" cy="745.4" r="3.0" fill="url(#gY2)"/>
<circle cx="888.5" cy="737.2" r="3.0" fill="url(#gY2)"/>
<circle cx="902.8" cy="745.4" r="3.0" fill="url(#gY2)"/>
<circle cx="917.6" cy="737.2" r="3.0" fill="url(#gY2)"/>
<circle cx="932.0" cy="745.4" r="3.0" fill="url(#gY2)"/>
<circle cx="946.8" cy="737.2" r="3.0" fill="url(#gY2)"/>
<circle cx="961.1" cy="745.4" r="3.0" fill="url(#gY2)"/>
<circle cx="975.9" cy="737.2" r="3.0" fill="url(#gY2)"/>
<circle cx="990.3" cy="745.4" r="3.0" fill="url(#gY2)"/>
<circle cx="1005.1" cy="737.2" r="3.0" fill="url(#gY2)"/>
<circle cx="1019.4" cy="745.4" r="3.0" fill="url(#gY2)"/>
<circle cx="1034.2" cy="737.2" r="3.0" fill="url(#gY2)"/>
<circle cx="1048.6" cy="745.4" r="3.0" fill="url(#gY2)"/>
<circle cx="873.2" cy="761.6" r="3.0" fill="url(#gY2)"/>
<circle cx="887.5" cy="769.8" r="3.0" fill="url(#gY2)"/>
<circle cx="902.3" cy="761.6" r="3.0" fill="url(#gY2)"/>
<circle cx="916.7" cy="769.8" r="3.0" fill="url(#gY2)"/>
<circle cx="931.5" cy="761.6" r="3.0" fill="url(#gY2)"/>
<circle cx="945.8" cy="769.8" r="3.0" fill="url(#gY2)"/>
<circle cx="960.6" cy="761.6" r="3.0" fill="url(#gY2)"/>
<circle cx="975.0" cy="769.8" r="3.0" fill="url(#gY2)"/>
<circle cx="989.8" cy="761.6" r="3.0" fill="url(#gY2)"/>
<circle cx="1004.1" cy="769.8" r="3.0" fill="url(#gY2)"/>
<circle cx="1018.9" cy="761.6" r="3.0" fill="url(#gY2)"/>
<circle cx="1033.3" cy="769.8" r="3.0" fill="url(#gY2)"/>
<circle cx="1048.1" cy="761.6" r="3.0" fill="url(#gY2)"/>
<circle cx="1062.4" cy="769.8" r="3.0" fill="url(#gY2)"/>
<circle cx="887.0" cy="786.0" r="3.0" fill="url(#gY2)"/>
<circle cx="901.4" cy="794.2" r="3.0" fill="url(#gY2)"/>
<circle cx="916.2" cy="786.0" r="3.0" fill="url(#gY2)"/>
<circle cx="930.5" cy="794.2" r="3.0" fill="url(#gY2)"/>
<circle cx="945.3" cy="786.0" r="3.0" fill="url(#gY2)"/>
<circle cx="959.7" cy="794.2" r="3.0" fill="url(#gY2)"/>
<circle cx="974.5" cy="786.0" r="3.0" fill="url(#gY2)"/>
<circle cx="988.8" cy="794.2" r="3.0" fill="url(#gY2)"/>
<circle cx="1003.6" cy="786.0" r="3.0" fill="url(#gY2)"/>
<circle cx="1018.0" cy="794.2" r="3.0" fill="url(#gY2)"/>
<circle cx="1032.8" cy="786.0" r="3.0" fill="url(#gY2)"/>
<circle cx="1047.1" cy="794.2" r="3.0" fill="url(#gY2)"/>
<circle cx="1061.9" cy="786.0" r="3.0" fill="url(#gY2)"/>
<circle cx="1076.3" cy="794.2" r="3.0" fill="url(#gY2)"/>
<circle cx="900.9" cy="810.4" r="3.0" fill="url(#gY2)"/>
<circle cx="915.2" cy="818.6" r="3.0" fill="url(#gY2)"/>
<circle cx="930.0" cy="810.4" r="3.0" fill="url(#gY2)"/>
<circle cx="944.4" cy="818.6" r="3.0" fill="url(#gY2)"/>
<circle cx="959.2" cy="810.4" r="3.0" fill="url(#gY2)"/>
<circle cx="973.5" cy="818.6" r="3.0" fill="url(#gY2)"/>
<circle cx="988.3" cy="810.4" r="3.0" fill="url(#gY2)"/>
<circle cx="1002.7" cy="818.6" r="3.0" fill="url(#gY2)"/>
<circle cx="1017.5" cy="810.4" r="3.0" fill="url(#gY2)"/>
<circle cx="1031.8" cy="818.6" r="3.0" fill="url(#gY2)"/>
<circle cx="1046.6" cy="810.4" r="3.0" fill="url(#gY2)"/>
<circle cx="1061.0" cy="818.6" r="3.0" fill="url(#gY2)"/>
<circle cx="1075.8" cy="810.4" r="3.0" fill="url(#gY2)"/>
<circle cx="1090.1" cy="818.6" r="3.0" fill="url(#gY2)"/>
<circle cx="914.7" cy="834.8" r="3.0" fill="url(#gY2)"/>
<circle cx="929.1" cy="843.0" r="3.0" fill="url(#gY2)"/>
<circle cx="943.9" cy="834.8" r="3.0" fill="url(#gY2)"/>
<circle cx="958.2" cy="843.0" r="3.0" fill="url(#gY2)"/>
<circle cx="973.0" cy="834.8" r="3.0" fill="url(#gY2)"/>
<circle cx="987.4" cy="843.0" r="3.0" fill="url(#gY2)"/>
<circle cx="1002.2" cy="834.8" r="3.0" fill="url(#gY2)"/>
<circle cx="1016.5" cy="843.0" r="3.0" fill="url(#gY2)"/>
<circle cx="1031.3" cy="834.8" r="3.0" fill="url(#gY2)"/>
<circle cx="1045.7" cy="843.0" r="3.0" fill="url(#gY2)"/>
<circle cx="1060.5" cy="834.8" r="3.0" fill="url(#gY2)"/>
<circle cx="1074.8" cy="843.0" r="3.0" fill="url(#gY2)"/>
<circle cx="1089.6" cy="834.8" r="3.0" fill="url(#gY2)"/>
<circle cx="862.4" cy="704.7" r="4.6" fill="url(#gRe)"/>
<circle cx="887.4" cy="704.7" r="4.6" fill="url(#gRe)"/>
<circle cx="920.8" cy="704.7" r="4.6" fill="url(#gRe)"/>
<circle cx="945.2" cy="704.7" r="4.6" fill="url(#gRe)"/>
<circle cx="978.6" cy="704.7" r="4.6" fill="url(#gRe)"/>
<circle cx="1003.0" cy="704.7" r="4.6" fill="url(#gRe)"/>
<circle cx="873.2" cy="727.0" r="4.6" fill="url(#gRe)"/>
<circle cx="898.4" cy="727.0" r="4.6" fill="url(#gRe)"/>
<circle cx="931.8" cy="727.0" r="4.6" fill="url(#gRe)"/>
<circle cx="956.2" cy="727.0" r="4.6" fill="url(#gRe)"/>
<circle cx="989.7" cy="727.0" r="4.6" fill="url(#gRe)"/>
<circle cx="1014.0" cy="727.0" r="4.6" fill="url(#gRe)"/>
<circle cx="890.0" cy="753.5" r="4.6" fill="url(#gRe)"/>
<circle cx="915.0" cy="753.5" r="4.6" fill="url(#gRe)"/>
<circle cx="948.5" cy="753.5" r="4.6" fill="url(#gRe)"/>
<circle cx="973.5" cy="753.5" r="4.6" fill="url(#gRe)"/>
<circle cx="1007.0" cy="753.5" r="4.6" fill="url(#gRe)"/>
<circle cx="1031.0" cy="753.5" r="4.6" fill="url(#gRe)"/>
<circle cx="901.5" cy="775.4" r="4.6" fill="url(#gRe)"/>
<circle cx="926.2" cy="775.4" r="4.6" fill="url(#gRe)"/>
<circle cx="960.0" cy="775.4" r="4.6" fill="url(#gRe)"/>
<circle cx="984.5" cy="775.4" r="4.6" fill="url(#gRe)"/>
<circle cx="1018.0" cy="775.4" r="4.6" fill="url(#gRe)"/>
<circle cx="1042.0" cy="775.4" r="4.6" fill="url(#gRe)"/>
<circle cx="918.2" cy="802.4" r="4.6" fill="url(#gRe)"/>
<circle cx="943.4" cy="802.4" r="4.6" fill="url(#gRe)"/>
<circle cx="976.3" cy="802.4" r="4.6" fill="url(#gRe)"/>
<circle cx="1001.0" cy="802.4" r="4.6" fill="url(#gRe)"/>
<circle cx="1034.7" cy="802.4" r="4.6" fill="url(#gRe)"/>
<circle cx="1059.6" cy="802.4" r="4.6" fill="url(#gRe)"/>
<circle cx="930.0" cy="824.2" r="4.6" fill="url(#gRe)"/>
<circle cx="954.4" cy="824.2" r="4.6" fill="url(#gRe)"/>
<circle cx="987.9" cy="824.2" r="4.6" fill="url(#gRe)"/>
<circle cx="1012.8" cy="824.2" r="4.6" fill="url(#gRe)"/>
<circle cx="1046.0" cy="824.2" r="4.6" fill="url(#gRe)"/>
<circle cx="1070.6" cy="824.2" r="4.6" fill="url(#gRe)"/>
<path d="M893.8 782.6H951.1L979.4 831.4H921.5Z" fill="none" stroke="#222" stroke-width="0.7"/>
<path d="M850 791.5L866.3 819.6H897" stroke="#000" stroke-width="2.3" fill="none" stroke-linejoin="miter"/>
<path d="M904 819.6L895.5 816.2V823Z M847.3 786.8L848.4 796L854.4 792.5Z" fill="#000"/>
<text x="835.5" y="808" font-size="14.5">b</text><path d="M835 793.5H844.5M842 791.5L844.8 793.5L842 795.5" stroke="#000" stroke-width="0.8" fill="none"/>
<text x="879" y="838.5" font-size="14.5">a</text><path d="M878 826H887.5M885 824L887.8 826L885 828" stroke="#000" stroke-width="0.8" fill="none"/>
<path d="M873.0 909.8H1070.5" stroke="#b4b4a2" stroke-width="2"/>
<path d="M873.0 909.8L868.2 903.0 M873.0 909.8L878.7 904.3 M873.0 909.8L869.3 904.2 M873.0 909.8L879.8 905.6 M873.0 909.8L865.5 914.7 M873.0 909.8L875.1 915.6 M873.0 909.8L873.9 914.4 M890.3 909.8L887.3 904.3 M890.3 909.8L888.4 905.6 M890.3 909.8L883.7 915.6 M890.3 909.8L893.9 914.7 M890.3 909.8L882.5 914.4 M890.3 909.8L892.7 913.5 M907.7 909.8L906.2 903.0 M907.7 909.8L907.3 904.2 M907.7 909.8L902.6 914.7 M907.7 909.8L912.4 915.6 M907.7 909.8L901.4 913.5 M907.7 909.8L911.2 914.4 M913.0 909.8L908.8 903.0 M913.0 909.8L918.6 904.3 M913.0 909.8L909.9 904.2 M913.0 909.8L919.7 905.6 M913.0 909.8L905.2 914.7 M913.0 909.8L915.0 915.6 M913.0 909.8L913.8 914.4 M931.0 909.8L927.6 904.3 M931.0 909.8L928.7 905.6 M931.0 909.8L924.0 915.6 M931.0 909.8L934.5 914.7 M931.0 909.8L922.8 914.4 M931.0 909.8L933.3 913.5 M948.9 909.8L946.9 903.0 M948.9 909.8L948.0 904.2 M948.9 909.8L943.5 914.7 M948.9 909.8L953.3 915.6 M948.9 909.8L942.3 913.5 M948.9 909.8L952.1 914.4 M954.4 909.8L949.6 903.0 M954.4 909.8L959.7 904.3 M954.4 909.8L950.7 904.2 M954.4 909.8L960.8 905.6 M954.4 909.8L946.3 914.7 M954.4 909.8L956.1 915.6 M954.4 909.8L954.9 914.4 M971.2 909.8L968.1 904.3 M971.2 909.8L969.2 905.6 M971.2 909.8L964.5 915.6 M971.2 909.8L974.8 914.7 M971.2 909.8L963.3 914.4 M971.2 909.8L973.6 913.5 M988.9 909.8L986.8 903.0 M988.9 909.8L987.9 904.2 M988.9 909.8L983.6 914.7 M988.9 909.8L993.7 915.6 M988.9 909.8L982.4 913.5 M988.9 909.8L992.5 914.4 M994.4 909.8L989.6 903.0 M994.4 909.8L999.8 904.3 M994.4 909.8L990.7 904.2 M994.4 909.8L1000.9 905.6 M994.4 909.8L986.4 914.7 M994.4 909.8L996.4 915.6 M994.4 909.8L995.2 914.4 M1011.9 909.8L1008.5 904.3 M1011.9 909.8L1018.4 903.0 M1011.9 909.8L1009.6 905.6 M1011.9 909.8L1019.5 904.2 M1011.9 909.8L1005.2 915.6 M1011.9 909.8L1015.1 914.7 M1011.9 909.8L1004.0 914.4 M1011.9 909.8L1013.9 913.5 M1029.6 909.8L1027.3 903.0 M1029.6 909.8L1028.4 904.2 M1029.6 909.8L1023.9 914.7 M1029.6 909.8L1034.4 915.6 M1029.6 909.8L1022.7 913.5 M1029.6 909.8L1033.2 914.4 M1035.1 909.8L1030.0 903.0 M1035.1 909.8L1040.5 904.3 M1035.1 909.8L1031.1 904.2 M1035.1 909.8L1041.6 905.6 M1035.1 909.8L1037.1 915.6 M1035.1 909.8L1035.9 914.4 M1052.5 909.8L1049.2 904.3 M1052.5 909.8L1050.3 905.6 M1052.5 909.8L1045.8 915.6 M1052.5 909.8L1055.8 914.7 M1052.5 909.8L1044.6 914.4 M1052.5 909.8L1054.6 913.5 M1070.5 909.8L1068.3 903.0 M1070.5 909.8L1069.4 904.2 M1070.5 909.8L1064.7 914.7 M1070.5 909.8L1075.5 915.6 M1070.5 909.8L1063.5 913.5 M1070.5 909.8L1074.3 914.4" stroke="#a4a494" stroke-width="1.5" fill="none"/><path d="M868.2 903.0L863.5 896.1 M878.7 904.3L884.3 898.8 M869.3 904.2L865.7 898.7 M879.8 905.6L886.5 901.4 M865.5 914.7L858.0 919.6 M875.1 915.6L877.1 921.4 M873.9 914.4L874.7 919.0 M887.3 904.3L884.3 898.8 M888.4 905.6L886.5 901.4 M883.7 915.6L877.1 921.4 M893.9 914.7L897.4 919.6 M882.5 914.4L874.7 919.0 M892.7 913.5L895.0 917.2 M906.2 903.0L904.6 896.1 M907.3 904.2L906.8 898.7 M902.6 914.7L897.4 919.6 M912.4 915.6L917.1 921.4 M901.4 913.5L895.0 917.2 M911.2 914.4L914.7 919.0 M908.8 903.0L904.6 896.1 M918.6 904.3L924.3 898.8 M909.9 904.2L906.8 898.7 M919.7 905.6L926.5 901.4 M905.2 914.7L897.4 919.6 M915.0 915.6L917.1 921.4 M913.8 914.4L914.7 919.0 M927.6 904.3L924.3 898.8 M928.7 905.6L926.5 901.4 M924.0 915.6L917.1 921.4 M934.5 914.7L938.1 919.6 M922.8 914.4L914.7 919.0 M933.3 913.5L935.7 917.2 M946.9 903.0L944.8 896.1 M948.0 904.2L947.0 898.7 M943.5 914.7L938.1 919.6 M953.3 915.6L957.8 921.4 M942.3 913.5L935.7 917.2 M952.1 914.4L955.4 919.0 M949.6 903.0L944.8 896.1 M959.7 904.3L964.9 898.8 M950.7 904.2L947.0 898.7 M960.8 905.6L967.1 901.4 M946.3 914.7L938.1 919.6 M956.1 915.6L957.8 921.4 M954.9 914.4L955.4 919.0 M968.1 904.3L964.9 898.8 M969.2 905.6L967.1 901.4 M964.5 915.6L957.8 921.4 M974.8 914.7L978.3 919.6 M963.3 914.4L955.4 919.0 M973.6 913.5L975.9 917.2 M986.8 903.0L984.8 896.1 M987.9 904.2L987.0 898.7 M983.6 914.7L978.3 919.6 M993.7 915.6L998.4 921.4 M982.4 913.5L975.9 917.2 M992.5 914.4L996.0 919.0 M989.6 903.0L984.8 896.1 M999.8 904.3L1005.2 898.8 M990.7 904.2L987.0 898.7 M1000.9 905.6L1007.4 901.4 M986.4 914.7L978.3 919.6 M996.4 915.6L998.4 921.4 M995.2 914.4L996.0 919.0 M1008.5 904.3L1005.2 898.8 M1018.4 903.0L1025.0 896.1 M1009.6 905.6L1007.4 901.4 M1019.5 904.2L1027.2 898.7 M1005.2 915.6L998.4 921.4 M1015.1 914.7L1018.3 919.6 M1004.0 914.4L996.0 919.0 M1013.9 913.5L1015.9 917.2 M1027.3 903.0L1025.0 896.1 M1028.4 904.2L1027.2 898.7 M1023.9 914.7L1018.3 919.6 M1034.4 915.6L1039.1 921.4 M1022.7 913.5L1015.9 917.2 M1033.2 914.4L1036.7 919.0 M1030.0 903.0L1025.0 896.1 M1040.5 904.3L1045.8 898.8 M1031.1 904.2L1027.2 898.7 M1041.6 905.6L1048.0 901.4 M1037.1 915.6L1039.1 921.4 M1035.9 914.4L1036.7 919.0 M1049.2 904.3L1045.8 898.8 M1050.3 905.6L1048.0 901.4 M1045.8 915.6L1039.1 921.4 M1055.8 914.7L1059.0 919.6 M1044.6 914.4L1036.7 919.0 M1054.6 913.5L1056.6 917.2 M1068.3 903.0L1066.2 896.1 M1069.4 904.2L1068.4 898.7 M1064.7 914.7L1059.0 919.6 M1075.5 915.6L1080.5 921.4 M1063.5 913.5L1056.6 917.2 M1074.3 914.4L1078.1 919.0" stroke="#e2d82a" stroke-width="1.5" fill="none"/>
<circle cx="863.5" cy="896.1" r="2.6" fill="url(#gY2)"/>
<circle cx="884.3" cy="898.8" r="2.6" fill="url(#gY2)"/>
<circle cx="904.6" cy="896.1" r="2.6" fill="url(#gY2)"/>
<circle cx="924.3" cy="898.8" r="2.6" fill="url(#gY2)"/>
<circle cx="944.8" cy="896.1" r="2.6" fill="url(#gY2)"/>
<circle cx="964.9" cy="898.8" r="2.6" fill="url(#gY2)"/>
<circle cx="984.8" cy="896.1" r="2.6" fill="url(#gY2)"/>
<circle cx="1005.2" cy="898.8" r="2.6" fill="url(#gY2)"/>
<circle cx="1025.0" cy="896.1" r="2.6" fill="url(#gY2)"/>
<circle cx="1045.8" cy="898.8" r="2.6" fill="url(#gY2)"/>
<circle cx="1066.2" cy="896.1" r="2.6" fill="url(#gY2)"/>
<circle cx="1086.1" cy="898.8" r="2.6" fill="url(#gY2)"/>
<circle cx="865.7" cy="898.7" r="2.6" fill="url(#gY2)"/>
<circle cx="886.5" cy="901.4" r="2.6" fill="url(#gY2)"/>
<circle cx="906.8" cy="898.7" r="2.6" fill="url(#gY2)"/>
<circle cx="926.5" cy="901.4" r="2.6" fill="url(#gY2)"/>
<circle cx="947.0" cy="898.7" r="2.6" fill="url(#gY2)"/>
<circle cx="967.1" cy="901.4" r="2.6" fill="url(#gY2)"/>
<circle cx="987.0" cy="898.7" r="2.6" fill="url(#gY2)"/>
<circle cx="1007.4" cy="901.4" r="2.6" fill="url(#gY2)"/>
<circle cx="1027.2" cy="898.7" r="2.6" fill="url(#gY2)"/>
<circle cx="1048.0" cy="901.4" r="2.6" fill="url(#gY2)"/>
<circle cx="1068.4" cy="898.7" r="2.6" fill="url(#gY2)"/>
<circle cx="858.0" cy="919.6" r="2.6" fill="url(#gY2)"/>
<circle cx="877.1" cy="921.4" r="2.6" fill="url(#gY2)"/>
<circle cx="897.4" cy="919.6" r="2.6" fill="url(#gY2)"/>
<circle cx="917.1" cy="921.4" r="2.6" fill="url(#gY2)"/>
<circle cx="938.1" cy="919.6" r="2.6" fill="url(#gY2)"/>
<circle cx="957.8" cy="921.4" r="2.6" fill="url(#gY2)"/>
<circle cx="978.3" cy="919.6" r="2.6" fill="url(#gY2)"/>
<circle cx="998.4" cy="921.4" r="2.6" fill="url(#gY2)"/>
<circle cx="1018.3" cy="919.6" r="2.6" fill="url(#gY2)"/>
<circle cx="1039.1" cy="921.4" r="2.6" fill="url(#gY2)"/>
<circle cx="1059.0" cy="919.6" r="2.6" fill="url(#gY2)"/>
<circle cx="1080.5" cy="921.4" r="2.6" fill="url(#gY2)"/>
<circle cx="874.7" cy="919.0" r="2.6" fill="url(#gY2)"/>
<circle cx="895.0" cy="917.2" r="2.6" fill="url(#gY2)"/>
<circle cx="914.7" cy="919.0" r="2.6" fill="url(#gY2)"/>
<circle cx="935.7" cy="917.2" r="2.6" fill="url(#gY2)"/>
<circle cx="955.4" cy="919.0" r="2.6" fill="url(#gY2)"/>
<circle cx="975.9" cy="917.2" r="2.6" fill="url(#gY2)"/>
<circle cx="996.0" cy="919.0" r="2.6" fill="url(#gY2)"/>
<circle cx="1015.9" cy="917.2" r="2.6" fill="url(#gY2)"/>
<circle cx="1036.7" cy="919.0" r="2.6" fill="url(#gY2)"/>
<circle cx="1056.6" cy="917.2" r="2.6" fill="url(#gY2)"/>
<circle cx="1078.1" cy="919.0" r="2.6" fill="url(#gY2)"/>
<circle cx="873.0" cy="909.8" r="3.9" fill="url(#gRe)"/>
<circle cx="890.3" cy="909.8" r="3.9" fill="url(#gRe)"/>
<circle cx="907.7" cy="909.8" r="3.9" fill="url(#gRe)"/>
<circle cx="913.0" cy="909.8" r="3.9" fill="url(#gRe)"/>
<circle cx="931.0" cy="909.8" r="3.9" fill="url(#gRe)"/>
<circle cx="948.9" cy="909.8" r="3.9" fill="url(#gRe)"/>
<circle cx="954.4" cy="909.8" r="3.9" fill="url(#gRe)"/>
<circle cx="971.2" cy="909.8" r="3.9" fill="url(#gRe)"/>
<circle cx="988.9" cy="909.8" r="3.9" fill="url(#gRe)"/>
<circle cx="994.4" cy="909.8" r="3.9" fill="url(#gRe)"/>
<circle cx="1011.9" cy="909.8" r="3.9" fill="url(#gRe)"/>
<circle cx="1029.6" cy="909.8" r="3.9" fill="url(#gRe)"/>
<circle cx="1035.1" cy="909.8" r="3.9" fill="url(#gRe)"/>
<circle cx="1052.5" cy="909.8" r="3.9" fill="url(#gRe)"/>
<circle cx="1070.5" cy="909.8" r="3.9" fill="url(#gRe)"/>
<circle cx="872.3" cy="938.6" r="4.3" fill="url(#gRe)"/>
<circle cx="909.9" cy="938.1" r="3.6" fill="url(#gY2)"/>
<text x="882.6" y="943.8" font-size="12.8">Re</text><text x="923" y="943.8" font-size="12.8">S, Se</text>
<text x="105.0" y="978.5" font-size="17.13">BP, B-As</text>
<text x="252.9" y="978.0" font-size="16.71">GeS, GeSe, SnS, SnSe</text>
<text x="132.6" y="1015.8" font-size="21.15">Orthorhombic system</text>
<text x="528.2" y="1017.8" font-size="21.03">Monoclinic system</text>
<text x="903.6" y="1014.0" font-size="20.76">Triclinic system</text>
<text x="554.7" y="813.0" font-size="16.75">quasi-1D chain</text>
<text x="928.0" y="865.8" font-size="16.04">Re chain</text>
<text x="544.7" y="976.0" font-size="16.56"><tspan dy="0.0">TiS</tspan><tspan font-size="10.93" dy="3.3">3</tspan></text>
<text x="703.3" y="975.8" font-size="18.44"><tspan dy="0.0">Nb</tspan><tspan font-size="12.17" dy="3.7">2</tspan><tspan dy="-3.7">SiTe</tspan><tspan font-size="12.17" dy="3.7">4</tspan></text>
<text x="953.0" y="975.4" font-size="16.53"><tspan dy="0.0">ReS</tspan><tspan font-size="10.91" dy="3.3">2</tspan><tspan dy="-3.3">, ReSe</tspan><tspan font-size="10.91" dy="3.3">2</tspan></text>
</svg>
</body></html>
